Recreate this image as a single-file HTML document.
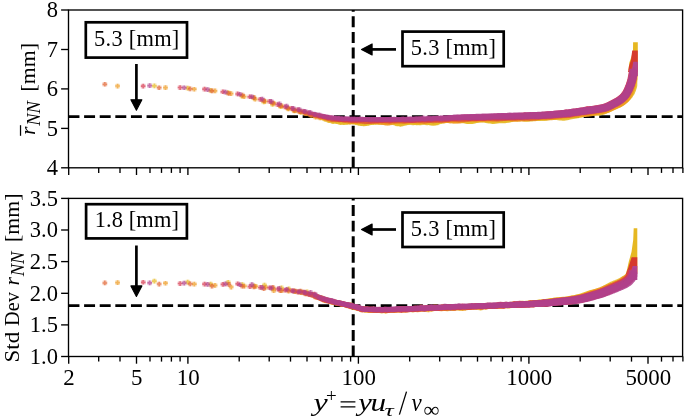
<!DOCTYPE html>
<html><head><meta charset="utf-8"><title>chart</title><style>html,body{margin:0;padding:0;background:#fff;overflow:hidden}svg{display:block;will-change:transform}svg text{font-family:"Liberation Serif",serif}</style></head><body>
<svg width="685" height="419" viewBox="0 0 685 419" font-family="Liberation Serif, serif" fill="#000">
<rect width="685" height="419" fill="#fff"/>
<defs><linearGradient id="g0" gradientUnits="userSpaceOnUse" x1="288" y1="0" x2="338" y2="0"><stop offset="0" stop-color="#e6b822" stop-opacity="0"/><stop offset="1" stop-color="#e6b822" stop-opacity="0.88"/></linearGradient><linearGradient id="g1" gradientUnits="userSpaceOnUse" x1="288" y1="0" x2="338" y2="0"><stop offset="0" stop-color="#ee9a20" stop-opacity="0"/><stop offset="1" stop-color="#ee9a20" stop-opacity="0.88"/></linearGradient><linearGradient id="g2" gradientUnits="userSpaceOnUse" x1="288" y1="0" x2="338" y2="0"><stop offset="0" stop-color="#e06230" stop-opacity="0"/><stop offset="1" stop-color="#e06230" stop-opacity="0.88"/></linearGradient><linearGradient id="g3" gradientUnits="userSpaceOnUse" x1="288" y1="0" x2="338" y2="0"><stop offset="0" stop-color="#d63a50" stop-opacity="0"/><stop offset="1" stop-color="#d63a50" stop-opacity="0.88"/></linearGradient><linearGradient id="g4" gradientUnits="userSpaceOnUse" x1="288" y1="0" x2="338" y2="0"><stop offset="0" stop-color="#b0408c" stop-opacity="0"/><stop offset="1" stop-color="#b0408c" stop-opacity="0.88"/></linearGradient></defs>
<line x1="68.5" y1="116.6" x2="682.6" y2="116.6" stroke="#000" stroke-width="2.9" stroke-dasharray="10.95 4.66"/>
<line x1="353.2" y1="167.8" x2="353.2" y2="10.0" stroke="#000" stroke-width="3.0" stroke-dasharray="10.95 4.66"/>
<path d="M633.1 42.2L637.8 42.2L637.8 70L628.5 70L629.3 62.7L631.7 56L633.0 50.3Z" fill="#e6b822"/>
<path d="M286.0 106.1L287.5 106.7L289.0 107.2L290.5 107.6L292.0 108.0L293.5 108.4L295.0 108.7L296.5 109.0L298.0 109.4L299.5 109.8L301.0 110.2L302.5 110.7L304.0 111.1L305.5 111.5L307.0 111.9L308.5 112.1L310.1 112.4L311.6 112.5L313.2 112.7L314.7 112.9L316.2 113.2L317.7 113.6L319.2 114.1L320.6 114.7L322.1 115.4L323.5 116.1L324.9 116.8L326.3 117.4L327.8 118.0L329.3 118.4L330.8 118.7L332.3 119.0L333.9 119.2L335.4 119.4L336.9 119.6L338.4 119.9L339.9 120.1L341.4 120.3L342.9 120.4L344.4 120.3L345.9 120.2L347.5 120.1L349.0 119.9L350.5 119.7L352.0 119.6L353.5 119.7L355.0 120.0L356.5 120.3L358.0 120.7L359.5 121.1L361.0 121.4L362.5 121.6L364.0 121.6L365.5 121.5L367.0 121.3L368.5 120.9L370.0 120.6L371.5 120.4L373.0 120.2L374.5 120.1L376.0 120.1L377.5 120.0L379.0 120.0L380.5 119.8L382.0 119.7L383.5 119.5L385.0 119.3L386.5 119.2L388.0 119.2L389.5 119.4L391.0 119.7L392.5 120.1L394.0 120.6L395.5 121.0L397.0 121.4L398.5 121.6L400.0 121.6L401.5 121.5L403.0 121.3L404.5 121.0L406.0 120.7L407.5 120.4L409.0 120.3L410.5 120.2L412.0 120.3L413.5 120.3L415.0 120.4L416.5 120.4L418.0 120.4L419.5 120.3L421.0 120.2L422.5 120.1L424.0 120.0L425.5 120.1L427.1 120.2L428.6 120.4L430.1 120.6L431.6 120.8L433.1 120.9L434.6 120.9L436.1 120.6L437.6 120.2L439.1 119.7L440.5 119.2L442.0 118.6L443.5 118.1L445.0 117.7L446.5 117.5L448.0 117.4L449.5 117.4L451.0 117.5L452.5 117.5L454.0 117.5L455.5 117.5L457.0 117.4L458.5 117.3L460.0 117.3L461.5 117.3L463.0 117.4L464.5 117.6L466.0 117.8L467.5 118.0L469.0 118.2L470.5 118.2L472.0 118.1L473.5 117.8L475.0 117.4L476.5 117.1L478.0 116.7L479.5 116.4L481.0 116.3L482.5 116.3L484.0 116.4L485.5 116.7L487.0 116.9L488.5 117.2L490.0 117.3L491.5 117.4L493.0 117.3L494.5 117.2L496.0 117.1L497.5 117.0L499.0 116.9L500.5 116.8L502.0 116.8L503.5 116.7L505.0 116.6L506.5 116.4L508.0 116.2L509.5 115.8L511.0 115.4L512.5 114.9L514.0 114.6L515.5 114.3L517.0 114.1L518.5 114.0L520.0 114.1L521.5 114.3L523.0 114.5L524.5 114.6L526.0 114.7L527.5 114.7L529.0 114.7L530.5 114.5L532.0 114.4L533.5 114.2L535.0 114.1L536.4 113.9L537.9 113.9L539.4 113.8L540.9 113.8L542.4 113.7L543.9 113.6L545.4 113.5L546.9 113.3L548.4 113.0L549.9 112.8L551.4 112.7L552.8 112.6L554.4 112.6L555.9 112.7L557.4 112.9L558.9 113.1L560.4 113.2L562.0 113.3L563.5 113.3L565.0 113.1L566.5 112.9L567.9 112.6L569.4 112.2L570.9 111.8L572.4 111.5L573.8 111.2L575.3 111.0L576.8 110.7L578.3 110.5L579.8 110.2L581.3 109.9L582.8 109.5L584.2 109.1L585.7 108.8L587.2 108.5L588.7 108.2L590.2 108.1L591.8 108.1L593.3 108.1L594.8 108.1L596.3 108.1L597.8 108.0L599.3 107.8L600.8 107.5L601.3 107.3L601.8 107.2L602.2 107.0L602.7 106.8L603.2 106.6L603.7 106.4L604.1 106.2L604.5 106.0L605.0 105.8L605.4 105.6L605.9 105.3L606.3 105.1L606.7 104.9L607.2 104.6L607.6 104.4L608.1 104.1L608.6 103.9L609.1 103.7L609.5 103.4L610.0 103.2L610.5 103.0L611.0 102.7L611.5 102.5L612.0 102.3L612.6 102.1L613.1 101.8L613.6 101.6L614.1 101.4L614.6 101.2L615.1 101.0L615.6 100.7L616.1 100.5L616.6 100.2L617.1 100.0L617.6 99.7L618.1 99.4L618.5 99.1L619.0 98.8L619.5 98.5L620.0 98.1L620.5 97.7L621.0 97.4L621.4 97.0L621.9 96.6L622.4 96.1L622.9 95.7L623.4 95.2L623.9 94.7L624.4 94.1L624.9 93.5L625.4 92.9L625.9 92.1L626.5 91.2L627.0 90.3L627.5 89.2L627.9 88.0L628.3 86.8L628.7 85.6L629.0 84.3L629.4 82.9L629.7 81.3L630.1 79.6L630.4 77.6L630.7 74.9L631.0 72.0L631.3 69.0L637.3 70.5L637.3 73.5L637.3 76.4L637.3 79.4L637.3 81.8L637.3 83.8L637.3 85.6L637.0 87.3L636.5 88.7L636.1 90.1L635.6 91.4L635.1 92.6L634.6 93.9L633.9 95.0L633.2 96.1L632.5 97.2L631.7 98.2L630.9 99.1L630.2 99.9L629.5 100.6L628.8 101.3L628.1 102.0L627.5 102.6L626.8 103.1L626.2 103.6L625.5 104.1L624.9 104.6L624.3 105.0L623.7 105.4L623.1 105.8L622.5 106.2L621.9 106.6L621.3 106.9L620.7 107.2L620.1 107.5L619.5 107.8L618.9 108.1L618.4 108.3L617.8 108.5L617.2 108.8L616.7 109.0L616.2 109.2L615.7 109.4L615.2 109.6L614.6 109.9L614.1 110.1L613.5 110.3L613.0 110.6L612.5 110.8L611.9 111.1L611.4 111.4L610.8 111.7L610.2 111.9L609.7 112.2L609.1 112.5L608.5 112.8L607.9 113.1L607.3 113.3L606.7 113.6L606.1 113.9L605.5 114.1L604.9 114.3L604.4 114.5L603.9 114.7L603.3 114.8L602.8 115.0L602.3 115.1L600.7 115.5L599.1 115.7L597.5 115.8L595.9 115.8L594.3 115.8L592.8 115.7L591.2 115.7L589.7 115.9L588.3 116.1L586.8 116.3L585.3 116.7L583.9 117.1L582.4 117.4L580.9 117.7L579.4 118.0L577.9 118.2L576.3 118.4L574.8 118.7L573.3 119.0L571.8 119.3L570.3 119.6L568.8 120.0L567.3 120.3L565.7 120.6L564.2 120.7L562.6 120.7L561.1 120.6L559.6 120.5L558.0 120.3L556.5 120.1L555.0 119.9L553.4 119.9L551.9 120.0L550.4 120.1L548.9 120.3L547.4 120.5L545.8 120.7L544.3 120.9L542.8 120.9L541.2 121.0L539.7 121.0L538.2 121.0L536.7 121.1L535.2 121.2L533.7 121.3L532.2 121.4L530.7 121.6L529.2 121.7L527.7 121.7L526.1 121.7L524.6 121.5L523.1 121.3L521.6 121.1L520.1 120.9L518.6 120.8L517.1 120.9L515.6 121.0L514.1 121.3L512.6 121.7L511.1 122.1L509.6 122.4L508.1 122.8L506.6 123.0L505.2 123.2L503.7 123.3L502.2 123.3L500.7 123.3L499.2 123.3L497.7 123.4L496.2 123.5L494.7 123.6L493.2 123.7L491.7 123.7L490.2 123.6L488.7 123.4L487.2 123.2L485.6 122.9L484.1 122.6L482.6 122.5L481.1 122.4L479.6 122.5L478.1 122.8L476.7 123.1L475.2 123.5L473.7 123.8L472.2 124.0L470.7 124.1L469.2 124.1L467.7 123.9L466.2 123.7L464.7 123.4L463.2 123.2L461.7 123.1L460.2 123.0L458.7 122.9L457.2 122.9L455.7 122.9L454.2 122.9L452.7 122.8L451.2 122.7L449.7 122.5L448.2 122.4L446.7 122.4L445.2 122.6L443.7 122.9L442.2 123.3L440.7 123.8L439.3 124.3L437.8 124.8L436.3 125.2L434.8 125.4L433.3 125.5L431.7 125.4L430.2 125.2L428.7 125.0L427.2 124.8L425.7 124.6L424.2 124.6L422.7 124.6L421.2 124.8L419.7 124.9L418.2 125.0L416.7 125.0L415.2 125.0L413.7 124.9L412.1 124.8L410.6 124.8L409.1 124.8L407.6 125.0L406.1 125.2L404.6 125.5L403.1 125.8L401.6 126.1L400.1 126.2L398.6 126.1L397.1 125.9L395.6 125.5L394.1 125.1L392.5 124.6L391.0 124.2L389.5 123.9L388.0 123.7L386.5 123.7L385.0 123.8L383.5 124.0L382.0 124.2L380.5 124.3L379.0 124.5L377.5 124.5L376.0 124.5L374.5 124.6L372.9 124.7L371.4 124.9L369.9 125.1L368.4 125.4L366.9 125.7L365.4 126.0L363.9 126.1L362.4 126.1L360.9 125.9L359.4 125.6L357.9 125.2L356.4 124.8L354.9 124.4L353.4 124.2L351.9 124.1L350.3 124.2L348.8 124.3L347.3 124.5L345.7 124.7L344.2 124.8L342.7 124.8L341.1 124.7L339.6 124.5L338.1 124.3L336.6 124.0L335.1 123.8L333.4 123.6L331.8 123.4L330.1 123.1L328.5 122.7L326.9 122.3L325.4 121.8L323.9 121.1L322.4 120.4L321.0 119.7L319.6 119.0L318.2 118.4L316.7 117.9L315.2 117.5L313.7 117.1L312.1 116.9L310.5 116.7L309.0 116.4L307.4 116.2L305.9 115.9L304.3 115.5L302.9 115.1L301.4 114.6L299.9 114.1L298.5 113.7L297.0 113.3L295.5 112.9L294.0 112.5L292.5 112.2L291.0 111.8L289.5 111.4L288.0 110.9L286.5 110.4L285.0 109.8Z" fill="url(#g0)"/>
<defs><path id="mt0" d="M152.0 85.9h4.7M154.4 83.6v4.7M185.4 88.1h4.7M187.7 85.8v4.7M208.2 90.4h4.7M210.6 88.1v4.7M225.7 92.6h4.7M228.0 90.2v4.7M239.6 96.2h4.7M241.9 93.9v4.7M251.5 97.9h4.7M253.9 95.6v4.7M261.4 101.8h4.7M263.8 99.5v4.7M270.2 104.4h4.7M272.6 102.1v4.7M278.4 106.8h4.7M280.7 104.4v4.7M285.8 108.3h4.7M288.2 106.0v4.7M292.2 110.9h4.7M294.5 108.6v4.7M298.3 112.0h4.7M300.7 109.7v4.7M303.8 113.8h4.7M306.2 111.4v4.7M309.3 114.5h4.7M311.6 112.1v4.7M314.2 115.7h4.7M316.5 113.4v4.7M318.7 117.0h4.7M321.0 114.6v4.7M322.7 119.2h4.7M325.0 116.9v4.7M326.8 120.7h4.7M329.1 118.3v4.7M330.8 121.8h4.7M333.1 119.4v4.7M334.6 121.3h4.7M337.0 119.0v4.7M338.1 122.7h4.7M340.4 120.4v4.7M341.5 122.8h4.7M343.8 120.4v4.7M344.7 122.2h4.7M347.1 119.9v4.7M347.8 122.0h4.7M350.2 119.7v4.7M350.8 121.8h4.7M353.1 119.5v4.7M353.6 122.7h4.7M355.9 120.4v4.7M356.3 123.2h4.7M358.6 120.8v4.7M358.9 123.7h4.7M361.3 121.3v4.7M361.4 123.8h4.7M363.8 121.5v4.7M363.9 123.6h4.7M366.3 121.2v4.7M366.3 123.1h4.7M368.6 120.8v4.7M368.6 122.6h4.7M371.0 120.2v4.7M370.8 122.8h4.7M373.2 120.4v4.7M373.0 122.0h4.7M375.4 119.7v4.7M375.1 121.7h4.7M377.5 119.4v4.7M377.2 122.2h4.7M379.5 119.8v4.7M379.2 122.0h4.7M381.5 119.6v4.7M381.1 121.8h4.7M383.5 119.5v4.7M383.0 121.5h4.7M385.3 119.2v4.7M384.8 121.4h4.7M387.2 119.1v4.7M386.6 121.6h4.7M389.0 119.3v4.7M388.4 122.1h4.7M390.7 119.7v4.7M390.1 122.2h4.7M392.5 119.9v4.7M391.8 122.8h4.7M394.1 120.4v4.7M393.4 123.7h4.7M395.8 121.4v4.7M395.0 123.8h4.7M397.4 121.5v4.7M396.6 123.7h4.7M399.0 121.3v4.7M398.2 124.4h4.7M400.5 122.0v4.7M399.7 123.9h4.7M402.0 121.5v4.7M401.1 123.3h4.7M403.5 121.0v4.7M402.6 122.9h4.7M404.9 120.6v4.7M404.0 123.0h4.7M406.3 120.6v4.7M405.4 122.5h4.7M407.7 120.2v4.7M406.8 122.3h4.7M409.1 120.0v4.7M408.1 122.2h4.7M410.4 119.9v4.7M409.4 122.4h4.7M411.8 120.1v4.7M410.7 122.9h4.7M413.1 120.5v4.7M412.0 122.5h4.7M414.4 120.2v4.7M413.3 122.3h4.7M415.6 120.0v4.7M414.5 122.9h4.7M416.9 120.5v4.7M415.7 122.7h4.7M418.1 120.3v4.7M416.9 122.8h4.7M419.3 120.5v4.7M418.1 122.9h4.7M420.4 120.5v4.7M419.2 122.4h4.7M421.6 120.0v4.7M420.4 122.3h4.7M422.7 120.0v4.7M421.5 122.3h4.7M423.8 120.0v4.7M422.6 122.0h4.7M424.9 119.6v4.7M423.7 122.6h4.7M426.0 120.2v4.7M424.8 122.9h4.7M427.1 120.5v4.7M425.8 122.7h4.7M428.2 120.3v4.7M426.8 122.7h4.7M429.2 120.3v4.7M427.9 122.8h4.7M430.2 120.5v4.7M428.9 122.8h4.7M431.2 120.5v4.7M429.9 122.9h4.7M432.3 120.6v4.7M430.9 123.1h4.7M433.2 120.7v4.7M431.9 122.9h4.7M434.2 120.6v4.7M432.8 122.9h4.7M435.2 120.6v4.7M433.8 122.4h4.7M436.1 120.1v4.7M434.7 122.8h4.7M437.1 120.5v4.7M435.6 122.5h4.7M438.0 120.1v4.7M436.5 121.7h4.7M438.9 119.4v4.7M437.4 121.0h4.7M439.7 118.7v4.7M438.3 121.5h4.7M440.7 119.1v4.7M439.2 121.5h4.7M441.5 119.2v4.7M440.0 120.6h4.7M442.4 118.2v4.7M440.9 120.4h4.7M443.2 118.1v4.7M441.7 120.2h4.7M444.1 117.8v4.7M442.6 120.4h4.7M444.9 118.1v4.7M443.4 119.7h4.7M445.7 117.4v4.7M444.2 120.3h4.7M446.6 118.0v4.7M445.0 119.8h4.7M447.4 117.5v4.7M445.8 120.3h4.7M448.2 117.9v4.7M446.6 120.0h4.7M449.0 117.6v4.7M447.4 119.9h4.7M449.7 117.5v4.7M448.2 119.5h4.7M450.5 117.1v4.7M448.9 119.8h4.7M451.3 117.5v4.7M449.7 120.0h4.7M452.1 117.7v4.7M450.5 120.4h4.7M452.8 118.1v4.7M451.2 120.3h4.7M453.6 117.9v4.7M451.9 119.9h4.7M454.3 117.6v4.7M452.7 120.4h4.7M455.0 118.0v4.7M453.4 120.6h4.7M455.8 118.2v4.7M454.1 120.1h4.7M456.5 117.8v4.7M454.8 120.0h4.7M457.2 117.6v4.7M455.5 120.0h4.7M457.9 117.6v4.7M456.9 120.4h4.7M459.3 118.1v4.7M458.3 120.3h4.7M460.6 118.0v4.7M459.6 119.8h4.7M461.9 117.5v4.7M460.9 120.5h4.7M463.3 118.1v4.7M462.2 120.3h4.7M464.6 118.0v4.7M463.5 120.4h4.7M465.8 118.0v4.7M464.8 121.4h4.7M467.1 119.0v4.7M466.0 121.4h4.7M468.3 119.0v4.7M467.2 120.8h4.7M469.5 118.5v4.7M468.4 121.2h4.7M470.7 118.8v4.7M469.5 121.3h4.7M471.9 118.9v4.7M470.7 120.6h4.7M473.0 118.3v4.7M471.8 120.6h4.7M474.1 118.3v4.7M472.9 120.7h4.7M475.3 118.4v4.7M474.0 119.4h4.7M476.3 117.0v4.7M475.1 120.0h4.7M477.4 117.7v4.7M476.1 120.0h4.7M478.5 117.6v4.7M477.2 119.7h4.7M479.5 117.4v4.7M478.2 118.8h4.7M480.6 116.5v4.7M479.2 119.5h4.7M481.6 117.1v4.7M480.2 119.0h4.7M482.6 116.7v4.7M481.3 119.7h4.7M483.6 117.4v4.7M482.2 119.9h4.7M484.6 117.5v4.7M483.2 119.9h4.7M485.6 117.5v4.7M484.2 119.6h4.7M486.5 117.3v4.7M485.1 119.9h4.7M487.5 117.5v4.7M486.1 120.6h4.7M488.4 118.3v4.7M487.0 120.0h4.7M489.3 117.7v4.7M487.9 120.7h4.7M490.3 118.3v4.7M488.8 120.8h4.7M491.2 118.4v4.7M489.7 120.4h4.7M492.0 118.1v4.7M490.6 121.6h4.7M492.9 119.2v4.7M491.4 120.5h4.7M493.8 118.2v4.7M492.3 121.4h4.7M494.7 119.0v4.7M493.1 119.5h4.7M495.5 117.1v4.7M493.9 119.3h4.7M496.3 116.9v4.7M494.8 120.7h4.7M497.2 118.3v4.7M495.6 120.5h4.7M498.0 118.1v4.7M496.4 120.0h4.7M498.8 117.6v4.7M497.2 120.1h4.7M499.6 117.7v4.7M498.0 119.2h4.7M500.4 116.9v4.7M498.8 119.8h4.7M501.2 117.4v4.7M499.6 119.6h4.7M501.9 117.2v4.7M500.3 119.9h4.7M502.7 117.6v4.7M501.1 120.4h4.7M503.5 118.0v4.7M501.9 120.0h4.7M504.2 117.6v4.7M502.6 120.1h4.7M505.0 117.7v4.7M503.3 119.5h4.7M505.7 117.2v4.7M504.1 119.6h4.7M506.4 117.2v4.7M504.8 119.7h4.7M507.1 117.3v4.7M505.5 119.4h4.7M507.8 117.0v4.7M506.2 119.9h4.7M508.6 117.6v4.7M506.9 118.8h4.7M509.2 116.4v4.7M508.0 119.8h4.7M510.3 117.5v4.7M509.0 118.2h4.7M511.3 115.8v4.7M510.0 118.9h4.7M512.3 116.5v4.7M511.0 117.7h4.7M513.3 115.4v4.7M512.0 118.6h4.7M514.3 116.3v4.7M512.9 117.7h4.7M515.3 115.4v4.7M513.9 117.7h4.7M516.2 115.4v4.7M514.8 117.8h4.7M517.2 115.5v4.7M515.8 117.1h4.7M518.1 114.8v4.7M516.7 117.0h4.7M519.0 114.6v4.7M517.6 116.6h4.7M519.9 114.2v4.7M518.5 118.2h4.7M520.9 115.8v4.7M519.4 117.4h4.7M521.7 115.0v4.7M520.3 117.6h4.7M522.6 115.2v4.7M521.2 117.9h4.7M523.5 115.6v4.7M522.0 119.0h4.7M524.4 116.7v4.7M522.9 117.3h4.7M525.2 115.0v4.7M523.7 118.3h4.7M526.1 116.0v4.7M524.5 118.0h4.7M526.9 115.7v4.7M525.4 118.5h4.7M527.7 116.1v4.7M526.2 117.3h4.7M528.5 115.0v4.7M527.0 118.0h4.7M529.3 115.6v4.7M527.8 118.5h4.7M530.2 116.2v4.7M528.6 118.8h4.7M531.0 116.4v4.7M529.4 118.7h4.7M531.7 116.4v4.7M530.1 117.4h4.7M532.5 115.1v4.7M530.9 117.8h4.7M533.2 115.5v4.7M531.6 117.6h4.7M534.0 115.3v4.7M532.4 117.0h4.7M534.7 114.6v4.7M533.1 116.9h4.7M535.5 114.5v4.7M533.9 117.9h4.7M536.2 115.6v4.7M534.6 117.6h4.7M537.0 115.3v4.7M535.3 117.4h4.7M537.7 115.0v4.7M536.1 118.0h4.7M538.4 115.7v4.7M536.7 116.9h4.7M539.1 114.6v4.7M537.7 117.7h4.7M540.0 115.3v4.7M538.6 117.4h4.7M540.9 115.0v4.7M539.5 117.3h4.7M541.9 115.0v4.7M540.4 117.6h4.7M542.8 115.2v4.7M541.3 117.4h4.7M543.7 115.0v4.7M542.2 117.3h4.7M544.5 115.0v4.7M543.1 117.2h4.7M545.4 114.9v4.7M544.0 118.0h4.7M546.3 115.6v4.7M544.7 116.7h4.7M547.1 114.4v4.7M545.6 117.3h4.7M548.0 114.9v4.7M546.4 116.9h4.7M548.8 114.6v4.7M547.2 116.3h4.7M549.6 114.0v4.7M548.1 116.8h4.7M550.4 114.5v4.7M548.8 115.9h4.7M551.2 113.6v4.7M549.7 116.9h4.7M552.0 114.5v4.7M550.4 115.8h4.7M552.7 113.5v4.7M551.2 116.0h4.7M553.5 113.7v4.7M552.0 116.4h4.7M554.3 114.1v4.7M552.8 116.7h4.7M555.1 114.4v4.7M553.5 116.8h4.7M555.9 114.5v4.7M554.3 116.9h4.7M556.7 114.6v4.7M555.0 116.4h4.7M557.4 114.1v4.7M555.7 116.1h4.7M558.1 113.8v4.7M556.5 117.0h4.7M558.9 114.7v4.7M557.2 117.0h4.7M559.6 114.6v4.7M557.9 116.4h4.7M560.3 114.0v4.7M558.7 117.5h4.7M561.1 115.1v4.7M559.6 117.1h4.7M561.9 114.8v4.7M560.4 116.5h4.7M562.7 114.2v4.7M561.3 117.2h4.7M563.6 114.9v4.7M562.1 116.3h4.7M564.4 113.9v4.7M562.9 116.4h4.7M565.3 114.0v4.7M563.8 116.9h4.7M566.2 114.6v4.7M564.5 115.8h4.7M566.9 113.4v4.7M565.4 116.4h4.7M567.8 114.1v4.7M566.1 115.5h4.7M568.5 113.2v4.7M567.0 116.4h4.7M569.4 114.1v4.7M567.7 115.5h4.7M570.1 113.1v4.7M568.5 115.8h4.7M570.9 113.4v4.7M569.2 114.7h4.7M571.5 112.4v4.7M570.0 115.2h4.7M572.3 112.8v4.7M570.8 115.7h4.7M573.2 113.3v4.7M571.5 115.3h4.7M573.9 112.9v4.7M572.1 113.9h4.7M574.4 111.6v4.7M573.0 115.3h4.7M575.4 112.9v4.7M573.7 115.1h4.7M576.1 112.8v4.7M574.4 114.4h4.7M576.7 112.0v4.7M575.2 115.2h4.7M577.5 112.9v4.7M575.7 113.8h4.7M578.0 111.4v4.7M576.6 114.2h4.7M578.9 111.8v4.7M577.5 114.7h4.7M579.9 112.3v4.7M578.3 114.6h4.7M580.7 112.3v4.7M579.1 114.4h4.7M581.5 112.1v4.7M579.7 113.0h4.7M582.1 110.6v4.7M580.4 112.4h4.7M582.8 110.1v4.7M581.4 113.4h4.7M583.7 111.0v4.7M582.0 112.2h4.7M584.3 109.9v4.7M582.8 112.7h4.7M585.2 110.4v4.7M583.5 111.9h4.7M585.8 109.6v4.7M584.4 113.0h4.7M586.7 110.7v4.7M585.1 112.8h4.7M587.5 110.4v4.7M585.8 112.5h4.7M588.1 110.1v4.7M586.5 112.1h4.7M588.8 109.7v4.7M587.2 112.0h4.7M589.5 109.7v4.7M587.9 111.8h4.7M590.2 109.4v4.7M588.6 112.1h4.7M591.0 109.8v4.7M589.3 112.0h4.7M591.7 109.7v4.7M590.2 112.2h4.7M592.5 109.8v4.7M590.9 111.7h4.7M593.3 109.3v4.7M591.9 113.0h4.7M594.2 110.6v4.7M592.6 112.1h4.7M594.9 109.8v4.7M593.5 112.8h4.7M595.8 110.4v4.7M594.2 112.7h4.7M596.6 110.4v4.7M594.8 111.5h4.7M597.2 109.1v4.7M595.5 111.0h4.7M597.9 108.6v4.7M596.6 112.5h4.7M598.9 110.2v4.7M597.2 111.5h4.7M599.5 109.2v4.7M598.0 111.7h4.7M600.3 109.3v4.7M598.7 111.3h4.7M601.0 108.9v4.7M599.4 111.3h4.7M601.8 109.0v4.7M600.0 110.4h4.7M602.3 108.0v4.7M600.8 110.7h4.7M603.2 108.4v4.7M601.5 110.3h4.7M603.8 107.9v4.7M602.2 110.3h4.7M604.5 107.9v4.7M602.7 108.6h4.7M605.0 106.3v4.7M604.0 110.0h4.7M606.3 107.7v4.7M604.7 109.4h4.7M607.0 107.0v4.7M605.0 107.9h4.7M607.4 105.5v4.7M606.0 108.0h4.7M608.3 105.7v4.7M606.9 108.0h4.7M609.2 105.7v4.7M607.8 108.0h4.7M610.1 105.6v4.7M608.4 107.3h4.7M610.7 104.9v4.7M609.4 107.6h4.7M611.8 105.3v4.7M609.8 106.6h4.7M612.2 104.2v4.7M610.3 105.7h4.7M612.6 103.4v4.7M611.1 105.6h4.7M613.4 103.2v4.7M612.2 106.0h4.7M614.5 103.7v4.7M612.5 105.0h4.7M614.9 102.7v4.7M613.6 105.5h4.7M616.0 103.1v4.7M614.4 105.3h4.7M616.7 102.9v4.7M615.0 104.7h4.7M617.3 102.4v4.7M615.8 104.6h4.7M618.2 102.3v4.7M616.2 103.7h4.7M618.5 101.3v4.7M616.9 103.4h4.7M619.3 101.0v4.7M617.5 102.7h4.7M619.8 100.3v4.7M618.1 102.3h4.7M620.5 99.9v4.7M618.5 101.4h4.7M620.9 99.0v4.7M619.5 101.4h4.7M621.9 99.0v4.7M620.0 100.6h4.7M622.3 98.3v4.7M620.5 100.0h4.7M622.9 97.6v4.7M621.8 100.1h4.7M624.1 97.8v4.7M622.5 99.8h4.7M624.9 97.4v4.7M622.8 98.9h4.7M625.1 96.5v4.7M624.1 99.0h4.7M626.5 96.7v4.7M624.6 98.2h4.7M626.9 95.9v4.7M625.3 97.6h4.7M627.6 95.3v4.7M625.0 96.4h4.7M627.4 94.1v4.7M625.1 95.4h4.7M627.5 93.1v4.7M626.7 95.4h4.7M629.1 93.0v4.7M627.1 94.5h4.7M629.5 92.2v4.7M627.8 94.0h4.7M630.1 91.6v4.7M628.1 93.2h4.7M630.4 90.8v4.7M629.0 92.7h4.7M631.3 90.3v4.7M628.5 91.5h4.7M630.9 89.1v4.7M629.4 90.9h4.7M631.7 88.6v4.7M628.8 89.7h4.7M631.2 87.3v4.7M628.3 88.7h4.7M630.7 86.3v4.7M629.6 88.4h4.7M631.9 86.1v4.7M630.9 88.1h4.7M633.2 85.8v4.7M629.3 86.7h4.7M631.7 84.4v4.7M631.1 86.6h4.7M633.4 84.2v4.7M630.4 85.4h4.7M632.7 83.1v4.7M630.7 84.7h4.7M633.1 82.3v4.7M631.2 83.9h4.7M633.6 81.6v4.7M631.5 83.0h4.7M633.9 80.7v4.7M631.0 81.9h4.7M633.4 79.5v4.7M631.8 81.3h4.7M634.2 79.0v4.7M632.2 80.6h4.7M634.5 78.2v4.7M632.5 79.8h4.7M634.9 77.4v4.7M631.8 78.7h4.7M634.1 76.3v4.7M632.6 77.9h4.7M635.0 75.6v4.7M632.6 77.2h4.7M635.0 74.9v4.7M632.6 76.5h4.7M635.0 74.2v4.7M631.8 75.3h4.7M634.2 73.0v4.7M632.6 74.7h4.7M635.0 72.3v4.7M631.7 73.7h4.7M634.0 71.4v4.7M632.6 73.2h4.7M635.0 70.8v4.7M632.6 72.4h4.7M635.0 70.1v4.7M632.3 71.5h4.7M634.7 69.1v4.7M632.2 70.7h4.7M634.5 68.3v4.7M632.6 70.1h4.7M635.0 67.7v4.7"/></defs>
<use href="#mt0" stroke="#e6b822" stroke-width="4.2" fill="none" opacity="0.3"/>
<use href="#mt0" stroke="#e6b822" stroke-width="1.7" fill="none" opacity="0.62"/>
<path d="M286.0 106.1L287.5 106.5L289.0 107.0L290.5 107.5L292.0 107.9L293.5 108.3L295.0 108.7L296.5 109.0L298.0 109.3L299.6 109.5L301.1 109.8L302.6 110.1L304.2 110.4L305.7 110.8L307.1 111.4L308.6 111.9L310.0 112.5L311.5 113.1L313.0 113.7L314.4 114.1L315.9 114.5L317.4 114.8L319.0 115.1L320.5 115.4L322.0 115.7L323.5 115.9L325.0 116.3L326.5 116.6L328.0 116.9L329.5 117.1L331.0 117.3L332.5 117.5L334.1 117.5L335.6 117.5L337.1 117.4L338.6 117.4L340.1 117.4L341.6 117.6L343.0 117.8L344.5 118.2L346.0 118.5L347.5 118.9L349.0 119.2L350.5 119.4L352.0 119.6L353.5 119.6L355.0 119.5L356.5 119.4L358.0 119.2L359.5 119.2L361.0 119.1L362.5 119.2L364.0 119.2L365.5 119.3L367.0 119.4L368.5 119.5L370.0 119.5L371.5 119.4L373.0 119.4L374.5 119.4L376.0 119.4L377.5 119.5L379.0 119.7L380.5 120.0L382.0 120.2L383.5 120.5L385.0 120.7L386.5 120.7L388.0 120.7L389.5 120.5L391.0 120.2L392.5 119.9L394.0 119.6L395.5 119.3L397.0 119.1L398.5 119.0L400.0 118.9L401.5 118.9L403.0 118.9L404.5 118.9L406.0 118.9L407.5 118.8L409.0 118.7L410.5 118.6L412.0 118.6L413.5 118.6L415.0 118.7L416.5 118.8L418.0 119.0L419.5 119.1L421.0 119.2L422.5 119.2L424.0 119.1L425.5 118.9L427.0 118.7L428.5 118.4L430.0 118.1L431.5 117.9L433.0 117.7L434.5 117.7L436.0 117.8L437.5 117.9L439.0 118.0L440.5 118.2L442.0 118.2L443.5 118.3L445.0 118.2L446.5 118.2L448.0 118.1L449.5 118.0L451.0 118.0L452.5 118.0L454.0 118.1L455.5 118.1L457.0 118.0L458.5 117.9L460.0 117.7L461.5 117.4L463.0 117.1L464.5 116.7L466.0 116.3L467.5 116.0L469.0 115.8L470.5 115.7L472.0 115.8L473.5 115.9L475.0 116.0L476.5 116.1L478.0 116.2L479.5 116.2L481.0 116.2L482.5 116.0L484.0 115.9L485.5 115.7L487.0 115.6L488.5 115.5L490.0 115.5L491.5 115.5L493.0 115.4L494.5 115.3L496.0 115.2L497.5 115.0L499.0 114.8L500.5 114.5L502.0 114.3L503.5 114.2L505.0 114.1L506.5 114.2L508.0 114.3L509.5 114.5L511.0 114.7L512.5 114.9L514.0 115.0L515.5 115.1L517.0 115.1L518.5 115.0L520.0 114.8L521.5 114.7L523.0 114.5L524.5 114.4L526.0 114.3L527.5 114.2L529.0 114.1L530.5 114.0L532.0 113.9L533.4 113.7L534.9 113.5L536.4 113.3L537.9 113.1L539.4 113.0L540.9 112.9L542.4 112.8L543.9 112.9L545.4 112.9L546.9 113.0L548.4 113.0L549.9 113.0L551.4 112.9L552.9 112.7L554.3 112.5L555.8 112.2L557.3 111.9L558.8 111.7L560.3 111.4L561.8 111.2L563.3 111.0L564.7 110.9L566.2 110.8L567.7 110.6L569.2 110.4L570.7 110.2L572.2 110.0L573.7 109.8L575.2 109.6L576.7 109.5L578.2 109.4L579.7 109.3L581.2 109.3L582.7 109.3L584.3 109.3L585.8 109.2L587.3 109.1L588.8 108.9L590.3 108.6L591.8 108.2L593.3 107.9L594.7 107.5L596.2 107.2L597.7 106.9L599.1 106.6L600.6 106.4L601.1 106.3L601.6 106.3L602.1 106.2L602.6 106.1L603.0 106.0L603.5 105.9L604.0 105.8L604.5 105.7L604.9 105.6L605.4 105.5L605.9 105.3L606.3 105.1L606.8 105.0L607.3 104.8L607.7 104.6L608.2 104.3L608.7 104.1L609.2 103.9L609.6 103.6L610.1 103.4L610.6 103.1L611.1 102.9L611.6 102.6L612.1 102.4L612.6 102.1L613.1 101.9L613.6 101.6L614.1 101.4L614.6 101.2L615.1 100.9L615.6 100.7L616.1 100.5L616.6 100.2L617.1 100.0L617.6 99.7L618.1 99.4L618.6 99.1L619.1 98.8L619.5 98.5L620.0 98.2L620.5 97.8L621.0 97.4L621.5 97.0L621.9 96.6L622.3 96.1L622.8 95.6L623.2 95.1L623.6 94.5L624.0 93.9L624.4 93.2L624.8 92.5L625.1 91.6L625.5 90.7L625.9 89.7L626.2 88.6L626.5 87.4L626.8 86.2L627.1 85.0L627.5 83.7L627.8 82.3L628.2 80.9L628.5 79.2L628.9 77.3L629.3 74.7L629.7 71.8L630.1 68.8L637.3 70.3L637.3 73.2L637.3 76.2L637.3 79.1L636.8 81.4L636.4 83.3L635.9 85.1L635.4 86.7L635.0 88.1L634.6 89.5L634.2 90.8L633.8 92.1L633.4 93.3L632.9 94.5L632.4 95.7L631.8 96.8L631.2 97.8L630.6 98.8L630.0 99.7L629.3 100.5L628.7 101.2L628.1 101.9L627.5 102.6L626.8 103.1L626.2 103.7L625.6 104.2L625.0 104.6L624.4 105.0L623.8 105.4L623.1 105.8L622.5 106.2L621.9 106.6L621.3 106.9L620.7 107.2L620.1 107.5L619.5 107.8L618.9 108.0L618.3 108.3L617.8 108.5L617.3 108.8L616.7 109.0L616.2 109.3L615.7 109.5L615.2 109.8L614.7 110.0L614.2 110.3L613.6 110.5L613.1 110.8L612.6 111.1L612.0 111.3L611.4 111.6L610.9 111.8L610.3 112.1L609.7 112.3L609.1 112.5L608.5 112.8L607.9 113.0L607.2 113.1L606.6 113.3L606.0 113.5L605.4 113.6L604.8 113.7L604.3 113.8L603.7 113.9L603.2 113.9L602.6 114.0L602.1 114.1L600.5 114.3L598.9 114.6L597.3 114.9L595.8 115.2L594.3 115.5L592.8 115.9L591.3 116.2L589.8 116.5L588.4 116.7L586.9 116.8L585.4 116.9L583.8 116.9L582.3 116.9L580.8 116.9L579.2 116.9L577.7 117.0L576.2 117.1L574.6 117.3L573.1 117.5L571.6 117.7L570.1 117.9L568.6 118.0L567.0 118.2L565.5 118.3L564.0 118.4L562.4 118.6L560.9 118.8L559.4 119.0L557.9 119.3L556.4 119.6L554.9 119.8L553.4 120.1L551.9 120.2L550.4 120.3L548.9 120.3L547.3 120.2L545.8 120.2L544.3 120.1L542.7 120.1L541.2 120.1L539.7 120.2L538.2 120.3L536.7 120.5L535.2 120.7L533.7 120.8L532.2 121.0L530.7 121.1L529.1 121.1L527.6 121.2L526.1 121.3L524.6 121.3L523.1 121.4L521.6 121.5L520.1 121.7L518.6 121.8L517.1 121.8L515.6 121.8L514.1 121.7L512.6 121.6L511.1 121.4L509.6 121.1L508.1 120.9L506.6 120.7L505.1 120.7L503.6 120.7L502.1 120.8L500.6 121.0L499.1 121.2L497.6 121.4L496.1 121.6L494.6 121.7L493.1 121.8L491.6 121.8L490.1 121.8L488.6 121.8L487.1 121.9L485.6 122.0L484.1 122.1L482.6 122.2L481.1 122.3L479.6 122.3L478.1 122.3L476.6 122.2L475.1 122.0L473.6 121.9L472.1 121.7L470.6 121.7L469.1 121.8L467.6 121.9L466.1 122.2L464.7 122.5L463.2 122.9L461.7 123.2L460.2 123.4L458.7 123.5L457.2 123.6L455.7 123.5L454.2 123.4L452.7 123.3L451.2 123.2L449.7 123.2L448.2 123.1L446.7 123.1L445.2 123.1L443.7 123.0L442.2 122.9L440.7 122.8L439.2 122.6L437.7 122.5L436.2 122.3L434.7 122.3L433.1 122.3L431.6 122.4L430.1 122.7L428.6 122.9L427.2 123.2L425.7 123.5L424.2 123.7L422.7 123.8L421.2 123.8L419.7 123.7L418.1 123.5L416.6 123.4L415.1 123.2L413.6 123.2L412.1 123.2L410.6 123.2L409.1 123.3L407.6 123.4L406.1 123.4L404.6 123.5L403.1 123.5L401.6 123.4L400.0 123.4L398.5 123.5L397.0 123.6L395.5 123.8L394.0 124.1L392.5 124.4L391.0 124.7L389.5 125.0L388.0 125.2L386.5 125.2L385.0 125.2L383.5 125.0L382.0 124.7L380.5 124.5L379.0 124.2L377.5 124.0L376.0 123.9L374.5 123.9L373.0 123.9L371.4 123.9L369.9 124.0L368.4 124.0L366.9 123.9L365.4 123.8L363.9 123.7L362.4 123.6L360.9 123.6L359.4 123.6L357.9 123.7L356.4 123.8L354.9 123.9L353.4 124.0L351.9 124.0L350.4 123.9L348.8 123.7L347.3 123.4L345.8 123.0L344.3 122.6L342.8 122.3L341.3 122.0L339.8 121.9L338.3 121.8L336.7 121.8L335.2 121.9L333.6 121.9L332.0 121.9L330.3 121.7L328.7 121.5L327.1 121.2L325.6 120.9L324.0 120.6L322.5 120.2L321.0 119.9L319.4 119.7L317.9 119.4L316.5 119.1L314.9 118.8L313.4 118.3L311.9 117.8L310.4 117.2L308.9 116.6L307.5 116.0L306.0 115.4L304.5 114.9L303.0 114.4L301.6 114.0L300.0 113.7L298.5 113.4L297.0 113.2L295.5 112.9L294.0 112.6L292.5 112.2L291.0 111.7L289.5 111.2L288.0 110.7L286.5 110.2L285.0 109.7Z" fill="url(#g1)"/>
<defs><path id="mt1" d="M115.2 86.0h4.7M117.6 83.7v4.7M163.1 87.6h4.7M165.5 85.3v4.7M191.9 89.2h4.7M194.3 86.9v4.7M212.6 90.9h4.7M215.0 88.5v4.7M228.7 93.7h4.7M231.0 91.3v4.7M241.8 96.7h4.7M244.1 94.3v4.7M252.9 99.3h4.7M255.2 96.9v4.7M262.7 101.5h4.7M265.1 99.1v4.7M271.5 103.2h4.7M273.8 100.9v4.7M279.1 106.0h4.7M281.5 103.6v4.7M285.9 108.9h4.7M288.3 106.6v4.7M292.4 110.5h4.7M294.7 108.2v4.7M298.3 111.8h4.7M300.6 109.5v4.7M303.7 113.4h4.7M306.0 111.0v4.7M308.6 115.4h4.7M311.0 113.0v4.7M313.3 117.1h4.7M315.7 114.7v4.7M317.8 117.9h4.7M320.2 115.6v4.7M322.3 118.0h4.7M324.6 115.6v4.7M326.2 119.2h4.7M328.6 116.9v4.7M330.1 120.1h4.7M332.5 117.8v4.7M333.9 119.5h4.7M336.2 117.2v4.7M337.3 119.9h4.7M339.7 117.5v4.7M340.6 120.0h4.7M343.0 117.7v4.7M343.8 120.7h4.7M346.1 118.4v4.7M346.8 121.8h4.7M349.1 119.5v4.7M349.7 122.0h4.7M352.0 119.6v4.7M352.5 121.7h4.7M354.8 119.3v4.7M355.2 121.7h4.7M357.5 119.3v4.7M357.8 121.1h4.7M360.1 118.8v4.7M360.3 121.3h4.7M362.6 118.9v4.7M362.7 121.7h4.7M365.0 119.4v4.7M365.0 121.7h4.7M367.4 119.3v4.7M367.3 121.5h4.7M369.7 119.2v4.7M369.5 121.8h4.7M371.9 119.4v4.7M371.7 121.7h4.7M374.0 119.3v4.7M373.8 121.9h4.7M376.1 119.5v4.7M375.8 122.0h4.7M378.1 119.7v4.7M377.8 122.1h4.7M380.1 119.8v4.7M379.7 122.4h4.7M382.0 120.1v4.7M381.6 122.8h4.7M383.9 120.4v4.7M383.4 122.9h4.7M385.7 120.6v4.7M385.2 123.2h4.7M387.5 120.9v4.7M386.9 123.1h4.7M389.3 120.7v4.7M388.6 122.7h4.7M391.0 120.4v4.7M390.3 122.2h4.7M392.6 119.9v4.7M391.9 121.8h4.7M394.2 119.4v4.7M393.5 121.7h4.7M395.8 119.3v4.7M395.0 121.2h4.7M397.4 118.9v4.7M396.6 121.3h4.7M398.9 118.9v4.7M398.1 120.8h4.7M400.4 118.5v4.7M399.5 121.1h4.7M401.9 118.7v4.7M401.0 121.5h4.7M403.3 119.2v4.7M402.4 120.9h4.7M404.7 118.6v4.7M403.7 120.8h4.7M406.1 118.5v4.7M405.1 121.1h4.7M407.5 118.7v4.7M406.5 121.4h4.7M408.8 119.1v4.7M407.8 121.3h4.7M410.1 118.9v4.7M409.0 120.8h4.7M411.4 118.5v4.7M410.3 120.8h4.7M412.7 118.4v4.7M411.6 120.9h4.7M413.9 118.5v4.7M412.8 120.7h4.7M415.1 118.4v4.7M414.0 121.1h4.7M416.3 118.7v4.7M415.2 121.1h4.7M417.5 118.8v4.7M416.3 120.9h4.7M418.7 118.6v4.7M417.5 121.3h4.7M419.9 118.9v4.7M418.6 121.4h4.7M421.0 119.1v4.7M419.7 121.3h4.7M422.1 118.9v4.7M420.8 121.2h4.7M423.2 118.8v4.7M421.9 121.7h4.7M424.3 119.3v4.7M423.0 121.8h4.7M425.4 119.5v4.7M424.0 121.0h4.7M426.4 118.7v4.7M425.1 120.8h4.7M427.4 118.4v4.7M426.1 120.8h4.7M428.4 118.5v4.7M427.1 120.4h4.7M429.4 118.1v4.7M428.1 120.1h4.7M430.4 117.7v4.7M429.1 120.6h4.7M431.4 118.2v4.7M430.0 119.7h4.7M432.3 117.4v4.7M431.0 119.8h4.7M433.3 117.4v4.7M431.9 119.8h4.7M434.3 117.4v4.7M432.8 119.7h4.7M435.2 117.4v4.7M433.8 120.0h4.7M436.1 117.6v4.7M434.7 120.3h4.7M437.0 118.0v4.7M435.6 120.7h4.7M438.0 118.3v4.7M436.5 120.5h4.7M438.8 118.2v4.7M437.4 120.4h4.7M439.7 118.1v4.7M438.2 120.1h4.7M440.6 117.7v4.7M439.1 120.5h4.7M441.4 118.2v4.7M439.9 120.3h4.7M442.3 117.9v4.7M440.8 120.6h4.7M443.1 118.3v4.7M441.6 121.0h4.7M444.0 118.7v4.7M442.4 120.7h4.7M444.8 118.4v4.7M443.2 120.6h4.7M445.6 118.2v4.7M444.0 120.4h4.7M446.4 118.0v4.7M444.8 120.6h4.7M447.2 118.3v4.7M445.6 120.6h4.7M448.0 118.3v4.7M446.4 120.3h4.7M448.7 117.9v4.7M447.1 120.4h4.7M449.5 118.1v4.7M447.9 120.9h4.7M450.3 118.6v4.7M448.6 120.0h4.7M451.0 117.6v4.7M449.4 120.5h4.7M451.8 118.1v4.7M450.1 120.2h4.7M452.5 117.9v4.7M450.9 121.3h4.7M453.2 118.9v4.7M451.6 121.0h4.7M454.0 118.6v4.7M452.3 121.0h4.7M454.7 118.6v4.7M453.0 120.9h4.7M455.4 118.6v4.7M453.7 120.9h4.7M456.1 118.6v4.7M455.1 120.9h4.7M457.5 118.6v4.7M456.4 120.1h4.7M458.8 117.7v4.7M457.8 120.7h4.7M460.1 118.3v4.7M459.1 120.6h4.7M461.4 118.2v4.7M460.3 119.5h4.7M462.7 117.1v4.7M461.6 120.1h4.7M464.0 117.7v4.7M462.8 119.7h4.7M465.2 117.4v4.7M464.0 118.6h4.7M466.4 116.2v4.7M465.2 118.8h4.7M467.6 116.4v4.7M466.4 118.7h4.7M468.8 116.3v4.7M467.6 118.5h4.7M469.9 116.2v4.7M468.7 118.9h4.7M471.1 116.5v4.7M469.9 118.2h4.7M472.2 115.9v4.7M471.0 118.8h4.7M473.3 116.4v4.7M472.1 119.0h4.7M474.4 116.7v4.7M473.2 119.4h4.7M475.5 117.0v4.7M474.2 119.2h4.7M476.6 116.8v4.7M475.3 119.1h4.7M477.6 116.8v4.7M476.3 119.6h4.7M478.7 117.2v4.7M477.3 118.4h4.7M479.7 116.1v4.7M478.4 119.7h4.7M480.7 117.3v4.7M479.3 119.1h4.7M481.7 116.7v4.7M480.3 118.6h4.7M482.7 116.2v4.7M481.3 118.8h4.7M483.6 116.5v4.7M482.2 118.1h4.7M484.6 115.8v4.7M483.2 118.0h4.7M485.5 115.6v4.7M484.1 118.6h4.7M486.5 116.3v4.7M485.0 118.4h4.7M487.4 116.0v4.7M485.9 119.0h4.7M488.3 116.7v4.7M486.8 118.3h4.7M489.2 115.9v4.7M487.7 118.1h4.7M490.1 115.7v4.7M488.6 118.2h4.7M490.9 115.9v4.7M489.5 119.4h4.7M491.8 117.0v4.7M490.3 118.6h4.7M492.7 116.3v4.7M491.2 118.3h4.7M493.5 116.0v4.7M492.0 118.1h4.7M494.3 115.8v4.7M492.8 118.0h4.7M495.2 115.6v4.7M493.6 118.3h4.7M496.0 116.0v4.7M494.5 118.5h4.7M496.8 116.2v4.7M495.3 118.7h4.7M497.6 116.4v4.7M496.0 118.6h4.7M498.4 116.3v4.7M496.8 118.1h4.7M499.2 115.7v4.7M497.6 117.6h4.7M499.9 115.2v4.7M498.3 117.3h4.7M500.7 115.0v4.7M499.1 116.6h4.7M501.4 114.2v4.7M499.8 117.1h4.7M502.2 114.7v4.7M500.6 117.7h4.7M503.0 115.3v4.7M501.3 117.3h4.7M503.7 114.9v4.7M502.1 117.6h4.7M504.4 115.2v4.7M502.8 116.8h4.7M505.1 114.4v4.7M503.5 117.8h4.7M505.9 115.5v4.7M504.2 117.6h4.7M506.6 115.2v4.7M504.9 117.5h4.7M507.3 115.2v4.7M506.0 117.8h4.7M508.3 115.5v4.7M507.0 116.7h4.7M509.3 114.4v4.7M508.0 117.7h4.7M510.3 115.3v4.7M509.0 117.7h4.7M511.3 115.3v4.7M510.0 119.1h4.7M512.4 116.7v4.7M511.0 118.2h4.7M513.3 115.9v4.7M511.9 118.2h4.7M514.3 115.8v4.7M512.9 118.8h4.7M515.2 116.5v4.7M513.8 118.0h4.7M516.1 115.6v4.7M514.7 119.1h4.7M517.1 116.8v4.7M515.6 118.1h4.7M518.0 115.7v4.7M516.5 118.3h4.7M518.9 116.0v4.7M517.4 117.8h4.7M519.8 115.5v4.7M518.3 118.6h4.7M520.7 116.2v4.7M519.2 117.1h4.7M521.5 114.7v4.7M520.0 118.4h4.7M522.4 116.0v4.7M520.9 117.6h4.7M523.2 115.2v4.7M521.7 117.9h4.7M524.1 115.6v4.7M522.5 117.3h4.7M524.9 114.9v4.7M523.4 117.9h4.7M525.7 115.6v4.7M524.2 117.9h4.7M526.5 115.5v4.7M525.0 118.0h4.7M527.4 115.7v4.7M525.8 117.8h4.7M528.1 115.5v4.7M526.6 118.0h4.7M528.9 115.6v4.7M527.4 118.1h4.7M529.7 115.7v4.7M528.1 117.4h4.7M530.5 115.0v4.7M528.9 116.9h4.7M531.2 114.6v4.7M529.6 116.8h4.7M532.0 114.5v4.7M530.4 117.7h4.7M532.8 115.4v4.7M531.1 117.1h4.7M533.5 114.8v4.7M531.9 117.7h4.7M534.2 115.4v4.7M532.6 117.1h4.7M534.9 114.8v4.7M533.3 116.5h4.7M535.6 114.2v4.7M534.0 117.4h4.7M536.4 115.0v4.7M534.7 117.8h4.7M537.1 115.4v4.7M535.6 116.6h4.7M538.0 114.3v4.7M536.5 116.2h4.7M538.9 113.8v4.7M537.4 116.1h4.7M539.8 113.8v4.7M538.4 116.9h4.7M540.7 114.6v4.7M539.2 116.2h4.7M541.6 113.8v4.7M540.1 116.2h4.7M542.5 113.9v4.7M541.0 116.8h4.7M543.4 114.5v4.7M541.9 116.5h4.7M544.2 114.1v4.7M542.7 116.6h4.7M545.1 114.2v4.7M543.5 116.3h4.7M545.9 113.9v4.7M544.4 116.3h4.7M546.7 113.9v4.7M545.2 116.7h4.7M547.6 114.4v4.7M546.0 116.7h4.7M548.4 114.4v4.7M546.9 117.0h4.7M549.2 114.6v4.7M547.6 116.4h4.7M550.0 114.0v4.7M548.4 116.8h4.7M550.8 114.4v4.7M549.2 116.8h4.7M551.6 114.5v4.7M550.0 116.5h4.7M552.3 114.2v4.7M550.7 116.7h4.7M553.1 114.4v4.7M551.5 116.8h4.7M553.9 114.5v4.7M552.2 116.3h4.7M554.6 113.9v4.7M552.9 116.1h4.7M555.3 113.8v4.7M553.6 115.4h4.7M556.0 113.1v4.7M554.4 116.0h4.7M556.7 113.6v4.7M555.1 115.6h4.7M557.4 113.3v4.7M555.8 115.4h4.7M558.1 113.0v4.7M556.5 115.0h4.7M558.8 112.6v4.7M557.4 115.5h4.7M559.7 113.2v4.7M558.3 116.4h4.7M560.7 114.1v4.7M559.1 115.2h4.7M561.4 112.9v4.7M559.9 114.9h4.7M562.2 112.6v4.7M560.7 115.0h4.7M563.1 112.7v4.7M561.5 114.4h4.7M563.8 112.1v4.7M562.3 114.7h4.7M564.7 112.3v4.7M563.1 114.2h4.7M565.5 111.9v4.7M563.9 114.2h4.7M566.3 111.8v4.7M564.7 114.6h4.7M567.1 112.2v4.7M565.5 114.5h4.7M567.9 112.1v4.7M566.3 114.2h4.7M568.6 111.9v4.7M567.0 113.8h4.7M569.3 111.4v4.7M567.8 114.2h4.7M570.2 111.9v4.7M568.5 113.4h4.7M570.8 111.1v4.7M569.3 114.3h4.7M571.7 111.9v4.7M570.0 113.6h4.7M572.3 111.3v4.7M570.7 113.7h4.7M573.1 111.3v4.7M571.5 114.0h4.7M573.9 111.6v4.7M572.2 113.8h4.7M574.6 111.4v4.7M572.8 112.7h4.7M575.1 110.4v4.7M573.5 113.2h4.7M575.9 110.8v4.7M574.4 113.4h4.7M576.8 111.1v4.7M575.1 112.6h4.7M577.5 110.2v4.7M575.9 111.8h4.7M578.2 109.5v4.7M576.8 113.1h4.7M579.2 110.7v4.7M577.7 113.1h4.7M580.0 110.7v4.7M578.5 113.3h4.7M580.8 111.0v4.7M579.3 113.1h4.7M581.6 110.8v4.7M580.0 113.2h4.7M582.4 110.8v4.7M580.8 113.2h4.7M583.2 110.9v4.7M581.7 113.9h4.7M584.0 111.5v4.7M582.4 113.4h4.7M584.7 111.0v4.7M583.1 113.4h4.7M585.5 111.0v4.7M583.8 112.8h4.7M586.1 110.5v4.7M584.6 113.6h4.7M587.0 111.3v4.7M585.2 112.8h4.7M587.6 110.5v4.7M586.0 113.2h4.7M588.4 110.9v4.7M586.5 111.6h4.7M588.8 109.2v4.7M587.4 112.8h4.7M589.7 110.4v4.7M588.1 112.4h4.7M590.5 110.1v4.7M588.9 112.1h4.7M591.2 109.7v4.7M589.8 112.8h4.7M592.1 110.5v4.7M590.5 112.2h4.7M592.8 109.8v4.7M591.2 111.7h4.7M593.6 109.3v4.7M591.9 111.3h4.7M594.3 108.9v4.7M592.9 112.4h4.7M595.2 110.1v4.7M593.5 111.6h4.7M595.9 109.3v4.7M594.3 111.4h4.7M596.6 109.1v4.7M594.9 110.5h4.7M597.2 108.1v4.7M595.8 111.5h4.7M598.1 109.2v4.7M596.4 111.0h4.7M598.8 108.6v4.7M597.1 110.4h4.7M599.4 108.0v4.7M597.8 110.4h4.7M600.2 108.0v4.7M598.4 109.4h4.7M600.7 107.1v4.7M599.3 110.6h4.7M601.7 108.2v4.7M599.9 109.5h4.7M602.3 107.1v4.7M601.0 110.4h4.7M603.3 108.1v4.7M601.6 109.6h4.7M604.0 107.2v4.7M602.4 109.3h4.7M604.7 107.0v4.7M603.3 109.7h4.7M605.7 107.3v4.7M604.1 109.4h4.7M606.5 107.0v4.7M604.7 108.4h4.7M607.0 106.1v4.7M605.7 108.7h4.7M608.0 106.3v4.7M606.6 108.7h4.7M608.9 106.4v4.7M607.1 108.0h4.7M609.5 105.6v4.7M607.6 107.1h4.7M609.9 104.7v4.7M608.6 107.3h4.7M610.9 104.9v4.7M609.1 106.6h4.7M611.4 104.2v4.7M609.9 106.4h4.7M612.2 104.1v4.7M610.7 106.4h4.7M613.1 104.0v4.7M611.4 106.0h4.7M613.7 103.6v4.7M612.0 105.6h4.7M614.4 103.2v4.7M612.3 104.5h4.7M614.7 102.2v4.7M613.5 105.2h4.7M615.9 102.9v4.7M614.1 104.6h4.7M616.4 102.3v4.7M614.7 104.2h4.7M617.0 101.9v4.7M615.5 104.2h4.7M617.9 101.8v4.7M616.7 104.7h4.7M619.1 102.4v4.7M616.5 102.8h4.7M618.8 100.4v4.7M617.1 102.2h4.7M619.4 99.9v4.7M618.5 103.0h4.7M620.8 100.7v4.7M618.7 101.8h4.7M621.0 99.5v4.7M620.1 102.4h4.7M622.4 100.0v4.7M619.9 100.9h4.7M622.3 98.5v4.7M620.7 100.6h4.7M623.1 98.2v4.7M621.9 100.6h4.7M624.2 98.3v4.7M622.6 100.1h4.7M624.9 97.7v4.7M622.9 99.3h4.7M625.3 97.0v4.7M623.5 98.7h4.7M625.8 96.4v4.7M623.8 97.9h4.7M626.1 95.5v4.7M624.1 97.1h4.7M626.5 94.7v4.7M624.7 96.4h4.7M627.1 94.1v4.7M625.9 96.3h4.7M628.2 93.9v4.7M626.1 95.3h4.7M628.4 93.0v4.7M626.1 94.3h4.7M628.5 92.0v4.7M626.7 93.6h4.7M629.0 91.2v4.7M627.2 93.0h4.7M629.6 90.7v4.7M627.7 92.4h4.7M630.1 90.0v4.7M627.3 91.2h4.7M629.7 88.9v4.7M627.6 90.4h4.7M629.9 88.1v4.7M628.0 89.7h4.7M630.4 87.4v4.7M629.5 89.4h4.7M631.9 87.1v4.7M628.5 88.0h4.7M630.8 85.6v4.7M629.2 87.5h4.7M631.6 85.2v4.7M627.9 86.2h4.7M630.2 83.9v4.7M629.4 86.0h4.7M631.7 83.7v4.7M628.4 84.8h4.7M630.7 82.5v4.7M628.7 84.1h4.7M631.1 81.8v4.7M629.2 83.4h4.7M631.5 81.1v4.7M629.7 82.7h4.7M632.0 80.3v4.7M630.1 81.9h4.7M632.4 79.5v4.7M630.3 81.2h4.7M632.7 78.8v4.7M630.4 80.4h4.7M632.8 78.1v4.7M630.2 79.6h4.7M632.5 77.2v4.7M632.1 79.2h4.7M634.5 76.8v4.7M631.0 78.0h4.7M633.4 75.7v4.7M631.3 77.0h4.7M633.7 74.7v4.7M632.2 76.4h4.7M634.6 74.1v4.7M631.7 75.6h4.7M634.1 73.2v4.7M631.6 74.8h4.7M634.0 72.4v4.7M631.6 74.0h4.7M633.9 71.6v4.7M632.6 73.4h4.7M634.9 71.1v4.7M631.0 72.4h4.7M633.3 70.0v4.7M631.1 71.7h4.7M633.5 69.3v4.7M631.9 71.0h4.7M634.3 68.7v4.7M630.7 70.1h4.7M633.1 67.7v4.7"/></defs>
<use href="#mt1" stroke="#ee9a20" stroke-width="4.2" fill="none" opacity="0.3"/>
<use href="#mt1" stroke="#ee9a20" stroke-width="1.7" fill="none" opacity="0.62"/>
<path d="M632.2 50.4L637.8 50.4L637.8 72L628 72L629 66L631 60Z" fill="#d63a2c"/>
<path d="M286.2 105.4L287.7 105.9L289.2 106.4L290.6 106.9L292.1 107.5L293.6 108.0L295.0 108.5L296.5 109.0L298.0 109.3L299.5 109.7L301.1 110.0L302.6 110.2L304.1 110.5L305.7 110.9L307.2 111.2L308.7 111.6L310.2 111.9L311.7 112.3L313.2 112.7L314.7 113.0L316.2 113.3L317.7 113.6L319.3 113.9L320.8 114.2L322.3 114.5L323.8 114.9L325.2 115.4L326.7 115.9L328.1 116.4L329.6 116.8L331.1 117.2L332.6 117.5L334.0 117.6L335.5 117.7L337.0 117.6L338.6 117.6L340.1 117.5L341.6 117.5L343.1 117.5L344.6 117.6L346.0 117.7L347.5 117.9L349.0 118.0L350.5 118.2L352.0 118.3L353.5 118.3L355.0 118.4L356.5 118.4L358.0 118.5L359.5 118.6L361.0 118.8L362.5 119.0L364.0 119.2L365.5 119.3L367.0 119.4L368.5 119.5L370.0 119.4L371.5 119.3L373.0 119.1L374.5 118.9L376.0 118.7L377.5 118.6L379.0 118.5L380.5 118.4L382.0 118.5L383.5 118.5L385.0 118.6L386.5 118.7L388.0 118.7L389.5 118.7L391.0 118.7L392.5 118.6L394.0 118.6L395.5 118.5L397.0 118.5L398.5 118.6L400.0 118.6L401.5 118.7L403.0 118.7L404.5 118.6L406.0 118.5L407.5 118.4L409.0 118.2L410.5 118.0L412.0 117.8L413.5 117.6L415.0 117.6L416.5 117.6L418.0 117.7L419.5 117.8L421.0 118.0L422.5 118.1L424.0 118.2L425.5 118.2L427.0 118.2L428.5 118.2L430.0 118.2L431.5 118.1L433.0 118.1L434.5 118.0L436.0 118.0L437.5 118.0L439.0 118.0L440.5 117.9L442.0 117.7L443.5 117.5L445.0 117.2L446.5 116.9L448.0 116.7L449.4 116.5L450.9 116.3L452.4 116.3L454.0 116.3L455.5 116.3L457.0 116.4L458.5 116.4L460.0 116.4L461.5 116.4L463.0 116.3L464.5 116.1L466.0 115.9L467.5 115.8L469.0 115.6L470.5 115.5L472.0 115.4L473.5 115.3L475.0 115.2L476.5 115.1L478.0 115.0L479.5 114.9L481.0 114.8L482.5 114.6L483.9 114.5L485.4 114.4L486.9 114.4L488.5 114.4L490.0 114.6L491.5 114.7L493.0 114.8L494.5 115.0L496.0 115.0L497.5 115.0L499.0 115.0L500.5 114.8L502.0 114.7L503.5 114.5L505.0 114.4L506.5 114.3L508.0 114.2L509.5 114.1L511.0 114.1L512.5 114.0L514.0 114.0L515.5 113.9L517.0 113.8L518.5 113.7L520.0 113.6L521.4 113.6L522.9 113.5L524.4 113.5L525.9 113.5L527.4 113.5L528.9 113.6L530.4 113.6L531.9 113.5L533.4 113.4L534.9 113.3L536.4 113.1L537.9 112.9L539.4 112.6L540.9 112.4L542.4 112.3L543.8 112.1L545.3 112.0L546.8 111.9L548.3 111.8L549.8 111.7L551.3 111.6L552.8 111.5L554.3 111.4L555.7 111.2L557.2 111.1L558.7 111.0L560.2 110.9L561.7 110.8L563.2 110.7L564.7 110.6L566.2 110.5L567.7 110.3L569.2 110.1L570.6 109.9L572.1 109.6L573.6 109.3L575.1 109.0L576.6 108.8L578.0 108.5L579.5 108.3L581.0 108.1L582.5 107.9L584.0 107.7L585.5 107.5L587.1 107.3L588.6 107.1L590.1 106.8L591.6 106.6L593.1 106.4L594.5 106.2L596.0 105.9L597.5 105.7L598.9 105.4L600.3 105.1L600.8 105.0L601.3 104.9L601.8 104.8L602.2 104.7L602.7 104.6L603.2 104.5L603.6 104.3L604.0 104.2L604.5 104.1L604.9 103.9L605.3 103.8L605.7 103.6L606.2 103.4L606.6 103.2L607.0 103.0L607.5 102.7L607.9 102.5L608.4 102.3L608.9 102.0L609.3 101.8L609.8 101.5L610.3 101.3L610.8 101.0L611.2 100.7L611.7 100.5L612.2 100.2L612.7 99.9L613.2 99.7L613.7 99.4L614.1 99.2L614.6 98.9L615.1 98.7L615.5 98.4L616.0 98.1L616.4 97.8L616.8 97.6L617.3 97.3L617.7 97.0L618.2 96.6L618.6 96.3L619.0 95.9L619.5 95.6L619.9 95.2L620.3 94.8L620.7 94.4L621.1 94.0L621.5 93.6L621.9 93.1L622.3 92.6L622.7 92.0L623.0 91.4L623.5 90.7L623.9 89.9L624.3 88.9L624.8 87.9L625.2 86.9L625.7 85.7L626.1 84.6L626.6 83.4L627.0 82.1L627.4 80.6L627.9 79.0L628.3 77.2L628.8 74.6L629.3 71.7L629.7 68.8L637.3 70.2L637.3 73.2L637.3 76.1L636.7 79.0L636.2 81.2L635.6 83.1L635.1 84.8L634.5 86.3L634.0 87.7L633.5 89.0L632.9 90.2L632.4 91.4L631.8 92.6L631.3 93.7L630.7 94.7L630.1 95.7L629.5 96.7L628.9 97.5L628.2 98.3L627.7 99.0L627.1 99.7L626.5 100.3L625.9 100.8L625.3 101.4L624.7 101.9L624.1 102.3L623.5 102.7L623.0 103.2L622.4 103.6L621.9 104.0L621.3 104.3L620.7 104.7L620.2 105.0L619.6 105.4L619.0 105.7L618.5 106.0L618.0 106.3L617.4 106.5L616.9 106.8L616.4 107.1L615.9 107.3L615.4 107.6L614.9 107.9L614.4 108.1L613.9 108.4L613.4 108.7L612.9 108.9L612.3 109.2L611.8 109.5L611.3 109.7L610.7 110.0L610.2 110.3L609.6 110.5L609.1 110.7L608.5 111.0L607.9 111.2L607.4 111.4L606.8 111.6L606.2 111.8L605.6 112.0L605.0 112.1L604.5 112.2L603.9 112.4L603.4 112.5L602.9 112.6L602.4 112.7L601.8 112.8L600.3 113.1L598.7 113.4L597.1 113.6L595.6 113.8L594.1 114.1L592.6 114.3L591.1 114.5L589.6 114.7L588.1 114.9L586.6 115.1L585.1 115.2L583.6 115.4L582.1 115.6L580.6 115.8L579.1 116.0L577.6 116.3L576.1 116.5L574.6 116.8L573.1 117.1L571.6 117.3L570.0 117.5L568.5 117.7L567.0 117.9L565.5 118.0L563.9 118.1L562.4 118.1L560.9 118.2L559.4 118.3L557.9 118.4L556.4 118.6L554.9 118.7L553.3 118.8L551.8 118.9L550.3 119.0L548.8 119.1L547.3 119.2L545.7 119.2L544.2 119.3L542.7 119.5L541.2 119.6L539.7 119.8L538.2 120.0L536.7 120.2L535.2 120.4L533.7 120.5L532.1 120.6L530.6 120.6L529.1 120.6L527.6 120.5L526.1 120.5L524.6 120.4L523.1 120.4L521.6 120.4L520.1 120.5L518.6 120.5L517.1 120.6L515.6 120.7L514.1 120.7L512.6 120.8L511.1 120.8L509.6 120.8L508.1 120.8L506.6 120.9L505.1 120.9L503.6 121.1L502.1 121.2L500.6 121.3L499.1 121.4L497.6 121.5L496.1 121.4L494.6 121.3L493.1 121.2L491.6 121.0L490.1 120.9L488.6 120.7L487.1 120.6L485.6 120.6L484.1 120.7L482.6 120.8L481.1 120.9L479.6 121.0L478.1 121.1L476.6 121.2L475.1 121.3L473.6 121.3L472.1 121.3L470.6 121.4L469.1 121.5L467.6 121.6L466.1 121.8L464.6 121.9L463.1 122.1L461.6 122.1L460.1 122.1L458.7 122.0L457.2 121.9L455.7 121.8L454.2 121.6L452.7 121.5L451.2 121.5L449.7 121.6L448.2 121.7L446.7 121.9L445.2 122.1L443.7 122.2L442.2 122.4L440.7 122.5L439.2 122.6L437.7 122.6L436.2 122.6L434.7 122.6L433.2 122.6L431.6 122.7L430.1 122.7L428.6 122.8L427.1 122.8L425.6 122.8L424.1 122.8L422.6 122.7L421.1 122.5L419.6 122.4L418.1 122.2L416.6 122.2L415.1 122.1L413.6 122.2L412.1 122.3L410.6 122.5L409.1 122.7L407.6 122.9L406.1 123.1L404.5 123.2L403.0 123.2L401.5 123.2L400.0 123.2L398.5 123.1L397.0 123.1L395.5 123.1L394.0 123.1L392.5 123.1L391.0 123.2L389.5 123.2L388.0 123.2L386.5 123.2L385.0 123.1L383.5 123.0L382.0 123.0L380.5 122.9L379.0 123.0L377.5 123.1L376.0 123.2L374.5 123.4L373.0 123.6L371.4 123.8L369.9 123.9L368.4 123.9L366.9 123.9L365.4 123.8L363.9 123.6L362.4 123.4L360.9 123.3L359.4 123.1L357.9 123.0L356.4 122.9L354.9 122.8L353.4 122.8L351.9 122.7L350.4 122.6L348.9 122.5L347.4 122.3L345.9 122.2L344.3 122.1L342.8 122.0L341.3 121.9L339.8 122.0L338.3 122.0L336.7 122.1L335.2 122.1L333.6 122.0L332.0 121.8L330.4 121.5L328.8 121.1L327.3 120.7L325.7 120.2L324.2 119.7L322.7 119.2L321.2 118.8L319.7 118.5L318.2 118.1L316.7 117.9L315.2 117.6L313.6 117.2L312.1 116.9L310.6 116.5L309.1 116.0L307.6 115.6L306.0 115.2L304.5 114.9L303.0 114.5L301.5 114.2L300.0 113.9L298.5 113.6L297.0 113.2L295.5 112.8L294.0 112.4L292.6 111.8L291.1 111.3L289.7 110.7L288.2 110.1L286.7 109.6L285.2 109.0Z" fill="url(#g2)"/>
<defs><path id="mt2" d="M102.5 84.3h4.7M104.8 81.9v4.7M156.8 87.7h4.7M159.1 85.4v4.7M187.8 88.9h4.7M190.1 86.5v4.7M209.5 90.9h4.7M211.9 88.6v4.7M226.2 93.5h4.7M228.6 91.1v4.7M240.0 95.2h4.7M242.4 92.8v4.7M251.5 97.7h4.7M253.9 95.3v4.7M261.4 100.6h4.7M263.8 98.2v4.7M270.2 102.8h4.7M272.6 100.5v4.7M278.0 105.6h4.7M280.4 103.3v4.7M285.2 107.8h4.7M287.5 105.4v4.7M291.5 110.1h4.7M293.9 107.7v4.7M297.5 111.6h4.7M299.8 109.2v4.7M302.9 113.2h4.7M305.3 110.8v4.7M308.1 114.5h4.7M310.5 112.2v4.7M313.0 115.5h4.7M315.4 113.2v4.7M317.6 116.2h4.7M320.0 113.9v4.7M321.9 117.1h4.7M324.3 114.8v4.7M325.9 118.5h4.7M328.2 116.1v4.7M329.7 119.4h4.7M332.1 117.0v4.7M333.5 119.9h4.7M335.8 117.6v4.7M336.9 120.0h4.7M339.3 117.6v4.7M340.3 119.9h4.7M342.6 117.6v4.7M343.5 119.9h4.7M345.8 117.6v4.7M346.5 120.2h4.7M348.8 117.8v4.7M349.4 120.5h4.7M351.8 118.2v4.7M352.2 120.6h4.7M354.6 118.3v4.7M354.9 120.8h4.7M357.3 118.5v4.7M357.5 121.2h4.7M359.9 118.8v4.7M360.0 121.1h4.7M362.4 118.7v4.7M362.5 121.9h4.7M364.8 119.5v4.7M364.8 121.3h4.7M367.2 119.0v4.7M367.1 121.4h4.7M369.5 119.0v4.7M369.3 121.3h4.7M371.7 118.9v4.7M371.5 121.1h4.7M373.9 118.7v4.7M373.6 120.9h4.7M376.0 118.6v4.7M375.6 121.1h4.7M378.0 118.7v4.7M377.6 120.6h4.7M380.0 118.2v4.7M379.6 120.9h4.7M381.9 118.5v4.7M381.4 120.7h4.7M383.8 118.4v4.7M383.3 120.9h4.7M385.6 118.6v4.7M385.1 120.8h4.7M387.4 118.4v4.7M386.8 121.4h4.7M389.2 119.0v4.7M388.5 120.9h4.7M390.9 118.6v4.7M390.2 120.8h4.7M392.5 118.4v4.7M391.8 121.3h4.7M394.2 118.9v4.7M393.4 120.8h4.7M395.8 118.5v4.7M395.0 120.9h4.7M397.3 118.5v4.7M396.5 120.8h4.7M398.8 118.5v4.7M398.0 120.7h4.7M400.3 118.4v4.7M399.5 120.6h4.7M401.8 118.3v4.7M400.9 120.9h4.7M403.3 118.5v4.7M402.3 121.3h4.7M404.7 118.9v4.7M403.7 120.9h4.7M406.1 118.5v4.7M405.1 120.6h4.7M407.4 118.3v4.7M406.4 120.7h4.7M408.8 118.4v4.7M407.7 120.1h4.7M410.1 117.7v4.7M409.0 120.5h4.7M411.4 118.1v4.7M410.3 120.0h4.7M412.6 117.6v4.7M411.5 119.7h4.7M413.9 117.3v4.7M412.8 120.0h4.7M415.1 117.7v4.7M414.0 120.0h4.7M416.3 117.6v4.7M415.1 119.8h4.7M417.5 117.5v4.7M416.3 120.1h4.7M418.7 117.7v4.7M417.5 120.4h4.7M419.8 118.0v4.7M418.6 120.6h4.7M421.0 118.3v4.7M419.7 120.1h4.7M422.1 117.8v4.7M420.8 119.7h4.7M423.2 117.3v4.7M421.9 121.1h4.7M424.3 118.7v4.7M423.0 120.4h4.7M425.3 118.1v4.7M424.0 120.4h4.7M426.4 118.1v4.7M425.1 120.7h4.7M427.4 118.3v4.7M426.1 120.4h4.7M428.4 118.0v4.7M427.1 120.8h4.7M429.5 118.4v4.7M428.1 120.1h4.7M430.4 117.7v4.7M429.1 120.3h4.7M431.4 118.0v4.7M430.0 120.0h4.7M432.4 117.6v4.7M431.0 120.8h4.7M433.4 118.5v4.7M432.0 120.3h4.7M434.3 117.9v4.7M432.9 120.7h4.7M435.3 118.3v4.7M433.8 120.8h4.7M436.2 118.4v4.7M434.7 119.9h4.7M437.1 117.6v4.7M435.6 120.2h4.7M438.0 117.9v4.7M436.5 120.5h4.7M438.9 118.2v4.7M437.4 120.2h4.7M439.8 117.9v4.7M438.3 120.1h4.7M440.6 117.8v4.7M439.1 120.4h4.7M441.5 118.0v4.7M440.0 120.3h4.7M442.3 118.0v4.7M440.8 119.7h4.7M443.2 117.3v4.7M441.6 119.7h4.7M444.0 117.4v4.7M442.5 119.9h4.7M444.8 117.5v4.7M443.3 119.6h4.7M445.6 117.3v4.7M444.1 119.5h4.7M446.4 117.1v4.7M444.8 118.9h4.7M447.2 116.5v4.7M445.7 119.8h4.7M448.0 117.5v4.7M446.4 119.0h4.7M448.7 116.7v4.7M447.2 119.1h4.7M449.5 116.8v4.7M447.9 118.9h4.7M450.3 116.6v4.7M448.7 118.9h4.7M451.0 116.6v4.7M449.4 119.0h4.7M451.8 116.6v4.7M450.1 118.6h4.7M452.5 116.2v4.7M450.9 119.1h4.7M453.2 116.7v4.7M451.6 119.4h4.7M454.0 117.0v4.7M452.3 119.1h4.7M454.7 116.8v4.7M453.0 119.3h4.7M455.4 116.9v4.7M453.7 119.3h4.7M456.1 116.9v4.7M455.1 119.2h4.7M457.5 116.8v4.7M456.5 119.9h4.7M458.9 117.6v4.7M457.8 119.0h4.7M460.2 116.6v4.7M459.1 119.4h4.7M461.5 117.0v4.7M460.4 119.6h4.7M462.8 117.2v4.7M461.7 119.2h4.7M464.0 116.8v4.7M462.9 118.5h4.7M465.3 116.2v4.7M464.1 118.4h4.7M466.5 116.0v4.7M465.4 119.3h4.7M467.7 117.0v4.7M466.5 118.2h4.7M468.9 115.8v4.7M467.7 118.5h4.7M470.0 116.1v4.7M468.8 118.6h4.7M471.2 116.3v4.7M470.0 118.4h4.7M472.3 116.0v4.7M471.1 117.6h4.7M473.4 115.2v4.7M472.2 117.5h4.7M474.5 115.1v4.7M473.3 118.2h4.7M475.6 115.8v4.7M474.3 117.8h4.7M476.7 115.5v4.7M475.4 118.0h4.7M477.7 115.7v4.7M476.4 118.1h4.7M478.8 115.7v4.7M477.4 118.0h4.7M479.8 115.7v4.7M478.4 117.3h4.7M480.8 114.9v4.7M479.4 117.1h4.7M481.8 114.7v4.7M480.4 118.1h4.7M482.8 115.7v4.7M481.4 117.3h4.7M483.7 115.0v4.7M482.3 117.0h4.7M484.7 114.7v4.7M483.3 116.7h4.7M485.6 114.3v4.7M484.2 117.7h4.7M486.6 115.4v4.7M485.1 117.0h4.7M487.5 114.6v4.7M486.0 117.1h4.7M488.4 114.8v4.7M486.9 117.9h4.7M489.3 115.6v4.7M487.8 117.9h4.7M490.2 115.5v4.7M488.7 118.1h4.7M491.1 115.7v4.7M489.6 117.4h4.7M491.9 115.0v4.7M490.4 116.7h4.7M492.8 114.4v4.7M491.3 117.6h4.7M493.6 115.3v4.7M492.1 118.0h4.7M494.5 115.7v4.7M492.9 117.9h4.7M495.3 115.6v4.7M493.8 118.6h4.7M496.1 116.3v4.7M494.6 118.4h4.7M496.9 116.1v4.7M495.4 117.8h4.7M497.7 115.4v4.7M496.2 118.5h4.7M498.5 116.1v4.7M497.0 118.1h4.7M499.3 115.8v4.7M497.7 117.9h4.7M500.1 115.6v4.7M498.5 118.6h4.7M500.9 116.2v4.7M499.2 117.2h4.7M501.6 114.9v4.7M500.0 118.4h4.7M502.4 116.0v4.7M500.8 118.3h4.7M503.1 116.0v4.7M501.5 116.8h4.7M503.8 114.5v4.7M502.2 117.6h4.7M504.6 115.3v4.7M502.9 117.6h4.7M505.3 115.2v4.7M503.6 117.1h4.7M506.0 114.7v4.7M504.4 117.3h4.7M506.7 114.9v4.7M505.1 117.1h4.7M507.4 114.8v4.7M506.1 117.5h4.7M508.5 115.2v4.7M507.1 117.2h4.7M509.5 114.8v4.7M508.1 116.4h4.7M510.5 114.1v4.7M509.2 118.0h4.7M511.5 115.6v4.7M510.1 117.8h4.7M512.5 115.5v4.7M511.1 117.0h4.7M513.4 114.6v4.7M512.1 117.8h4.7M514.4 115.4v4.7M513.0 118.3h4.7M515.4 115.9v4.7M513.9 116.5h4.7M516.3 114.2v4.7M514.9 117.0h4.7M517.2 114.7v4.7M515.8 116.9h4.7M518.1 114.6v4.7M516.7 117.4h4.7M519.0 115.0v4.7M517.6 116.9h4.7M519.9 114.6v4.7M518.4 116.4h4.7M520.8 114.0v4.7M519.3 117.6h4.7M521.7 115.2v4.7M520.2 116.8h4.7M522.5 114.5v4.7M521.0 117.3h4.7M523.4 114.9v4.7M521.9 118.0h4.7M524.2 115.7v4.7M522.7 116.6h4.7M525.0 114.3v4.7M523.5 116.8h4.7M525.9 114.4v4.7M524.3 117.4h4.7M526.7 115.1v4.7M525.1 117.0h4.7M527.5 114.6v4.7M525.9 117.3h4.7M528.3 115.0v4.7M526.7 117.1h4.7M529.1 114.7v4.7M527.5 118.4h4.7M529.9 116.1v4.7M528.3 117.4h4.7M530.6 115.0v4.7M529.0 117.2h4.7M531.4 114.9v4.7M529.8 117.1h4.7M532.2 114.8v4.7M530.6 117.2h4.7M532.9 114.8v4.7M531.3 116.2h4.7M533.6 113.8v4.7M532.0 116.8h4.7M534.4 114.4v4.7M532.8 117.2h4.7M535.1 114.8v4.7M533.4 116.1h4.7M535.8 113.8v4.7M534.2 116.7h4.7M536.5 114.3v4.7M534.9 116.5h4.7M537.2 114.1v4.7M535.8 116.2h4.7M538.1 113.8v4.7M536.8 117.5h4.7M539.1 115.2v4.7M537.6 116.5h4.7M540.0 114.2v4.7M538.5 116.2h4.7M540.9 113.9v4.7M539.4 115.6h4.7M541.7 113.2v4.7M540.3 115.9h4.7M542.6 113.6v4.7M541.1 115.6h4.7M543.5 113.3v4.7M542.0 115.7h4.7M544.3 113.3v4.7M542.8 115.8h4.7M545.2 113.4v4.7M543.7 116.9h4.7M546.1 114.5v4.7M544.5 116.2h4.7M546.9 113.9v4.7M545.4 116.4h4.7M547.7 114.0v4.7M546.2 116.2h4.7M548.5 113.8v4.7M547.0 116.9h4.7M549.4 114.5v4.7M547.7 115.0h4.7M550.0 112.7v4.7M548.5 114.7h4.7M550.8 112.3v4.7M549.3 115.4h4.7M551.6 113.0v4.7M550.1 115.3h4.7M552.4 113.0v4.7M550.8 115.2h4.7M553.2 112.8v4.7M551.5 114.8h4.7M553.9 112.4v4.7M552.3 115.4h4.7M554.7 113.0v4.7M553.1 115.8h4.7M555.5 113.5v4.7M553.8 115.0h4.7M556.1 112.7v4.7M554.5 114.7h4.7M556.8 112.4v4.7M555.2 115.4h4.7M557.6 113.0v4.7M555.9 114.5h4.7M558.2 112.2v4.7M556.6 114.5h4.7M558.9 112.1v4.7M557.5 114.8h4.7M559.8 112.4v4.7M558.2 113.3h4.7M560.6 111.0v4.7M559.3 115.5h4.7M561.6 113.1v4.7M560.0 114.4h4.7M562.4 112.0v4.7M560.9 114.7h4.7M563.2 112.3v4.7M561.7 114.5h4.7M564.0 112.2v4.7M562.5 114.5h4.7M564.9 112.2v4.7M563.2 113.5h4.7M565.6 111.2v4.7M564.2 115.1h4.7M566.5 112.8v4.7M564.9 114.4h4.7M567.3 112.1v4.7M565.7 114.2h4.7M568.0 111.8v4.7M566.6 115.6h4.7M569.0 113.2v4.7M567.1 113.2h4.7M569.5 110.8v4.7M568.0 114.1h4.7M570.3 111.8v4.7M568.7 113.6h4.7M571.0 111.2v4.7M569.3 112.7h4.7M571.7 110.3v4.7M570.3 114.4h4.7M572.6 112.0v4.7M570.8 112.4h4.7M573.1 110.1v4.7M571.6 113.2h4.7M573.9 110.8v4.7M572.3 112.9h4.7M574.6 110.6v4.7M573.0 112.9h4.7M575.3 110.6v4.7M573.6 112.2h4.7M576.0 109.9v4.7M574.6 113.3h4.7M576.9 110.9v4.7M575.3 112.6h4.7M577.7 110.2v4.7M576.0 111.6h4.7M578.4 109.3v4.7M576.8 111.5h4.7M579.2 109.2v4.7M577.7 112.2h4.7M580.1 109.8v4.7M578.4 111.3h4.7M580.7 109.0v4.7M579.3 112.1h4.7M581.6 109.7v4.7M580.1 111.9h4.7M582.4 109.6v4.7M580.7 111.3h4.7M583.1 109.0v4.7M581.4 110.5h4.7M583.7 108.1v4.7M582.2 110.7h4.7M584.5 108.4v4.7M583.1 111.6h4.7M585.4 109.2v4.7M583.7 111.0h4.7M586.1 108.6v4.7M584.6 112.2h4.7M587.0 109.8v4.7M585.2 110.8h4.7M587.5 108.5v4.7M585.9 111.2h4.7M588.3 108.8v4.7M586.6 111.3h4.7M589.0 108.9v4.7M587.3 110.9h4.7M589.6 108.5v4.7M588.1 110.9h4.7M590.5 108.5v4.7M589.0 111.1h4.7M591.3 108.8v4.7M589.7 110.4h4.7M592.0 108.0v4.7M590.5 110.5h4.7M592.8 108.2v4.7M591.2 110.0h4.7M593.5 107.7v4.7M592.1 111.2h4.7M594.5 108.9v4.7M592.7 110.1h4.7M595.1 107.8v4.7M593.5 110.4h4.7M595.9 108.0v4.7M594.0 108.1h4.7M596.3 105.8v4.7M594.9 109.4h4.7M597.2 107.0v4.7M595.6 108.9h4.7M597.9 106.6v4.7M596.4 109.4h4.7M598.7 107.1v4.7M597.1 109.0h4.7M599.4 106.7v4.7M597.7 108.6h4.7M600.0 106.2v4.7M598.5 108.9h4.7M600.8 106.5v4.7M599.3 109.3h4.7M601.6 107.0v4.7M600.1 109.3h4.7M602.5 107.0v4.7M600.7 108.2h4.7M603.0 105.9v4.7M601.7 108.9h4.7M604.0 106.6v4.7M602.2 107.8h4.7M604.5 105.5v4.7M603.1 108.3h4.7M605.5 105.9v4.7M603.6 107.2h4.7M606.0 104.8v4.7M604.7 107.9h4.7M607.1 105.6v4.7M605.7 108.3h4.7M608.1 106.0v4.7M605.9 106.6h4.7M608.3 104.2v4.7M607.0 107.1h4.7M609.3 104.7v4.7M607.0 105.3h4.7M609.4 103.0v4.7M607.9 105.4h4.7M610.3 103.0v4.7M609.4 106.7h4.7M611.8 104.4v4.7M609.4 105.0h4.7M611.8 102.6v4.7M610.2 104.9h4.7M612.6 102.5v4.7M610.3 103.4h4.7M612.7 101.1v4.7M611.4 103.9h4.7M613.8 101.6v4.7M611.9 103.2h4.7M614.2 100.8v4.7M613.1 103.9h4.7M615.4 101.5v4.7M613.2 102.6h4.7M615.6 100.3v4.7M614.7 103.8h4.7M617.1 101.5v4.7M614.4 101.6h4.7M616.7 99.3v4.7M615.4 102.0h4.7M617.8 99.6v4.7M615.3 100.4h4.7M617.7 98.1v4.7M616.4 100.8h4.7M618.8 98.5v4.7M617.6 101.2h4.7M619.9 98.9v4.7M617.8 100.1h4.7M620.1 97.8v4.7M618.0 99.1h4.7M620.3 96.8v4.7M619.2 99.5h4.7M621.5 97.2v4.7M620.0 99.2h4.7M622.3 96.9v4.7M620.4 98.5h4.7M622.7 96.1v4.7M621.2 98.2h4.7M623.6 95.8v4.7M620.7 96.7h4.7M623.1 94.3v4.7M622.6 97.5h4.7M625.0 95.1v4.7M622.6 96.5h4.7M625.0 94.1v4.7M621.9 94.8h4.7M624.2 92.4v4.7M624.2 95.6h4.7M626.6 93.2v4.7M623.5 94.2h4.7M625.9 91.8v4.7M624.4 93.8h4.7M626.8 91.5v4.7M623.6 92.4h4.7M625.9 90.0v4.7M624.6 92.2h4.7M627.0 89.8v4.7M624.3 91.2h4.7M626.7 88.8v4.7M626.1 91.2h4.7M628.4 88.8v4.7M625.8 90.2h4.7M628.2 87.8v4.7M625.8 89.3h4.7M628.2 86.9v4.7M626.4 88.7h4.7M628.8 86.3v4.7M627.6 88.2h4.7M629.9 85.9v4.7M626.9 87.0h4.7M629.2 84.6v4.7M627.9 86.6h4.7M630.2 84.3v4.7M627.2 85.6h4.7M629.5 83.2v4.7M627.2 84.8h4.7M629.5 82.4v4.7M628.1 84.3h4.7M630.4 82.0v4.7M628.5 83.6h4.7M630.8 81.3v4.7M629.0 82.9h4.7M631.3 80.6v4.7M629.7 82.2h4.7M632.0 79.9v4.7M629.2 81.1h4.7M631.5 78.8v4.7M629.4 80.4h4.7M631.7 78.1v4.7M630.2 79.8h4.7M632.6 77.5v4.7M630.2 79.0h4.7M632.6 76.7v4.7M630.1 78.1h4.7M632.5 75.8v4.7M630.5 77.2h4.7M632.9 74.9v4.7M629.2 76.2h4.7M631.6 73.9v4.7M630.3 75.7h4.7M632.6 73.3v4.7M629.8 74.8h4.7M632.2 72.5v4.7M630.7 74.2h4.7M633.0 71.8v4.7M631.5 73.6h4.7M633.9 71.2v4.7M630.1 72.6h4.7M632.5 70.2v4.7M631.8 72.1h4.7M634.1 69.8v4.7M631.0 71.2h4.7M633.4 68.9v4.7M631.4 70.5h4.7M633.7 68.2v4.7M631.4 69.7h4.7M633.7 67.4v4.7"/></defs>
<use href="#mt2" stroke="#e06230" stroke-width="4.2" fill="none" opacity="0.3"/>
<use href="#mt2" stroke="#e06230" stroke-width="1.7" fill="none" opacity="0.62"/>
<path d="M286.3 105.2L287.8 105.5L289.3 105.9L290.8 106.2L292.4 106.5L293.9 106.8L295.4 107.1L296.9 107.5L298.4 107.9L299.9 108.3L301.4 108.8L302.9 109.2L304.4 109.6L305.9 110.0L307.4 110.5L308.9 110.9L310.4 111.3L311.9 111.7L313.4 112.1L314.9 112.5L316.3 112.8L317.8 113.2L319.3 113.6L320.8 113.9L322.3 114.2L323.9 114.5L325.4 114.8L326.9 115.1L328.3 115.4L329.8 115.6L331.3 115.9L332.7 116.2L334.2 116.5L335.6 116.7L337.1 116.9L338.6 117.1L340.1 117.3L341.6 117.4L343.1 117.5L344.6 117.5L346.1 117.6L347.5 117.6L349.0 117.7L350.5 117.7L352.0 117.8L353.5 117.8L355.0 117.8L356.5 117.8L358.0 117.8L359.5 117.8L361.0 117.7L362.5 117.7L364.0 117.6L365.5 117.6L367.0 117.6L368.5 117.7L370.0 117.8L371.5 117.9L373.0 118.0L374.5 118.0L376.0 118.1L377.5 118.1L379.0 118.1L380.5 118.0L382.0 117.9L383.5 117.9L385.0 117.8L386.5 117.8L388.0 117.7L389.5 117.7L391.0 117.7L392.5 117.7L394.0 117.7L395.5 117.6L397.0 117.6L398.5 117.6L400.0 117.5L401.5 117.5L403.0 117.6L404.5 117.6L406.0 117.7L407.5 117.8L409.0 117.9L410.5 117.9L412.0 117.9L413.5 117.9L415.0 117.8L416.5 117.7L418.0 117.6L419.5 117.5L421.0 117.4L422.5 117.3L424.0 117.2L425.5 117.2L427.0 117.1L428.5 117.1L430.0 117.1L431.4 117.0L432.9 116.9L434.4 116.8L435.9 116.7L437.4 116.7L438.9 116.6L440.4 116.6L441.9 116.5L443.4 116.5L444.9 116.4L446.4 116.4L447.9 116.2L449.4 116.1L450.9 115.9L452.4 115.7L453.9 115.5L455.4 115.3L456.9 115.1L458.4 115.0L459.9 114.9L461.4 114.8L462.9 114.8L464.4 114.8L465.9 114.8L467.4 114.8L468.9 114.7L470.4 114.7L471.9 114.7L473.4 114.6L474.9 114.6L476.4 114.6L477.9 114.6L479.5 114.7L481.0 114.7L482.5 114.7L484.0 114.6L485.5 114.5L486.9 114.4L488.4 114.3L489.9 114.1L491.4 114.0L492.9 113.9L494.4 113.8L495.9 113.7L497.4 113.7L498.9 113.7L500.4 113.7L501.9 113.7L503.4 113.6L504.9 113.6L506.4 113.5L507.9 113.4L509.4 113.4L510.9 113.3L512.4 113.2L513.9 113.2L515.4 113.1L516.9 113.0L518.4 113.0L519.9 112.9L521.4 112.8L522.9 112.7L524.4 112.6L525.9 112.5L527.4 112.4L528.9 112.3L530.4 112.2L531.9 112.2L533.4 112.1L534.9 112.1L536.4 112.1L537.9 112.0L539.4 111.9L540.9 111.9L542.3 111.8L543.8 111.7L545.3 111.6L546.8 111.5L548.3 111.3L549.7 111.2L551.2 111.1L552.7 111.0L554.2 110.8L555.7 110.7L557.2 110.5L558.7 110.4L560.2 110.2L561.7 110.1L563.2 109.9L564.6 109.8L566.1 109.6L567.6 109.4L569.1 109.2L570.5 109.0L572.0 108.8L573.5 108.6L575.0 108.4L576.5 108.1L578.0 107.9L579.4 107.7L580.9 107.4L582.4 107.2L583.9 107.0L585.4 106.8L587.0 106.5L588.5 106.3L590.0 106.1L591.5 105.9L593.0 105.7L594.4 105.5L595.9 105.3L597.4 105.0L598.8 104.8L600.2 104.5L600.7 104.4L601.2 104.3L601.6 104.2L602.1 104.1L602.6 104.0L603.0 103.9L603.5 103.8L603.9 103.6L604.3 103.5L604.7 103.3L605.1 103.2L605.5 103.0L605.9 102.8L606.4 102.6L606.8 102.4L607.2 102.2L607.7 102.0L608.2 101.8L608.6 101.5L609.1 101.3L609.6 101.0L610.0 100.8L610.5 100.5L611.0 100.3L611.5 100.0L612.0 99.7L612.5 99.5L613.0 99.2L613.4 99.0L613.9 98.7L614.4 98.5L614.8 98.2L615.3 98.0L615.7 97.7L616.2 97.4L616.6 97.2L617.0 96.9L617.5 96.6L617.9 96.3L618.3 95.9L618.8 95.6L619.2 95.3L619.6 94.9L620.0 94.5L620.4 94.1L620.8 93.7L621.2 93.3L621.6 92.8L621.9 92.3L622.3 91.8L622.7 91.2L623.0 90.5L623.5 89.6L623.9 88.7L624.3 87.7L624.8 86.7L625.2 85.6L625.7 84.4L626.1 83.2L626.5 81.9L627.0 80.5L627.4 78.9L627.8 77.1L628.3 74.5L628.8 71.6L629.2 68.7L637.3 70.1L637.3 73.1L636.8 76.0L636.3 78.9L635.7 81.1L635.2 83.0L634.6 84.6L634.1 86.2L633.5 87.5L633.0 88.8L632.5 90.0L632.0 91.2L631.4 92.4L630.9 93.5L630.3 94.5L629.7 95.5L629.1 96.4L628.5 97.3L627.9 98.0L627.3 98.7L626.7 99.4L626.2 100.0L625.6 100.5L625.0 101.0L624.4 101.5L623.8 102.0L623.3 102.4L622.7 102.8L622.2 103.2L621.6 103.6L621.0 103.9L620.5 104.3L619.9 104.6L619.4 104.9L618.8 105.2L618.3 105.5L617.7 105.8L617.2 106.1L616.7 106.4L616.1 106.6L615.6 106.9L615.1 107.1L614.6 107.4L614.1 107.6L613.6 107.9L613.1 108.2L612.6 108.4L612.1 108.7L611.6 109.0L611.0 109.2L610.5 109.5L610.0 109.7L609.4 110.0L608.9 110.2L608.3 110.4L607.7 110.6L607.2 110.8L606.6 111.0L606.0 111.2L605.4 111.4L604.9 111.5L604.3 111.6L603.8 111.8L603.3 111.9L602.8 112.0L602.2 112.1L601.7 112.2L600.1 112.5L598.6 112.7L597.0 113.0L595.5 113.2L594.0 113.4L592.5 113.6L591.0 113.8L589.5 113.9L588.0 114.1L586.5 114.4L585.0 114.6L583.5 114.8L582.0 115.0L580.5 115.2L579.0 115.4L577.5 115.6L576.0 115.8L574.5 116.1L573.0 116.3L571.5 116.5L569.9 116.7L568.4 116.8L566.9 117.0L565.4 117.2L563.8 117.3L562.3 117.5L560.8 117.6L559.3 117.7L557.8 117.9L556.3 118.0L554.8 118.1L553.3 118.3L551.8 118.4L550.3 118.5L548.8 118.6L547.2 118.7L545.7 118.8L544.2 118.9L542.7 119.0L541.2 119.1L539.6 119.1L538.1 119.2L536.6 119.2L535.1 119.2L533.6 119.2L532.1 119.2L530.6 119.3L529.1 119.3L527.6 119.4L526.1 119.4L524.6 119.5L523.1 119.6L521.6 119.7L520.1 119.7L518.6 119.8L517.1 119.8L515.6 119.9L514.1 119.9L512.6 119.9L511.1 120.0L509.6 120.0L508.1 120.1L506.6 120.1L505.1 120.2L503.6 120.2L502.1 120.2L500.6 120.2L499.1 120.2L497.6 120.2L496.1 120.2L494.6 120.2L493.1 120.2L491.6 120.3L490.1 120.4L488.6 120.5L487.1 120.6L485.6 120.7L484.1 120.8L482.6 120.8L481.1 120.8L479.6 120.8L478.1 120.7L476.6 120.7L475.1 120.7L473.6 120.6L472.1 120.7L470.6 120.7L469.1 120.7L467.6 120.7L466.1 120.7L464.6 120.6L463.1 120.6L461.6 120.6L460.1 120.6L458.6 120.6L457.1 120.7L455.6 120.8L454.1 120.9L452.6 121.0L451.1 121.1L449.7 121.2L448.2 121.3L446.7 121.3L445.2 121.3L443.6 121.3L442.1 121.2L440.6 121.2L439.1 121.2L437.6 121.3L436.1 121.3L434.6 121.4L433.1 121.5L431.6 121.6L430.1 121.6L428.6 121.7L427.1 121.7L425.6 121.8L424.1 121.8L422.6 121.9L421.1 122.0L419.6 122.1L418.1 122.2L416.6 122.3L415.1 122.4L413.6 122.5L412.1 122.5L410.6 122.5L409.1 122.4L407.6 122.3L406.0 122.2L404.5 122.2L403.0 122.1L401.5 122.1L400.0 122.1L398.5 122.1L397.0 122.1L395.5 122.2L394.0 122.2L392.5 122.2L391.0 122.2L389.5 122.3L388.0 122.3L386.5 122.3L385.0 122.3L383.5 122.4L382.0 122.4L380.5 122.5L379.0 122.6L377.5 122.6L376.0 122.6L374.5 122.5L373.0 122.5L371.5 122.4L370.0 122.3L368.5 122.2L367.0 122.1L365.5 122.1L363.9 122.1L362.4 122.1L360.9 122.2L359.4 122.2L357.9 122.3L356.4 122.3L354.9 122.3L353.4 122.3L351.9 122.2L350.4 122.2L348.9 122.1L347.4 122.1L345.9 122.0L344.3 122.0L342.8 121.9L341.3 121.8L339.8 121.7L338.3 121.5L336.8 121.3L335.3 121.1L333.7 120.9L332.1 120.6L330.6 120.3L329.0 120.0L327.5 119.7L325.9 119.4L324.4 119.1L322.8 118.8L321.3 118.5L319.8 118.2L318.3 117.8L316.8 117.5L315.3 117.1L313.8 116.7L312.3 116.2L310.8 115.8L309.3 115.3L307.8 114.9L306.3 114.5L304.8 114.1L303.3 113.6L301.8 113.2L300.3 112.7L298.8 112.3L297.4 111.8L295.9 111.4L294.4 111.0L292.9 110.6L291.4 110.3L289.9 109.9L288.3 109.6L286.8 109.2L285.2 108.9Z" fill="url(#g3)"/>
<defs><path id="mt3" d="M140.8 86.2h4.7M143.2 83.8v4.7M177.7 87.5h4.7M180.1 85.2v4.7M202.2 89.2h4.7M204.6 86.8v4.7M220.5 91.8h4.7M222.9 89.4v4.7M235.3 94.0h4.7M237.6 91.6v4.7M247.4 96.8h4.7M249.8 94.4v4.7M257.9 99.3h4.7M260.3 97.0v4.7M267.2 101.4h4.7M269.6 99.0v4.7M275.2 104.5h4.7M277.6 102.2v4.7M282.6 106.9h4.7M285.0 104.5v4.7M289.5 108.3h4.7M291.8 106.0v4.7M295.6 109.9h4.7M298.0 107.6v4.7M301.2 111.6h4.7M303.6 109.3v4.7M306.6 112.9h4.7M308.9 110.5v4.7M311.4 114.4h4.7M313.8 112.0v4.7M316.0 115.9h4.7M318.3 113.5v4.7M320.5 116.3h4.7M322.8 114.0v4.7M324.6 117.3h4.7M326.9 115.0v4.7M328.5 117.8h4.7M330.9 115.5v4.7M332.2 118.5h4.7M334.6 116.2v4.7M335.7 119.2h4.7M338.1 116.8v4.7M339.1 119.6h4.7M341.4 117.3v4.7M342.3 120.1h4.7M344.6 117.7v4.7M345.4 119.8h4.7M347.7 117.5v4.7M348.3 120.1h4.7M350.7 117.8v4.7M351.2 120.1h4.7M353.5 117.8v4.7M353.9 120.1h4.7M356.3 117.7v4.7M356.6 119.4h4.7M358.9 117.1v4.7M359.1 119.9h4.7M361.5 117.6v4.7M361.6 119.9h4.7M364.0 117.5v4.7M364.0 119.7h4.7M366.3 117.3v4.7M366.3 120.0h4.7M368.6 117.6v4.7M368.5 120.3h4.7M370.9 118.0v4.7M370.7 120.0h4.7M373.1 117.7v4.7M372.8 120.2h4.7M375.2 117.9v4.7M374.9 120.5h4.7M377.2 118.1v4.7M376.9 120.0h4.7M379.2 117.7v4.7M378.8 120.1h4.7M381.2 117.7v4.7M380.7 120.2h4.7M383.1 117.8v4.7M382.6 120.2h4.7M384.9 117.9v4.7M384.4 120.2h4.7M386.7 117.9v4.7M386.2 120.1h4.7M388.5 117.8v4.7M387.9 120.4h4.7M390.2 118.1v4.7M389.6 120.1h4.7M391.9 117.7v4.7M391.2 119.7h4.7M393.5 117.4v4.7M392.8 119.9h4.7M395.2 117.5v4.7M394.4 120.0h4.7M396.7 117.6v4.7M395.9 119.9h4.7M398.3 117.6v4.7M397.4 119.4h4.7M399.8 117.0v4.7M398.9 119.9h4.7M401.3 117.5v4.7M400.4 119.6h4.7M402.7 117.3v4.7M401.8 119.8h4.7M404.1 117.5v4.7M403.2 120.3h4.7M405.5 117.9v4.7M404.6 120.0h4.7M406.9 117.6v4.7M405.9 119.9h4.7M408.3 117.6v4.7M407.2 120.1h4.7M409.6 117.8v4.7M408.5 120.0h4.7M410.9 117.7v4.7M409.8 120.7h4.7M412.2 118.4v4.7M411.1 120.4h4.7M413.4 118.0v4.7M412.3 120.4h4.7M414.7 118.0v4.7M413.5 119.9h4.7M415.9 117.5v4.7M414.7 119.8h4.7M417.1 117.4v4.7M415.9 119.9h4.7M418.2 117.6v4.7M417.0 119.2h4.7M419.4 116.8v4.7M418.2 120.0h4.7M420.5 117.6v4.7M419.3 119.3h4.7M421.6 116.9v4.7M420.4 119.6h4.7M422.7 117.3v4.7M421.5 119.6h4.7M423.8 117.3v4.7M422.6 119.3h4.7M424.9 116.9v4.7M423.6 119.6h4.7M426.0 117.2v4.7M424.7 119.6h4.7M427.0 117.3v4.7M425.7 120.0h4.7M428.1 117.6v4.7M426.7 119.5h4.7M429.1 117.1v4.7M427.7 119.9h4.7M430.1 117.6v4.7M428.7 119.5h4.7M431.0 117.1v4.7M429.7 119.2h4.7M432.0 116.9v4.7M430.6 119.5h4.7M433.0 117.1v4.7M431.6 119.0h4.7M433.9 116.6v4.7M432.5 119.2h4.7M434.9 116.8v4.7M433.4 119.3h4.7M435.8 116.9v4.7M434.4 119.4h4.7M436.7 117.0v4.7M435.3 119.1h4.7M437.6 116.7v4.7M436.1 118.5h4.7M438.5 116.1v4.7M437.0 119.4h4.7M439.4 117.0v4.7M437.9 119.0h4.7M440.3 116.6v4.7M438.8 118.8h4.7M441.1 116.4v4.7M439.6 118.6h4.7M441.9 116.3v4.7M440.5 119.1h4.7M442.8 116.7v4.7M441.3 119.0h4.7M443.6 116.6v4.7M442.1 119.1h4.7M444.5 116.8v4.7M442.9 118.8h4.7M445.3 116.5v4.7M443.8 119.4h4.7M446.1 117.0v4.7M444.5 118.7h4.7M446.9 116.4v4.7M445.3 118.9h4.7M447.7 116.6v4.7M446.1 118.8h4.7M448.4 116.5v4.7M446.9 119.1h4.7M449.2 116.7v4.7M447.6 118.4h4.7M450.0 116.0v4.7M448.4 118.4h4.7M450.7 116.1v4.7M449.1 118.4h4.7M451.5 116.0v4.7M449.8 118.2h4.7M452.2 115.8v4.7M450.6 118.1h4.7M452.9 115.7v4.7M451.3 117.8h4.7M453.6 115.4v4.7M452.0 118.4h4.7M454.4 116.1v4.7M452.8 118.7h4.7M455.1 116.3v4.7M453.4 117.6h4.7M455.8 115.3v4.7M454.8 118.2h4.7M457.2 115.8v4.7M456.2 117.4h4.7M458.5 115.0v4.7M457.5 117.4h4.7M459.9 115.1v4.7M458.8 117.6h4.7M461.2 115.3v4.7M460.1 117.8h4.7M462.5 115.4v4.7M461.4 117.9h4.7M463.8 115.6v4.7M462.6 116.9h4.7M465.0 114.6v4.7M463.9 117.2h4.7M466.2 114.8v4.7M465.1 117.8h4.7M467.4 115.4v4.7M466.3 117.6h4.7M468.6 115.3v4.7M467.5 118.6h4.7M469.8 116.2v4.7M468.6 117.6h4.7M471.0 115.2v4.7M469.7 117.4h4.7M472.1 115.0v4.7M470.9 118.1h4.7M473.2 115.8v4.7M471.9 116.5h4.7M474.3 114.2v4.7M473.0 116.9h4.7M475.4 114.5v4.7M474.1 118.8h4.7M476.5 116.4v4.7M475.2 117.4h4.7M477.5 115.1v4.7M476.2 117.7h4.7M478.6 115.4v4.7M477.2 117.6h4.7M479.6 115.3v4.7M478.2 117.4h4.7M480.6 115.0v4.7M479.2 117.7h4.7M481.6 115.3v4.7M480.2 117.2h4.7M482.6 114.8v4.7M481.2 118.1h4.7M483.6 115.8v4.7M482.2 118.0h4.7M484.5 115.7v4.7M483.1 117.9h4.7M485.5 115.6v4.7M484.0 117.2h4.7M486.4 114.8v4.7M484.9 116.7h4.7M487.3 114.3v4.7M485.9 117.2h4.7M488.2 114.9v4.7M486.8 116.9h4.7M489.1 114.5v4.7M487.7 117.4h4.7M490.0 115.1v4.7M488.5 116.5h4.7M490.9 114.1v4.7M489.4 116.7h4.7M491.7 114.4v4.7M490.3 117.1h4.7M492.6 114.8v4.7M491.1 117.2h4.7M493.5 114.9v4.7M491.9 117.0h4.7M494.3 114.7v4.7M492.8 116.4h4.7M495.1 114.1v4.7M493.6 116.6h4.7M495.9 114.3v4.7M494.4 117.8h4.7M496.8 115.5v4.7M495.2 117.4h4.7M497.6 115.0v4.7M496.0 116.6h4.7M498.3 114.2v4.7M496.8 117.8h4.7M499.2 115.4v4.7M497.6 116.9h4.7M499.9 114.5v4.7M498.3 116.9h4.7M500.7 114.6v4.7M499.1 116.6h4.7M501.4 114.2v4.7M499.9 117.6h4.7M502.2 115.3v4.7M500.6 117.0h4.7M502.9 114.6v4.7M501.3 116.9h4.7M503.7 114.5v4.7M502.1 116.5h4.7M504.4 114.1v4.7M502.8 116.3h4.7M505.1 113.9v4.7M503.5 116.9h4.7M505.9 114.6v4.7M504.2 116.8h4.7M506.6 114.5v4.7M504.9 117.5h4.7M507.3 115.1v4.7M505.9 116.3h4.7M508.3 114.0v4.7M507.0 116.5h4.7M509.3 114.2v4.7M508.0 117.1h4.7M510.4 114.8v4.7M509.0 117.0h4.7M511.4 114.6v4.7M510.0 116.3h4.7M512.3 113.9v4.7M511.0 117.2h4.7M513.3 114.9v4.7M511.9 116.7h4.7M514.3 114.4v4.7M512.9 116.9h4.7M515.2 114.6v4.7M513.8 116.6h4.7M516.2 114.3v4.7M514.7 116.9h4.7M517.1 114.5v4.7M515.6 116.2h4.7M518.0 113.9v4.7M516.5 116.3h4.7M518.9 113.9v4.7M517.5 116.8h4.7M519.8 114.5v4.7M518.3 116.5h4.7M520.7 114.1v4.7M519.2 116.4h4.7M521.5 114.1v4.7M520.1 116.7h4.7M522.4 114.4v4.7M520.9 116.2h4.7M523.3 113.9v4.7M521.7 116.3h4.7M524.1 113.9v4.7M522.5 115.0h4.7M524.9 112.6v4.7M523.4 115.7h4.7M525.7 113.4v4.7M524.2 116.3h4.7M526.6 114.0v4.7M525.0 115.5h4.7M527.4 113.1v4.7M525.8 115.7h4.7M528.2 113.4v4.7M526.6 115.9h4.7M529.0 113.6v4.7M527.4 115.7h4.7M529.7 113.4v4.7M528.2 116.2h4.7M530.5 113.8v4.7M528.9 116.0h4.7M531.3 113.6v4.7M529.7 115.6h4.7M532.0 113.3v4.7M530.4 116.2h4.7M532.8 113.9v4.7M531.1 115.5h4.7M533.5 113.2v4.7M531.9 115.3h4.7M534.2 113.0v4.7M532.6 115.8h4.7M535.0 113.5v4.7M533.3 115.9h4.7M535.7 113.6v4.7M534.0 115.5h4.7M536.4 113.2v4.7M534.7 115.1h4.7M537.1 112.7v4.7M535.7 115.3h4.7M538.0 113.0v4.7M536.6 115.7h4.7M539.0 113.3v4.7M537.5 115.8h4.7M539.9 113.5v4.7M538.4 116.4h4.7M540.8 114.0v4.7M539.3 115.4h4.7M541.6 113.0v4.7M540.2 115.3h4.7M542.5 112.9v4.7M541.0 114.3h4.7M543.3 111.9v4.7M541.9 115.9h4.7M544.3 113.6v4.7M542.8 115.7h4.7M545.1 113.3v4.7M543.6 115.2h4.7M545.9 112.8v4.7M544.4 114.7h4.7M546.7 112.4v4.7M545.1 113.7h4.7M547.5 111.4v4.7M546.0 115.4h4.7M548.4 113.0v4.7M546.8 114.5h4.7M549.1 112.2v4.7M547.7 115.6h4.7M550.0 113.3v4.7M548.4 115.2h4.7M550.8 112.8v4.7M549.2 115.4h4.7M551.6 113.0v4.7M549.9 114.6h4.7M552.3 112.3v4.7M550.7 115.2h4.7M553.1 112.9v4.7M551.4 113.8h4.7M553.7 111.5v4.7M552.2 115.2h4.7M554.6 112.9v4.7M552.9 114.4h4.7M555.3 112.1v4.7M553.6 113.7h4.7M555.9 111.4v4.7M554.3 114.1h4.7M556.7 111.7v4.7M555.0 113.7h4.7M557.4 111.4v4.7M555.8 114.3h4.7M558.1 111.9v4.7M556.5 113.7h4.7M558.8 111.4v4.7M557.3 113.3h4.7M559.6 111.0v4.7M558.2 113.7h4.7M560.5 111.4v4.7M559.0 113.7h4.7M561.4 111.4v4.7M559.9 113.8h4.7M562.3 111.5v4.7M560.8 114.0h4.7M563.1 111.7v4.7M561.6 114.2h4.7M564.0 111.9v4.7M562.4 113.7h4.7M564.7 111.4v4.7M563.2 114.3h4.7M565.6 111.9v4.7M563.8 112.0h4.7M566.2 109.7v4.7M564.7 113.2h4.7M567.1 110.8v4.7M565.6 113.6h4.7M567.9 111.3v4.7M566.2 112.4h4.7M568.5 110.0v4.7M567.0 112.8h4.7M569.4 110.5v4.7M567.8 113.0h4.7M570.1 110.6v4.7M568.4 111.9h4.7M570.8 109.6v4.7M569.2 112.4h4.7M571.6 110.0v4.7M570.0 112.9h4.7M572.4 110.5v4.7M570.7 112.3h4.7M573.0 109.9v4.7M571.5 113.2h4.7M573.9 110.8v4.7M572.3 113.5h4.7M574.7 111.1v4.7M572.8 112.1h4.7M575.2 109.8v4.7M573.4 111.4h4.7M575.8 109.1v4.7M574.4 111.9h4.7M576.7 109.5v4.7M575.1 111.5h4.7M577.5 109.1v4.7M575.9 110.9h4.7M578.2 108.6v4.7M576.7 111.3h4.7M579.1 109.0v4.7M577.5 111.2h4.7M579.9 108.8v4.7M578.3 111.1h4.7M580.7 108.8v4.7M579.2 111.7h4.7M581.5 109.4v4.7M580.0 111.7h4.7M582.3 109.3v4.7M580.7 111.2h4.7M583.0 108.9v4.7M581.4 110.7h4.7M583.7 108.3v4.7M582.2 111.0h4.7M584.5 108.7v4.7M582.9 110.7h4.7M585.2 108.3v4.7M583.6 110.7h4.7M586.0 108.3v4.7M584.3 109.9h4.7M586.6 107.6v4.7M584.8 108.7h4.7M587.2 106.3v4.7M585.8 110.7h4.7M588.2 108.4v4.7M586.4 109.8h4.7M588.8 107.5v4.7M587.1 109.8h4.7M589.5 107.4v4.7M587.9 109.9h4.7M590.3 107.6v4.7M588.7 109.8h4.7M591.1 107.5v4.7M589.5 109.6h4.7M591.9 107.2v4.7M590.4 110.5h4.7M592.8 108.1v4.7M591.1 109.6h4.7M593.4 107.3v4.7M591.9 109.6h4.7M594.2 107.2v4.7M592.5 108.8h4.7M594.9 106.5v4.7M593.3 109.2h4.7M595.7 106.8v4.7M594.1 109.4h4.7M596.5 107.0v4.7M594.8 109.0h4.7M597.1 106.6v4.7M595.6 109.1h4.7M597.9 106.7v4.7M596.2 108.3h4.7M598.5 105.9v4.7M597.0 108.9h4.7M599.3 106.5v4.7M597.5 108.0h4.7M599.9 105.6v4.7M598.3 108.2h4.7M600.7 105.8v4.7M599.0 107.9h4.7M601.3 105.5v4.7M599.8 108.2h4.7M602.2 105.9v4.7M600.7 108.5h4.7M603.1 106.2v4.7M601.4 107.9h4.7M603.7 105.6v4.7M602.0 107.1h4.7M604.3 104.7v4.7M602.9 107.4h4.7M605.2 105.1v4.7M603.7 107.7h4.7M606.1 105.3v4.7M604.4 107.2h4.7M606.8 104.9v4.7M605.1 106.8h4.7M607.5 104.4v4.7M605.5 105.6h4.7M607.8 103.3v4.7M606.3 105.6h4.7M608.6 103.3v4.7M606.9 105.2h4.7M609.3 102.9v4.7M607.7 105.0h4.7M610.0 102.6v4.7M608.5 105.0h4.7M610.9 102.6v4.7M609.2 104.5h4.7M611.5 102.2v4.7M609.7 104.0h4.7M612.1 101.6v4.7M610.6 104.1h4.7M613.0 101.7v4.7M611.0 103.1h4.7M613.3 100.7v4.7M611.7 103.0h4.7M614.1 100.6v4.7M612.5 102.8h4.7M614.9 100.5v4.7M612.8 101.8h4.7M615.1 99.4v4.7M613.5 101.7h4.7M615.9 99.3v4.7M614.0 101.1h4.7M616.4 98.7v4.7M614.7 100.9h4.7M617.1 98.5v4.7M615.6 101.0h4.7M618.0 98.6v4.7M616.2 100.6h4.7M618.6 98.3v4.7M617.0 100.4h4.7M619.4 98.1v4.7M617.6 100.0h4.7M620.0 97.7v4.7M617.7 98.9h4.7M620.1 96.5v4.7M619.4 99.8h4.7M621.7 97.5v4.7M619.8 99.1h4.7M622.2 96.8v4.7M619.4 97.5h4.7M621.8 95.1v4.7M620.2 97.2h4.7M622.6 94.8v4.7M620.8 96.8h4.7M623.1 94.4v4.7M621.6 96.5h4.7M623.9 94.2v4.7M622.2 96.2h4.7M624.6 93.8v4.7M622.5 95.3h4.7M624.8 93.0v4.7M621.7 93.8h4.7M624.1 91.5v4.7M624.7 95.1h4.7M627.1 92.7v4.7M624.2 93.7h4.7M626.5 91.4v4.7M624.6 93.0h4.7M626.9 90.7v4.7M624.1 91.9h4.7M626.5 89.6v4.7M624.9 91.5h4.7M627.2 89.2v4.7M625.7 91.1h4.7M628.0 88.7v4.7M625.3 90.0h4.7M627.6 87.6v4.7M626.4 89.6h4.7M628.8 87.3v4.7M626.2 88.6h4.7M628.6 86.3v4.7M627.4 88.2h4.7M629.7 85.8v4.7M626.8 87.0h4.7M629.2 84.7v4.7M627.9 86.7h4.7M630.2 84.3v4.7M626.5 85.3h4.7M628.8 83.0v4.7M628.4 85.3h4.7M630.8 83.0v4.7M628.1 84.4h4.7M630.5 82.1v4.7M627.9 83.5h4.7M630.3 81.2v4.7M629.0 83.0h4.7M631.3 80.7v4.7M628.5 81.9h4.7M630.8 79.6v4.7M629.4 81.2h4.7M631.7 78.9v4.7M629.6 80.6h4.7M632.0 78.2v4.7M629.9 79.9h4.7M632.2 77.5v4.7M630.7 79.2h4.7M633.1 76.9v4.7M630.4 78.3h4.7M632.8 76.0v4.7M631.3 77.5h4.7M633.6 75.1v4.7M630.4 76.6h4.7M632.7 74.2v4.7M630.2 75.8h4.7M632.5 73.5v4.7M630.4 75.1h4.7M632.8 72.7v4.7M630.3 74.3h4.7M632.7 71.9v4.7M629.7 73.4h4.7M632.1 71.0v4.7M630.7 72.8h4.7M633.0 70.5v4.7M630.0 71.9h4.7M632.4 69.6v4.7M630.7 71.3h4.7M633.0 68.9v4.7M630.8 70.6h4.7M633.1 68.2v4.7M630.8 69.8h4.7M633.1 67.4v4.7"/></defs>
<use href="#mt3" stroke="#d63a50" stroke-width="4.2" fill="none" opacity="0.3"/>
<use href="#mt3" stroke="#d63a50" stroke-width="1.7" fill="none" opacity="0.62"/>
<path d="M633.2 61.7L637.8 61.7L637.8 76L631 76Z" fill="#b3448f"/>
<path d="M286.5 104.4L288.0 104.8L289.5 105.2L291.0 105.6L292.5 105.9L294.0 106.3L295.5 106.7L297.0 107.1L298.5 107.4L300.0 107.8L301.5 108.2L303.0 108.6L304.6 109.0L306.1 109.4L307.6 109.8L309.1 110.2L310.6 110.6L312.1 111.0L313.5 111.4L315.0 111.8L316.5 112.1L318.0 112.5L319.5 112.8L321.0 113.2L322.5 113.5L324.0 113.9L325.5 114.2L327.0 114.6L328.4 114.9L329.9 115.2L331.4 115.4L332.8 115.6L334.2 115.8L335.7 115.9L337.2 116.0L338.6 116.1L340.1 116.2L341.6 116.3L343.1 116.4L344.6 116.5L346.1 116.5L347.6 116.6L349.1 116.7L350.6 116.7L352.1 116.7L353.6 116.8L355.1 116.8L356.6 116.9L358.0 116.9L359.5 116.9L361.0 116.9L362.5 117.0L364.0 117.0L365.5 117.0L367.0 117.0L368.5 117.1L370.0 117.1L371.5 117.1L373.0 117.1L374.5 117.1L376.0 117.1L377.5 117.1L379.0 117.1L380.5 117.1L382.0 117.1L383.5 117.1L385.0 117.1L386.5 117.1L388.0 117.1L389.5 117.1L391.0 117.1L392.5 117.1L394.0 117.1L395.5 117.0L397.0 117.0L398.5 117.0L400.0 117.0L401.5 117.0L403.0 117.0L404.5 116.9L406.0 116.9L407.5 116.9L409.0 116.9L410.4 116.8L411.9 116.8L413.4 116.8L414.9 116.7L416.4 116.7L417.9 116.6L419.4 116.6L420.9 116.5L422.4 116.5L423.9 116.4L425.4 116.4L426.9 116.3L428.4 116.3L429.9 116.2L431.4 116.2L432.9 116.1L434.4 116.0L435.9 116.0L437.4 115.9L438.9 115.9L440.4 115.8L441.9 115.7L443.4 115.6L444.9 115.5L446.4 115.4L447.9 115.2L449.4 115.1L450.9 115.0L452.4 114.9L453.9 114.8L455.4 114.7L456.9 114.6L458.4 114.5L459.9 114.5L461.4 114.4L462.9 114.3L464.4 114.2L465.9 114.2L467.4 114.1L468.9 114.1L470.4 114.0L471.9 114.0L473.4 113.9L474.9 113.9L476.4 113.8L477.9 113.8L479.4 113.7L480.9 113.7L482.4 113.6L483.9 113.6L485.4 113.5L486.9 113.5L488.4 113.4L489.9 113.4L491.4 113.3L492.9 113.3L494.4 113.2L495.9 113.2L497.4 113.1L498.9 113.1L500.4 113.0L501.9 113.0L503.4 112.9L504.9 112.9L506.4 112.9L507.9 112.8L509.4 112.8L510.9 112.7L512.4 112.7L513.9 112.6L515.4 112.6L516.9 112.5L518.4 112.5L519.9 112.4L521.4 112.4L522.9 112.4L524.4 112.3L525.9 112.3L527.4 112.2L528.9 112.2L530.4 112.1L531.9 112.0L533.4 112.0L534.9 111.9L536.4 111.9L537.9 111.8L539.4 111.7L540.8 111.7L542.3 111.6L543.8 111.5L545.3 111.4L546.8 111.3L548.3 111.2L549.7 111.1L551.2 111.0L552.7 110.9L554.2 110.7L555.7 110.6L557.2 110.5L558.7 110.3L560.2 110.2L561.7 110.0L563.2 109.9L564.6 109.7L566.1 109.6L567.6 109.4L569.1 109.2L570.5 109.0L572.0 108.8L573.5 108.6L575.0 108.4L576.5 108.2L578.0 108.0L579.5 107.8L581.0 107.6L582.5 107.4L584.0 107.1L585.5 106.9L587.0 106.7L588.5 106.5L590.0 106.3L591.5 106.1L593.0 105.9L594.5 105.7L595.9 105.4L597.4 105.2L598.8 105.0L600.3 104.7L600.7 104.6L601.2 104.5L601.7 104.4L602.2 104.3L602.6 104.2L603.1 104.0L603.5 103.9L603.9 103.8L604.3 103.7L604.8 103.6L605.2 103.4L605.6 103.3L606.0 103.1L606.5 102.9L606.9 102.7L607.4 102.5L607.8 102.3L608.3 102.1L608.8 101.8L609.2 101.6L609.7 101.4L610.2 101.1L610.7 100.9L611.2 100.6L611.7 100.3L612.2 100.1L612.7 99.8L613.2 99.6L613.6 99.3L614.1 99.1L614.6 98.8L615.0 98.6L615.5 98.3L615.9 98.0L616.3 97.7L616.8 97.5L617.2 97.2L617.6 96.9L618.1 96.5L618.5 96.2L619.0 95.8L619.4 95.5L619.8 95.1L620.2 94.8L620.6 94.4L621.0 93.9L621.4 93.5L621.8 93.0L622.2 92.5L622.6 92.0L623.0 91.4L623.4 90.6L623.8 89.8L624.2 88.9L624.7 87.9L625.1 86.8L625.6 85.7L626.1 84.5L626.5 83.3L627.0 82.1L627.4 80.6L627.9 79.0L628.3 77.2L628.7 74.6L629.2 71.7L629.7 68.8L637.3 70.2L637.3 73.2L637.3 76.1L636.7 78.9L636.1 81.2L635.6 83.1L635.0 84.8L634.5 86.3L633.9 87.7L633.4 89.0L632.9 90.2L632.3 91.4L631.8 92.5L631.2 93.6L630.6 94.7L630.0 95.7L629.4 96.6L628.8 97.5L628.2 98.2L627.6 98.9L627.0 99.6L626.4 100.2L625.8 100.7L625.2 101.3L624.6 101.8L624.0 102.2L623.5 102.7L622.9 103.1L622.4 103.5L621.8 103.9L621.2 104.2L620.7 104.6L620.1 104.9L619.5 105.3L619.0 105.6L618.4 105.9L617.9 106.2L617.4 106.4L616.8 106.7L616.3 107.0L615.8 107.2L615.3 107.5L614.8 107.7L614.3 108.0L613.8 108.2L613.3 108.5L612.8 108.8L612.2 109.0L611.7 109.3L611.2 109.5L610.6 109.7L610.1 110.0L609.5 110.2L609.0 110.4L608.4 110.7L607.8 110.9L607.2 111.1L606.7 111.2L606.1 111.4L605.5 111.6L604.9 111.7L604.4 111.8L603.8 111.9L603.3 112.0L602.8 112.1L602.3 112.3L601.7 112.4L600.2 112.6L598.6 112.9L597.1 113.1L595.5 113.3L594.0 113.5L592.5 113.7L591.0 113.9L589.5 114.1L588.0 114.3L586.5 114.5L585.0 114.7L583.5 114.9L582.0 115.1L580.5 115.3L579.0 115.5L577.5 115.7L576.0 115.9L574.5 116.1L573.0 116.3L571.5 116.5L569.9 116.7L568.4 116.8L566.9 117.0L565.4 117.2L563.8 117.3L562.3 117.4L560.8 117.6L559.3 117.7L557.8 117.8L556.3 117.9L554.8 118.0L553.3 118.2L551.8 118.3L550.3 118.4L548.7 118.5L547.2 118.6L545.7 118.7L544.2 118.7L542.7 118.8L541.2 118.9L539.6 118.9L538.1 119.0L536.6 119.0L535.1 119.0L533.6 119.1L532.1 119.1L530.6 119.1L529.1 119.2L527.6 119.2L526.1 119.2L524.6 119.2L523.1 119.2L521.6 119.3L520.1 119.3L518.6 119.3L517.1 119.3L515.6 119.3L514.1 119.4L512.6 119.4L511.1 119.4L509.6 119.4L508.1 119.4L506.6 119.4L505.1 119.5L503.6 119.5L502.1 119.5L500.6 119.5L499.1 119.6L497.6 119.6L496.1 119.6L494.6 119.6L493.1 119.6L491.6 119.7L490.1 119.7L488.6 119.7L487.1 119.7L485.6 119.8L484.1 119.8L482.6 119.8L481.1 119.8L479.6 119.8L478.1 119.9L476.6 119.9L475.1 119.9L473.6 119.9L472.1 120.0L470.6 120.0L469.1 120.0L467.6 120.0L466.1 120.1L464.6 120.1L463.1 120.1L461.6 120.1L460.1 120.1L458.6 120.2L457.1 120.2L455.6 120.2L454.1 120.2L452.6 120.2L451.1 120.2L449.6 120.3L448.1 120.3L446.6 120.3L445.1 120.3L443.6 120.4L442.1 120.4L440.6 120.4L439.1 120.5L437.6 120.5L436.1 120.6L434.6 120.6L433.1 120.7L431.6 120.7L430.1 120.8L428.6 120.8L427.1 120.9L425.6 120.9L424.1 121.0L422.6 121.0L421.1 121.1L419.6 121.1L418.1 121.2L416.6 121.2L415.1 121.3L413.6 121.3L412.1 121.3L410.6 121.4L409.0 121.4L407.5 121.4L406.0 121.5L404.5 121.5L403.0 121.5L401.5 121.5L400.0 121.5L398.5 121.5L397.0 121.6L395.5 121.6L394.0 121.6L392.5 121.6L391.0 121.6L389.5 121.6L388.0 121.6L386.5 121.6L385.0 121.6L383.5 121.6L382.0 121.7L380.5 121.7L379.0 121.6L377.5 121.6L376.0 121.6L374.5 121.6L373.0 121.6L371.5 121.6L370.0 121.6L368.5 121.6L367.0 121.5L365.5 121.5L364.0 121.5L362.5 121.4L361.0 121.4L359.5 121.4L358.0 121.3L356.4 121.3L354.9 121.3L353.4 121.2L351.9 121.2L350.4 121.2L348.9 121.1L347.4 121.1L345.9 121.0L344.4 120.9L342.9 120.8L341.4 120.8L339.9 120.7L338.4 120.6L336.8 120.5L335.3 120.3L333.8 120.2L332.2 120.0L330.6 119.8L329.1 119.5L327.6 119.2L326.0 118.9L324.5 118.5L323.0 118.2L321.5 117.8L320.0 117.5L318.5 117.1L317.0 116.7L315.5 116.4L314.0 116.0L312.5 115.6L310.9 115.2L309.4 114.7L307.9 114.3L306.4 113.9L304.9 113.4L303.4 113.0L302.0 112.6L300.5 112.1L299.0 111.7L297.5 111.3L296.0 110.9L294.5 110.5L293.0 110.1L291.5 109.7L290.0 109.3L288.5 108.9L287.0 108.5L285.5 108.0Z" fill="url(#g4)"/>
<defs><path id="mt4" d="M147.3 85.6h4.7M149.7 83.3v4.7M181.9 87.7h4.7M184.2 85.4v4.7M205.4 89.7h4.7M207.7 87.3v4.7M223.1 92.0h4.7M225.4 89.7v4.7M237.4 94.3h4.7M239.8 91.9v4.7M249.4 96.7h4.7M251.8 94.4v4.7M259.8 99.0h4.7M262.2 96.7v4.7M268.9 101.5h4.7M271.2 99.1v4.7M277.1 103.8h4.7M279.4 101.5v4.7M284.3 106.1h4.7M286.6 103.8v4.7M290.8 108.4h4.7M293.1 106.0v4.7M296.9 109.7h4.7M299.3 107.3v4.7M302.6 111.2h4.7M304.9 108.9v4.7M307.8 112.6h4.7M310.2 110.2v4.7M312.6 114.4h4.7M314.9 112.1v4.7M317.2 115.1h4.7M319.6 112.7v4.7M321.5 116.4h4.7M323.8 114.1v4.7M325.6 117.0h4.7M328.0 114.7v4.7M329.4 118.0h4.7M331.8 115.6v4.7M333.2 117.9h4.7M335.5 115.6v4.7M336.7 118.1h4.7M339.0 115.7v4.7M340.0 118.8h4.7M342.3 116.5v4.7M343.2 118.7h4.7M345.5 116.3v4.7M346.2 118.9h4.7M348.6 116.6v4.7M349.2 119.1h4.7M351.5 116.8v4.7M352.0 119.2h4.7M354.4 116.8v4.7M354.7 119.1h4.7M357.1 116.8v4.7M357.4 118.9h4.7M359.7 116.6v4.7M359.9 119.1h4.7M362.3 116.7v4.7M362.4 119.3h4.7M364.7 116.9v4.7M364.7 119.4h4.7M367.1 117.0v4.7M367.0 119.4h4.7M369.4 117.1v4.7M369.3 119.4h4.7M371.6 117.1v4.7M371.4 119.2h4.7M373.8 116.9v4.7M373.5 119.4h4.7M375.9 117.0v4.7M375.6 119.5h4.7M377.9 117.2v4.7M377.6 119.3h4.7M379.9 116.9v4.7M379.5 119.3h4.7M381.9 117.0v4.7M381.4 119.5h4.7M383.7 117.2v4.7M383.2 119.7h4.7M385.6 117.3v4.7M385.0 119.4h4.7M387.4 117.1v4.7M386.8 119.4h4.7M389.1 117.0v4.7M388.5 119.2h4.7M390.9 116.8v4.7M390.2 119.3h4.7M392.5 117.0v4.7M391.8 119.2h4.7M394.2 116.8v4.7M393.4 119.3h4.7M395.8 117.0v4.7M395.0 119.4h4.7M397.3 117.1v4.7M396.5 119.4h4.7M398.9 117.0v4.7M398.0 119.5h4.7M400.4 117.2v4.7M399.5 119.0h4.7M401.9 116.7v4.7M401.0 118.9h4.7M403.3 116.6v4.7M402.4 119.5h4.7M404.7 117.2v4.7M403.8 119.4h4.7M406.1 117.1v4.7M405.1 118.9h4.7M407.5 116.6v4.7M406.5 119.2h4.7M408.8 116.8v4.7M407.8 118.9h4.7M410.1 116.5v4.7M409.1 119.1h4.7M411.4 116.7v4.7M410.4 119.1h4.7M412.7 116.8v4.7M411.6 119.3h4.7M414.0 116.9v4.7M412.8 118.7h4.7M415.2 116.4v4.7M414.1 118.6h4.7M416.4 116.3v4.7M415.3 119.1h4.7M417.6 116.7v4.7M416.4 118.8h4.7M418.8 116.4v4.7M417.6 119.2h4.7M419.9 116.9v4.7M418.7 118.5h4.7M421.1 116.1v4.7M419.8 118.6h4.7M422.2 116.2v4.7M420.9 118.0h4.7M423.3 115.6v4.7M422.0 119.0h4.7M424.4 116.7v4.7M423.1 119.0h4.7M425.5 116.7v4.7M424.1 118.7h4.7M426.5 116.4v4.7M425.2 118.5h4.7M427.5 116.1v4.7M426.2 117.9h4.7M428.5 115.6v4.7M427.2 118.1h4.7M429.6 115.8v4.7M428.2 118.3h4.7M430.6 116.0v4.7M429.2 119.0h4.7M431.6 116.7v4.7M430.2 118.7h4.7M432.5 116.3v4.7M431.1 118.2h4.7M433.5 115.8v4.7M432.1 118.5h4.7M434.4 116.1v4.7M433.0 118.5h4.7M435.4 116.1v4.7M434.0 118.4h4.7M436.3 116.1v4.7M434.8 117.9h4.7M437.2 115.6v4.7M435.8 118.0h4.7M438.1 115.7v4.7M436.7 118.5h4.7M439.0 116.1v4.7M437.5 118.3h4.7M439.9 116.0v4.7M438.4 118.0h4.7M440.7 115.6v4.7M439.3 118.9h4.7M441.6 116.5v4.7M440.1 118.1h4.7M442.5 115.8v4.7M440.9 117.8h4.7M443.3 115.5v4.7M441.8 118.2h4.7M444.1 115.9v4.7M442.6 118.2h4.7M445.0 115.8v4.7M443.4 117.8h4.7M445.8 115.5v4.7M444.2 118.5h4.7M446.6 116.1v4.7M445.0 118.2h4.7M447.4 115.8v4.7M445.8 117.8h4.7M448.1 115.4v4.7M446.6 118.0h4.7M448.9 115.6v4.7M447.3 117.9h4.7M449.7 115.6v4.7M448.1 117.6h4.7M450.4 115.2v4.7M448.9 117.9h4.7M451.2 115.5v4.7M449.6 117.4h4.7M451.9 115.0v4.7M450.3 117.5h4.7M452.7 115.1v4.7M451.1 117.8h4.7M453.4 115.4v4.7M451.8 117.0h4.7M454.1 114.7v4.7M452.5 117.4h4.7M454.9 115.0v4.7M453.2 117.1h4.7M455.6 114.7v4.7M453.9 117.7h4.7M456.3 115.4v4.7M455.3 117.2h4.7M457.7 114.8v4.7M456.7 118.1h4.7M459.1 115.7v4.7M458.0 117.9h4.7M460.4 115.6v4.7M459.3 117.0h4.7M461.7 114.6v4.7M460.6 117.3h4.7M463.0 114.9v4.7M461.9 117.0h4.7M464.2 114.7v4.7M463.1 117.1h4.7M465.5 114.8v4.7M464.4 117.4h4.7M466.7 115.0v4.7M465.6 117.7h4.7M467.9 115.3v4.7M466.8 117.9h4.7M469.1 115.6v4.7M468.0 117.8h4.7M470.3 115.4v4.7M469.1 116.5h4.7M471.4 114.1v4.7M470.2 116.8h4.7M472.6 114.4v4.7M471.3 116.8h4.7M473.7 114.5v4.7M472.4 116.8h4.7M474.8 114.4v4.7M473.5 116.9h4.7M475.9 114.6v4.7M474.6 117.1h4.7M476.9 114.8v4.7M475.6 116.6h4.7M478.0 114.3v4.7M476.7 116.5h4.7M479.0 114.2v4.7M477.7 117.8h4.7M480.1 115.4v4.7M478.7 117.0h4.7M481.1 114.7v4.7M479.7 117.6h4.7M482.1 115.3v4.7M480.7 116.5h4.7M483.0 114.1v4.7M481.7 117.3h4.7M484.0 114.9v4.7M482.6 117.4h4.7M485.0 115.0v4.7M483.6 117.2h4.7M485.9 114.9v4.7M484.5 116.3h4.7M486.8 113.9v4.7M485.4 116.8h4.7M487.8 114.5v4.7M486.3 116.2h4.7M488.7 113.9v4.7M487.2 116.1h4.7M489.6 113.7v4.7M488.1 116.5h4.7M490.5 114.2v4.7M489.0 116.7h4.7M491.3 114.4v4.7M489.9 116.4h4.7M492.2 114.0v4.7M490.7 116.4h4.7M493.1 114.1v4.7M491.6 116.7h4.7M493.9 114.4v4.7M492.4 116.1h4.7M494.7 113.8v4.7M493.2 116.6h4.7M495.6 114.2v4.7M494.1 116.7h4.7M496.4 114.4v4.7M494.9 116.7h4.7M497.2 114.3v4.7M495.7 116.6h4.7M498.0 114.3v4.7M496.4 115.9h4.7M498.8 113.5v4.7M497.2 116.2h4.7M499.6 113.8v4.7M498.0 116.1h4.7M500.4 113.8v4.7M498.8 116.6h4.7M501.1 114.2v4.7M499.5 115.5h4.7M501.9 113.1v4.7M500.3 116.3h4.7M502.7 114.0v4.7M501.0 115.5h4.7M503.4 113.2v4.7M501.8 116.5h4.7M504.1 114.1v4.7M502.5 116.0h4.7M504.9 113.6v4.7M503.2 116.2h4.7M505.6 113.8v4.7M504.0 116.6h4.7M506.3 114.2v4.7M504.7 116.9h4.7M507.0 114.6v4.7M505.4 115.7h4.7M507.7 113.3v4.7M506.4 116.2h4.7M508.8 113.8v4.7M507.4 115.2h4.7M509.8 112.8v4.7M508.4 116.0h4.7M510.8 113.6v4.7M509.4 115.7h4.7M511.8 113.4v4.7M510.4 116.3h4.7M512.8 114.0v4.7M511.4 116.0h4.7M513.8 113.6v4.7M512.4 116.0h4.7M514.7 113.7v4.7M513.3 115.4h4.7M515.7 113.1v4.7M514.3 115.8h4.7M516.6 113.4v4.7M515.2 115.4h4.7M517.5 113.1v4.7M516.1 115.9h4.7M518.4 113.6v4.7M517.0 115.1h4.7M519.3 112.8v4.7M517.9 116.0h4.7M520.2 113.6v4.7M518.8 116.4h4.7M521.1 114.0v4.7M519.7 117.1h4.7M522.0 114.7v4.7M520.5 116.5h4.7M522.9 114.2v4.7M521.4 116.4h4.7M523.7 114.1v4.7M522.2 116.2h4.7M524.6 113.8v4.7M523.0 116.5h4.7M525.4 114.2v4.7M523.8 115.7h4.7M526.2 113.4v4.7M524.7 115.9h4.7M527.0 113.6v4.7M525.4 114.8h4.7M527.8 112.4v4.7M526.3 115.4h4.7M528.6 113.1v4.7M527.1 116.2h4.7M529.4 113.9v4.7M527.8 114.8h4.7M530.2 112.4v4.7M528.6 115.8h4.7M531.0 113.4v4.7M529.4 115.6h4.7M531.7 113.2v4.7M530.1 115.4h4.7M532.5 113.0v4.7M530.9 115.7h4.7M533.2 113.3v4.7M531.6 115.5h4.7M534.0 113.2v4.7M532.3 114.9h4.7M534.7 112.6v4.7M533.1 115.4h4.7M535.4 113.1v4.7M533.7 114.6h4.7M536.1 112.2v4.7M534.5 116.2h4.7M536.9 113.8v4.7M535.2 115.4h4.7M537.5 113.0v4.7M536.1 115.8h4.7M538.5 113.5v4.7M537.0 114.9h4.7M539.4 112.5v4.7M538.0 116.2h4.7M540.3 113.9v4.7M538.9 115.8h4.7M541.2 113.4v4.7M539.7 115.4h4.7M542.1 113.0v4.7M540.6 115.3h4.7M543.0 112.9v4.7M541.5 115.3h4.7M543.8 113.0v4.7M542.3 114.7h4.7M544.7 112.4v4.7M543.2 115.0h4.7M545.5 112.6v4.7M544.0 114.9h4.7M546.3 112.5v4.7M544.8 115.1h4.7M547.2 112.8v4.7M545.7 115.7h4.7M548.0 113.3v4.7M546.5 115.4h4.7M548.8 113.1v4.7M547.3 114.9h4.7M549.6 112.6v4.7M548.1 115.0h4.7M550.4 112.7v4.7M548.8 114.5h4.7M551.2 112.2v4.7M549.6 114.4h4.7M551.9 112.0v4.7M550.3 113.7h4.7M552.7 111.4v4.7M551.1 113.8h4.7M553.4 111.5v4.7M551.8 113.8h4.7M554.2 111.5v4.7M552.6 114.3h4.7M555.0 112.0v4.7M553.3 114.2h4.7M555.7 111.9v4.7M554.1 114.5h4.7M556.4 112.1v4.7M554.9 114.8h4.7M557.2 112.4v4.7M555.5 114.5h4.7M557.9 112.1v4.7M556.2 114.0h4.7M558.6 111.6v4.7M556.9 113.7h4.7M559.3 111.4v4.7M557.8 113.8h4.7M560.1 111.4v4.7M558.7 114.1h4.7M561.0 111.8v4.7M559.5 113.3h4.7M561.8 110.9v4.7M560.3 112.9h4.7M562.6 110.5v4.7M561.1 113.5h4.7M563.5 111.1v4.7M562.0 114.1h4.7M564.4 111.7v4.7M562.9 114.1h4.7M565.2 111.7v4.7M563.6 113.7h4.7M566.0 111.3v4.7M564.3 112.3h4.7M566.6 109.9v4.7M565.2 113.1h4.7M567.5 110.8v4.7M566.0 113.5h4.7M568.3 111.1v4.7M566.8 113.6h4.7M569.1 111.2v4.7M567.6 113.9h4.7M569.9 111.5v4.7M568.2 112.3h4.7M570.5 110.0v4.7M569.0 112.9h4.7M571.3 110.6v4.7M569.6 111.8h4.7M571.9 109.5v4.7M570.4 112.4h4.7M572.8 110.1v4.7M571.1 112.3h4.7M573.5 109.9v4.7M571.9 112.8h4.7M574.3 110.4v4.7M572.6 112.4h4.7M574.9 110.0v4.7M573.2 111.3h4.7M575.5 108.9v4.7M574.0 112.0h4.7M576.3 109.7v4.7M574.8 112.2h4.7M577.2 109.8v4.7M575.7 112.6h4.7M578.1 110.3v4.7M576.4 111.4h4.7M578.7 109.0v4.7M577.2 111.2h4.7M579.5 108.8v4.7M578.0 111.2h4.7M580.3 108.9v4.7M578.9 111.9h4.7M581.2 109.6v4.7M579.6 111.1h4.7M581.9 108.8v4.7M580.4 111.2h4.7M582.7 108.9v4.7M581.1 111.3h4.7M583.5 109.0v4.7M581.8 110.5h4.7M584.1 108.2v4.7M582.7 111.4h4.7M585.0 109.1v4.7M583.2 109.9h4.7M585.6 107.5v4.7M584.2 111.6h4.7M586.6 109.3v4.7M584.7 110.2h4.7M587.1 107.8v4.7M585.4 110.0h4.7M587.8 107.6v4.7M586.2 109.9h4.7M588.5 107.6v4.7M586.8 109.6h4.7M589.2 107.3v4.7M587.5 109.7h4.7M589.9 107.3v4.7M588.3 109.6h4.7M590.7 107.3v4.7M589.1 109.3h4.7M591.5 107.0v4.7M590.0 109.8h4.7M592.3 107.4v4.7M590.8 109.9h4.7M593.1 107.6v4.7M591.5 109.3h4.7M593.8 107.0v4.7M592.3 109.6h4.7M594.7 107.3v4.7M593.0 109.0h4.7M595.3 106.6v4.7M593.8 109.5h4.7M596.2 107.1v4.7M594.5 109.0h4.7M596.8 106.7v4.7M595.2 108.5h4.7M597.5 106.2v4.7M596.0 109.0h4.7M598.3 106.7v4.7M596.7 108.8h4.7M599.0 106.4v4.7M597.3 108.4h4.7M599.7 106.0v4.7M598.1 108.6h4.7M600.5 106.2v4.7M598.9 108.8h4.7M601.2 106.4v4.7M599.4 107.7h4.7M601.7 105.3v4.7M600.2 107.9h4.7M602.6 105.6v4.7M601.1 108.4h4.7M603.5 106.0v4.7M601.8 107.8h4.7M604.2 105.5v4.7M602.7 108.1h4.7M605.0 105.7v4.7M603.7 108.7h4.7M606.1 106.4v4.7M603.8 106.5h4.7M606.2 104.2v4.7M604.9 107.1h4.7M607.2 104.7v4.7M605.4 106.4h4.7M607.8 104.1v4.7M606.6 107.0h4.7M608.9 104.7v4.7M607.1 106.3h4.7M609.4 103.9v4.7M607.3 104.9h4.7M609.7 102.6v4.7M608.6 105.9h4.7M611.0 103.5v4.7M609.1 105.0h4.7M611.4 102.6v4.7M609.7 104.5h4.7M612.0 102.1v4.7M610.4 104.3h4.7M612.8 101.9v4.7M611.2 104.0h4.7M613.5 101.7v4.7M611.5 103.2h4.7M613.9 100.8v4.7M612.3 103.1h4.7M614.7 100.7v4.7M613.4 103.6h4.7M615.8 101.3v4.7M613.5 102.1h4.7M615.8 99.7v4.7M614.2 101.9h4.7M616.6 99.6v4.7M615.2 102.2h4.7M617.6 99.9v4.7M615.4 101.0h4.7M617.7 98.7v4.7M616.2 101.0h4.7M618.6 98.6v4.7M617.0 100.8h4.7M619.4 98.5v4.7M617.2 99.8h4.7M619.6 97.5v4.7M618.0 99.7h4.7M620.4 97.3v4.7M618.4 98.9h4.7M620.8 96.6v4.7M619.3 98.8h4.7M621.6 96.4v4.7M620.0 98.5h4.7M622.4 96.2v4.7M620.5 97.9h4.7M622.9 95.5v4.7M621.2 97.5h4.7M623.5 95.1v4.7M621.7 97.0h4.7M624.1 94.7v4.7M622.4 96.6h4.7M624.8 94.3v4.7M622.1 95.3h4.7M624.4 93.0v4.7M623.1 95.1h4.7M625.5 92.8v4.7M624.3 95.0h4.7M626.6 92.7v4.7M623.8 93.8h4.7M626.2 91.5v4.7M624.2 93.1h4.7M626.6 90.8v4.7M624.7 92.6h4.7M627.1 90.2v4.7M624.7 91.7h4.7M627.0 89.4v4.7M625.7 91.4h4.7M628.0 89.0v4.7M625.7 90.5h4.7M628.1 88.2v4.7M626.0 89.8h4.7M628.3 87.4v4.7M626.8 89.2h4.7M629.2 86.9v4.7M627.4 88.5h4.7M629.8 86.2v4.7M626.3 87.1h4.7M628.7 84.8v4.7M627.1 86.7h4.7M629.5 84.3v4.7M627.5 86.1h4.7M629.8 83.7v4.7M627.1 85.1h4.7M629.5 82.8v4.7M628.6 84.9h4.7M630.9 82.5v4.7M629.6 84.4h4.7M632.0 82.1v4.7M629.2 83.4h4.7M631.5 81.0v4.7M629.7 82.7h4.7M632.0 80.3v4.7M628.1 81.2h4.7M630.5 78.9v4.7M629.2 80.8h4.7M631.5 78.5v4.7M628.9 80.0h4.7M631.2 77.6v4.7M630.3 79.5h4.7M632.6 77.2v4.7M629.9 78.6h4.7M632.3 76.3v4.7M630.1 77.7h4.7M632.5 75.4v4.7M630.7 76.8h4.7M633.0 74.4v4.7M631.0 76.1h4.7M633.3 73.7v4.7M631.6 75.4h4.7M634.0 73.1v4.7M631.6 74.6h4.7M633.9 72.3v4.7M631.5 73.8h4.7M633.8 71.5v4.7M630.1 72.8h4.7M632.4 70.5v4.7M631.9 72.4h4.7M634.3 70.0v4.7M631.4 71.5h4.7M633.7 69.2v4.7M630.5 70.6h4.7M632.9 68.3v4.7M631.7 70.0h4.7M634.0 67.7v4.7"/></defs>
<use href="#mt4" stroke="#b0408c" stroke-width="4.2" fill="none" opacity="0.3"/>
<use href="#mt4" stroke="#b0408c" stroke-width="1.7" fill="none" opacity="0.62"/>
<rect x="68.5" y="10.0" width="614.1" height="157.8" fill="none" stroke="#000" stroke-width="1.35"/>
<line x1="61.1" y1="167.8" x2="68.5" y2="167.8" stroke="#000" stroke-width="1.35"/>
<text x="57.9" y="175.2" text-anchor="end" font-size="22.5">4</text>
<line x1="61.1" y1="128.4" x2="68.5" y2="128.4" stroke="#000" stroke-width="1.35"/>
<text x="57.9" y="135.8" text-anchor="end" font-size="22.5">5</text>
<line x1="61.1" y1="88.9" x2="68.5" y2="88.9" stroke="#000" stroke-width="1.35"/>
<text x="57.9" y="96.3" text-anchor="end" font-size="22.5">6</text>
<line x1="61.1" y1="49.5" x2="68.5" y2="49.5" stroke="#000" stroke-width="1.35"/>
<text x="57.9" y="56.9" text-anchor="end" font-size="22.5">7</text>
<line x1="61.1" y1="10.0" x2="68.5" y2="10.0" stroke="#000" stroke-width="1.35"/>
<text x="57.9" y="17.4" text-anchor="end" font-size="22.5">8</text>
<line x1="68.7" y1="167.8" x2="68.7" y2="175.0" stroke="#000" stroke-width="1.35"/>
<line x1="98.7" y1="167.8" x2="98.7" y2="172.9" stroke="#000" stroke-width="1.35"/>
<line x1="120.0" y1="167.8" x2="120.0" y2="172.9" stroke="#000" stroke-width="1.35"/>
<line x1="136.5" y1="167.8" x2="136.5" y2="175.0" stroke="#000" stroke-width="1.35"/>
<line x1="150.0" y1="167.8" x2="150.0" y2="172.9" stroke="#000" stroke-width="1.35"/>
<line x1="161.5" y1="167.8" x2="161.5" y2="172.9" stroke="#000" stroke-width="1.35"/>
<line x1="171.4" y1="167.8" x2="171.4" y2="172.9" stroke="#000" stroke-width="1.35"/>
<line x1="180.1" y1="167.8" x2="180.1" y2="172.9" stroke="#000" stroke-width="1.35"/>
<line x1="187.9" y1="167.8" x2="187.9" y2="175.0" stroke="#000" stroke-width="1.35"/>
<line x1="239.2" y1="167.8" x2="239.2" y2="172.9" stroke="#000" stroke-width="1.35"/>
<line x1="269.2" y1="167.8" x2="269.2" y2="172.9" stroke="#000" stroke-width="1.35"/>
<line x1="290.5" y1="167.8" x2="290.5" y2="172.9" stroke="#000" stroke-width="1.35"/>
<line x1="307.0" y1="167.8" x2="307.0" y2="172.9" stroke="#000" stroke-width="1.35"/>
<line x1="320.5" y1="167.8" x2="320.5" y2="172.9" stroke="#000" stroke-width="1.35"/>
<line x1="332.0" y1="167.8" x2="332.0" y2="172.9" stroke="#000" stroke-width="1.35"/>
<line x1="341.9" y1="167.8" x2="341.9" y2="172.9" stroke="#000" stroke-width="1.35"/>
<line x1="350.6" y1="167.8" x2="350.6" y2="172.9" stroke="#000" stroke-width="1.35"/>
<line x1="358.4" y1="167.8" x2="358.4" y2="175.0" stroke="#000" stroke-width="1.35"/>
<line x1="409.7" y1="167.8" x2="409.7" y2="172.9" stroke="#000" stroke-width="1.35"/>
<line x1="439.7" y1="167.8" x2="439.7" y2="172.9" stroke="#000" stroke-width="1.35"/>
<line x1="461.0" y1="167.8" x2="461.0" y2="172.9" stroke="#000" stroke-width="1.35"/>
<line x1="477.5" y1="167.8" x2="477.5" y2="172.9" stroke="#000" stroke-width="1.35"/>
<line x1="491.0" y1="167.8" x2="491.0" y2="172.9" stroke="#000" stroke-width="1.35"/>
<line x1="502.5" y1="167.8" x2="502.5" y2="172.9" stroke="#000" stroke-width="1.35"/>
<line x1="512.4" y1="167.8" x2="512.4" y2="172.9" stroke="#000" stroke-width="1.35"/>
<line x1="521.1" y1="167.8" x2="521.1" y2="172.9" stroke="#000" stroke-width="1.35"/>
<line x1="528.9" y1="167.8" x2="528.9" y2="175.0" stroke="#000" stroke-width="1.35"/>
<line x1="580.2" y1="167.8" x2="580.2" y2="172.9" stroke="#000" stroke-width="1.35"/>
<line x1="610.2" y1="167.8" x2="610.2" y2="172.9" stroke="#000" stroke-width="1.35"/>
<line x1="631.5" y1="167.8" x2="631.5" y2="172.9" stroke="#000" stroke-width="1.35"/>
<line x1="648.0" y1="167.8" x2="648.0" y2="175.0" stroke="#000" stroke-width="1.35"/>
<line x1="661.5" y1="167.8" x2="661.5" y2="172.9" stroke="#000" stroke-width="1.35"/>
<line x1="673.0" y1="167.8" x2="673.0" y2="172.9" stroke="#000" stroke-width="1.35"/>
<line x1="682.9" y1="167.8" x2="682.9" y2="172.9" stroke="#000" stroke-width="1.35"/>
<rect x="85.8" y="22.3" width="101.2" height="35.3" fill="#fff" stroke="#000" stroke-width="2.7"/><text x="94.1" y="46.0" font-size="22.4" textLength="85.2" lengthAdjust="spacing">5.3 [mm]</text>
<line x1="136.4" y1="64" x2="136.4" y2="102.3" stroke="#000" stroke-width="2.7"/><path d="M130.9 99.7L141.9 99.7L136.4 110.3Z" fill="#000" stroke="#000" stroke-width="1.1" stroke-linejoin="round"/>
<rect x="402.5" y="31.6" width="101.2" height="34.6" fill="#fff" stroke="#000" stroke-width="2.7"/><text x="410.8" y="54.9" font-size="22.4" textLength="85.2" lengthAdjust="spacing">5.3 [mm]</text>
<line x1="396" y1="49.4" x2="369.5" y2="49.4" stroke="#000" stroke-width="2.7"/><path d="M372.1 43.9L372.1 54.9L361.5 49.4Z" fill="#000" stroke="#000" stroke-width="1.1" stroke-linejoin="round"/>
<line x1="68.5" y1="305.6" x2="682.6" y2="305.6" stroke="#000" stroke-width="2.9" stroke-dasharray="10.95 4.66"/>
<line x1="353.2" y1="356.5" x2="353.2" y2="198.4" stroke="#000" stroke-width="3.0" stroke-dasharray="10.95 4.66"/>
<path d="M633.7 228.3L637.3 228.3L637.3 272L626.5 272L628.7 262L631.5 252L633.2 240Z" fill="#e6b822"/>
<path d="M286.4 287.1L287.9 287.3L289.4 287.6L290.9 287.8L292.4 288.1L293.9 288.3L295.4 288.5L296.9 288.8L298.4 289.0L299.9 289.3L301.5 289.6L303.0 289.9L304.5 290.2L306.0 290.5L307.6 290.8L309.1 291.2L310.7 291.7L312.2 292.1L313.8 292.6L315.3 293.1L316.8 293.7L318.3 294.2L319.8 294.8L321.3 295.4L322.8 296.0L324.3 296.5L325.8 297.0L327.2 297.5L328.7 297.9L330.1 298.4L331.6 298.7L333.1 299.1L334.5 299.5L336.0 299.8L337.5 300.2L339.0 300.5L340.5 300.8L342.0 301.1L343.5 301.5L345.0 301.8L346.5 302.2L348.0 302.6L349.5 302.9L351.0 303.3L352.5 303.7L354.0 304.1L355.6 304.6L357.1 305.0L358.6 305.4L360.1 305.9L361.6 306.2L363.0 306.5L364.3 306.7L365.7 306.8L367.1 306.9L368.6 307.1L370.1 307.2L371.6 307.3L373.1 307.4L374.5 307.4L376.0 307.5L377.5 307.5L379.0 307.5L380.5 307.5L382.0 307.5L383.5 307.5L384.9 307.5L386.4 307.5L387.9 307.4L389.4 307.4L390.9 307.3L392.4 307.2L393.9 307.1L395.4 307.0L396.9 306.9L398.4 306.8L399.9 306.7L401.4 306.6L402.9 306.6L404.4 306.6L405.9 306.6L407.4 306.5L408.9 306.5L410.4 306.5L411.9 306.5L413.4 306.4L414.9 306.3L416.4 306.3L417.9 306.2L419.4 306.1L420.9 306.1L422.4 306.0L423.9 306.0L425.4 305.9L426.9 305.9L428.4 305.8L429.9 305.7L431.4 305.6L432.9 305.5L434.4 305.4L435.9 305.3L437.4 305.3L438.9 305.2L440.4 305.3L441.9 305.3L443.4 305.3L444.9 305.3L446.4 305.3L447.9 305.3L449.4 305.2L450.9 305.1L452.4 305.0L453.9 304.9L455.4 304.8L456.9 304.8L458.4 304.7L459.9 304.6L461.4 304.6L462.9 304.5L464.4 304.4L465.9 304.3L467.4 304.2L468.9 304.1L470.4 304.0L471.9 303.9L473.4 303.9L474.9 303.8L476.4 303.9L477.9 303.9L479.4 303.9L480.9 303.9L482.4 303.9L483.9 303.8L485.4 303.7L486.9 303.5L488.4 303.4L489.9 303.3L491.4 303.1L492.9 303.0L494.4 303.0L495.9 302.9L497.4 302.8L498.9 302.7L500.4 302.7L501.9 302.6L503.4 302.4L504.9 302.3L506.4 302.2L507.9 302.1L509.4 302.1L510.9 302.0L512.4 301.9L513.9 301.8L515.4 301.6L516.9 301.5L518.4 301.4L519.9 301.3L521.4 301.1L522.9 301.0L524.4 300.9L525.9 300.8L527.3 300.7L528.8 300.6L530.3 300.5L531.8 300.3L533.3 300.2L534.8 300.1L536.3 299.9L537.8 299.8L539.3 299.6L540.7 299.5L542.2 299.4L543.7 299.2L545.2 299.0L546.6 298.8L548.1 298.6L549.6 298.3L551.1 298.1L552.5 297.9L554.0 297.6L555.5 297.5L557.0 297.3L558.6 297.2L560.1 297.1L561.6 297.1L563.1 297.0L564.6 296.9L566.1 296.7L567.6 296.5L569.0 296.2L570.5 295.9L571.9 295.6L573.3 295.2L574.7 294.9L576.1 294.6L577.5 294.3L578.9 293.9L580.3 293.5L581.7 293.1L583.1 292.6L584.6 292.1L586.0 291.6L587.4 291.0L588.8 290.6L590.3 290.1L591.7 289.7L593.2 289.4L594.8 289.1L596.3 288.7L597.7 288.4L599.1 287.9L599.6 287.7L600.0 287.6L600.5 287.4L601.0 287.1L601.4 286.9L601.9 286.7L602.3 286.4L602.8 286.2L603.2 285.9L603.7 285.6L604.1 285.4L604.6 285.1L605.0 284.8L605.5 284.5L606.0 284.3L606.4 284.0L606.9 283.7L607.4 283.5L607.8 283.2L608.3 282.9L608.8 282.7L609.3 282.5L609.7 282.3L610.2 282.0L610.6 281.8L611.1 281.6L611.6 281.4L612.1 281.2L612.6 281.0L613.0 280.8L613.5 280.6L614.0 280.4L614.6 280.2L615.1 280.0L615.6 279.8L616.1 279.6L616.6 279.4L617.1 279.2L617.5 279.0L618.0 278.8L618.4 278.6L618.8 278.4L619.2 278.2L619.6 278.0L620.0 277.7L620.4 277.5L620.7 277.3L621.2 277.0L621.6 276.8L622.0 276.5L622.4 276.3L622.8 276.1L623.1 275.9L623.4 275.8L623.7 275.6L624.0 275.4L624.4 275.2L624.7 275.0L624.9 274.8L625.2 274.6L625.5 274.3L625.9 273.9L626.3 273.3L626.7 272.7L627.0 271.7L627.6 269.7L636.6 271.5L635.9 273.9L635.3 275.8L634.6 277.1L634.0 278.2L633.3 279.1L632.6 279.9L632.0 280.6L631.3 281.2L630.7 281.7L630.1 282.2L629.5 282.6L628.9 283.0L628.4 283.4L627.8 283.7L627.3 284.0L626.7 284.3L626.2 284.6L625.7 284.9L625.2 285.2L624.7 285.5L624.1 285.8L623.6 286.1L623.1 286.3L622.6 286.6L622.1 286.8L621.6 287.1L621.1 287.3L620.6 287.5L620.1 287.7L619.6 287.9L619.1 288.1L618.6 288.3L618.1 288.5L617.6 288.7L617.1 288.9L616.5 289.1L616.0 289.3L615.5 289.5L615.0 289.7L614.5 289.9L614.0 290.1L613.5 290.3L613.0 290.6L612.5 290.8L612.0 291.0L611.5 291.3L611.1 291.5L610.6 291.8L610.1 292.0L609.6 292.3L609.2 292.6L608.7 292.8L608.2 293.1L607.8 293.4L607.3 293.7L606.8 293.9L606.3 294.2L605.9 294.5L605.4 294.7L604.9 295.0L604.4 295.2L603.9 295.5L603.4 295.7L602.9 295.9L602.4 296.1L601.9 296.3L600.3 296.8L598.8 297.1L597.2 297.4L595.7 297.7L594.1 298.0L592.6 298.3L591.1 298.7L589.6 299.2L588.1 299.7L586.6 300.2L585.1 300.7L583.6 301.1L582.1 301.5L580.5 301.9L579.0 302.2L577.5 302.5L575.9 302.8L574.4 303.1L572.9 303.4L571.4 303.7L569.8 303.9L568.3 304.2L566.8 304.3L565.3 304.5L563.8 304.5L562.3 304.6L560.8 304.6L559.3 304.6L557.8 304.7L556.3 304.8L554.8 304.9L553.3 305.0L551.8 305.2L550.3 305.4L548.8 305.6L547.3 305.8L545.7 306.0L544.2 306.1L542.7 306.2L541.2 306.3L539.7 306.4L538.2 306.5L536.7 306.6L535.2 306.7L533.7 306.8L532.1 306.9L530.6 307.0L529.1 307.1L527.6 307.1L526.1 307.2L524.6 307.2L523.1 307.3L521.6 307.4L520.1 307.5L518.6 307.6L517.1 307.6L515.6 307.7L514.1 307.8L512.6 307.8L511.1 307.9L509.6 307.9L508.1 308.0L506.6 308.0L505.1 308.1L503.6 308.1L502.1 308.2L500.6 308.3L499.1 308.3L497.6 308.4L496.1 308.5L494.6 308.5L493.1 308.6L491.6 308.7L490.1 308.8L488.6 309.0L487.1 309.1L485.6 309.2L484.1 309.3L482.6 309.4L481.1 309.5L479.6 309.5L478.1 309.4L476.6 309.4L475.1 309.4L473.6 309.4L472.1 309.4L470.6 309.5L469.1 309.6L467.6 309.7L466.1 309.8L464.6 309.9L463.1 310.0L461.6 310.0L460.1 310.1L458.6 310.2L457.1 310.2L455.7 310.3L454.2 310.4L452.7 310.5L451.2 310.6L449.7 310.6L448.2 310.7L446.7 310.7L445.2 310.7L443.7 310.7L442.2 310.7L440.6 310.6L439.1 310.6L437.6 310.6L436.1 310.7L434.6 310.8L433.1 310.9L431.6 311.0L430.1 311.1L428.6 311.2L427.1 311.2L425.6 311.3L424.1 311.4L422.6 311.4L421.1 311.4L419.6 311.5L418.1 311.6L416.6 311.6L415.1 311.7L413.6 311.8L412.1 311.8L410.6 311.9L409.1 311.9L407.6 311.9L406.1 311.9L404.6 311.9L403.1 311.9L401.6 312.0L400.1 312.0L398.6 312.1L397.1 312.2L395.6 312.3L394.1 312.5L392.6 312.6L391.1 312.6L389.6 312.7L388.1 312.7L386.6 312.8L385.1 312.8L383.6 312.8L382.1 312.8L380.5 312.8L379.0 312.8L377.5 312.8L376.0 312.8L374.4 312.7L372.9 312.7L371.4 312.6L369.8 312.5L368.3 312.3L366.8 312.2L365.3 312.1L363.6 311.9L361.9 311.7L360.3 311.3L358.7 310.9L357.1 310.5L355.6 310.0L354.1 309.6L352.7 309.2L351.3 308.8L349.8 308.4L348.3 308.1L346.9 307.7L345.4 307.3L343.9 307.0L342.4 306.6L340.9 306.3L339.4 305.9L337.9 305.6L336.4 305.3L334.9 304.9L333.4 304.6L331.8 304.2L330.3 303.8L328.7 303.4L327.2 302.9L325.6 302.5L324.1 301.9L322.6 301.4L321.0 300.9L319.5 300.3L318.0 299.7L316.6 299.1L315.1 298.5L313.6 297.9L312.2 297.4L310.8 296.8L309.3 296.4L307.9 295.9L306.5 295.5L305.0 295.1L303.6 294.8L302.1 294.4L300.6 294.1L299.1 293.7L297.7 293.4L296.2 293.1L294.7 292.8L293.2 292.5L291.7 292.2L290.2 291.9L288.8 291.6L287.3 291.3L285.8 291.0Z" fill="url(#g0)"/>
<defs><path id="mb0" d="M152.0 281.1h4.7M154.4 278.8v4.7M185.4 282.0h4.7M187.7 279.7v4.7M208.3 284.2h4.7M210.7 281.8v4.7M225.8 282.4h4.7M228.2 280.0v4.7M239.9 284.7h4.7M242.3 282.3v4.7M251.8 285.9h4.7M254.1 283.6v4.7M262.1 285.1h4.7M264.5 282.7v4.7M270.8 288.6h4.7M273.2 286.2v4.7M279.1 287.8h4.7M281.5 285.5v4.7M286.3 289.0h4.7M288.7 286.6v4.7M292.7 291.3h4.7M295.1 289.0v4.7M298.8 291.8h4.7M301.2 289.5v4.7M304.7 292.0h4.7M307.0 289.6v4.7M309.7 294.3h4.7M312.1 291.9v4.7M314.3 296.8h4.7M316.6 294.4v4.7M319.0 297.9h4.7M321.4 295.5v4.7M323.3 299.5h4.7M325.7 297.1v4.7M327.3 300.9h4.7M329.6 298.6v4.7M331.2 301.9h4.7M333.5 299.6v4.7M334.9 302.4h4.7M337.2 300.1v4.7M338.4 303.1h4.7M340.7 300.7v4.7M341.6 304.5h4.7M343.9 302.1v4.7M344.7 305.6h4.7M347.0 303.3v4.7M348.1 304.6h4.7M350.5 302.2v4.7M350.7 306.8h4.7M353.0 304.4v4.7M353.4 307.8h4.7M355.7 305.5v4.7M356.4 307.7h4.7M358.7 305.4v4.7M358.7 309.5h4.7M361.1 307.2v4.7M361.6 308.6h4.7M363.9 306.2v4.7M363.9 310.0h4.7M366.3 307.6v4.7M366.3 310.5h4.7M368.6 308.2v4.7M368.6 310.7h4.7M370.9 308.3v4.7M370.9 308.7h4.7M373.2 306.4v4.7M373.0 310.1h4.7M375.4 307.8v4.7M375.1 309.7h4.7M377.5 307.3v4.7M377.2 310.3h4.7M379.5 308.0v4.7M379.2 310.8h4.7M381.5 308.5v4.7M381.1 310.3h4.7M383.5 308.0v4.7M383.0 310.9h4.7M385.4 308.6v4.7M384.8 309.3h4.7M387.2 306.9v4.7M386.6 309.6h4.7M389.0 307.3v4.7M388.4 309.7h4.7M390.7 307.4v4.7M390.1 310.2h4.7M392.5 307.9v4.7M391.8 310.4h4.7M394.1 308.0v4.7M393.4 309.2h4.7M395.7 306.9v4.7M395.0 309.1h4.7M397.3 306.7v4.7M396.6 309.9h4.7M398.9 307.5v4.7M398.1 308.7h4.7M400.4 306.3v4.7M399.6 309.6h4.7M402.0 307.2v4.7M401.1 308.8h4.7M403.4 306.5v4.7M402.5 309.2h4.7M404.9 306.8v4.7M404.0 310.3h4.7M406.3 307.9v4.7M405.3 309.1h4.7M407.7 306.7v4.7M406.7 309.2h4.7M409.1 306.9v4.7M408.0 308.8h4.7M410.4 306.4v4.7M409.4 309.4h4.7M411.7 307.1v4.7M410.7 309.9h4.7M413.0 307.5v4.7M411.9 309.4h4.7M414.3 307.0v4.7M413.2 308.3h4.7M415.5 306.0v4.7M414.4 309.1h4.7M416.8 306.8v4.7M415.7 309.7h4.7M418.0 307.3v4.7M416.8 308.4h4.7M419.1 306.0v4.7M418.0 308.7h4.7M420.3 306.4v4.7M419.1 308.3h4.7M421.5 305.9v4.7M420.3 308.4h4.7M422.6 306.1v4.7M421.4 308.2h4.7M423.7 305.8v4.7M422.5 308.0h4.7M424.8 305.6v4.7M423.6 308.9h4.7M425.9 306.5v4.7M424.6 308.5h4.7M427.0 306.2v4.7M425.6 307.4h4.7M428.0 305.1v4.7M426.7 307.9h4.7M429.1 305.6v4.7M427.7 308.0h4.7M430.1 305.7v4.7M428.7 307.7h4.7M431.1 305.4v4.7M429.8 308.3h4.7M432.1 305.9v4.7M430.7 308.1h4.7M433.1 305.7v4.7M431.7 308.3h4.7M434.1 305.9v4.7M432.6 307.4h4.7M435.0 305.0v4.7M433.6 307.6h4.7M436.0 305.3v4.7M434.5 307.7h4.7M436.9 305.4v4.7M435.5 307.8h4.7M437.8 305.4v4.7M436.4 307.8h4.7M438.7 305.4v4.7M437.3 307.6h4.7M439.6 305.2v4.7M438.2 307.9h4.7M440.5 305.5v4.7M439.1 308.8h4.7M441.5 306.4v4.7M439.9 307.6h4.7M442.3 305.3v4.7M440.8 307.2h4.7M443.1 304.8v4.7M441.7 308.2h4.7M444.0 305.8v4.7M442.5 307.6h4.7M444.8 305.2v4.7M443.3 308.4h4.7M445.7 306.1v4.7M444.2 308.5h4.7M446.5 306.2v4.7M445.0 308.8h4.7M447.3 306.5v4.7M445.8 308.1h4.7M448.1 305.7v4.7M446.5 307.1h4.7M448.9 304.8v4.7M447.4 308.7h4.7M449.7 306.4v4.7M448.1 308.3h4.7M450.5 306.0v4.7M448.9 308.5h4.7M451.3 306.1v4.7M449.6 307.8h4.7M452.0 305.5v4.7M450.4 307.6h4.7M452.7 305.2v4.7M451.1 307.7h4.7M453.5 305.4v4.7M451.8 306.7h4.7M454.2 304.4v4.7M452.6 308.1h4.7M455.0 305.7v4.7M453.3 307.3h4.7M455.7 304.9v4.7M454.0 307.2h4.7M456.4 304.9v4.7M454.8 307.7h4.7M457.1 305.3v4.7M455.4 307.0h4.7M457.8 304.7v4.7M456.9 307.8h4.7M459.2 305.5v4.7M458.2 307.0h4.7M460.5 304.7v4.7M459.6 308.5h4.7M461.9 306.1v4.7M460.9 307.9h4.7M463.2 305.5v4.7M462.2 307.5h4.7M464.5 305.1v4.7M463.4 307.2h4.7M465.8 304.9v4.7M464.7 307.0h4.7M467.0 304.7v4.7M465.9 306.6h4.7M468.2 304.3v4.7M467.1 305.8h4.7M469.4 303.5v4.7M468.3 306.5h4.7M470.6 304.1v4.7M469.4 306.3h4.7M471.8 303.9v4.7M470.6 306.4h4.7M472.9 304.0v4.7M471.7 306.7h4.7M474.1 304.3v4.7M472.8 305.7h4.7M475.2 303.3v4.7M473.9 306.0h4.7M476.3 303.7v4.7M475.0 306.3h4.7M477.4 304.0v4.7M476.1 306.4h4.7M478.4 304.1v4.7M477.2 307.2h4.7M479.5 304.8v4.7M478.2 308.0h4.7M480.6 305.7v4.7M479.2 306.6h4.7M481.6 304.3v4.7M480.2 307.0h4.7M482.6 304.6v4.7M481.2 306.6h4.7M483.6 304.2v4.7M482.2 306.7h4.7M484.5 304.3v4.7M483.2 307.3h4.7M485.5 305.0v4.7M484.1 306.5h4.7M486.5 304.1v4.7M485.1 306.6h4.7M487.4 304.2v4.7M486.0 306.2h4.7M488.3 303.9v4.7M486.9 305.8h4.7M489.3 303.5v4.7M487.8 306.6h4.7M490.2 304.2v4.7M488.7 305.9h4.7M491.1 303.5v4.7M489.6 306.7h4.7M492.0 304.3v4.7M490.5 305.3h4.7M492.8 302.9v4.7M491.4 306.0h4.7M493.7 303.7v4.7M492.2 306.6h4.7M494.6 304.3v4.7M493.0 305.4h4.7M495.4 303.0v4.7M493.9 305.8h4.7M496.2 303.5v4.7M494.7 306.4h4.7M497.1 304.1v4.7M495.5 305.8h4.7M497.9 303.5v4.7M496.3 305.1h4.7M498.7 302.8v4.7M497.1 305.3h4.7M499.5 303.0v4.7M497.9 305.6h4.7M500.3 303.3v4.7M498.7 305.1h4.7M501.1 302.8v4.7M499.5 305.2h4.7M501.8 302.8v4.7M500.3 305.4h4.7M502.6 303.1v4.7M501.0 304.7h4.7M503.4 302.3v4.7M501.8 306.2h4.7M504.2 303.8v4.7M502.5 304.9h4.7M504.9 302.6v4.7M503.3 305.2h4.7M505.6 302.8v4.7M504.0 305.2h4.7M506.3 302.9v4.7M504.7 305.9h4.7M507.1 303.5v4.7M505.4 304.9h4.7M507.8 302.5v4.7M506.2 306.1h4.7M508.5 303.8v4.7M506.9 306.0h4.7M509.2 303.7v4.7M507.9 305.4h4.7M510.3 303.0v4.7M508.9 304.2h4.7M511.2 301.8v4.7M509.9 304.2h4.7M512.3 301.8v4.7M510.9 304.7h4.7M513.3 302.3v4.7M511.9 304.9h4.7M514.3 302.6v4.7M512.9 305.1h4.7M515.2 302.7v4.7M513.9 305.3h4.7M516.2 303.0v4.7M514.8 304.8h4.7M517.1 302.5v4.7M515.7 304.5h4.7M518.1 302.2v4.7M516.7 304.7h4.7M519.0 302.3v4.7M517.5 303.3h4.7M519.9 300.9v4.7M518.5 305.0h4.7M520.8 302.6v4.7M519.3 303.4h4.7M521.7 301.1v4.7M520.2 303.1h4.7M522.5 300.8v4.7M521.1 303.8h4.7M523.4 301.4v4.7M521.9 303.9h4.7M524.3 301.5v4.7M522.8 303.4h4.7M525.1 301.0v4.7M523.6 303.9h4.7M526.0 301.5v4.7M524.5 304.0h4.7M526.8 301.7v4.7M525.3 304.3h4.7M527.7 301.9v4.7M526.1 304.1h4.7M528.5 301.7v4.7M526.9 303.5h4.7M529.3 301.2v4.7M527.7 303.8h4.7M530.1 301.5v4.7M528.5 304.4h4.7M530.9 302.1v4.7M529.3 303.5h4.7M531.6 301.2v4.7M530.0 303.5h4.7M532.4 301.2v4.7M530.7 302.3h4.7M533.1 300.0v4.7M531.6 303.7h4.7M533.9 301.3v4.7M532.4 304.6h4.7M534.7 302.2v4.7M533.1 303.8h4.7M535.4 301.4v4.7M533.8 303.2h4.7M536.1 300.8v4.7M534.5 304.0h4.7M536.9 301.6v4.7M535.3 303.9h4.7M537.6 301.6v4.7M536.0 303.9h4.7M538.3 301.6v4.7M536.6 302.4h4.7M538.9 300.1v4.7M537.5 302.3h4.7M539.9 300.0v4.7M538.5 303.3h4.7M540.8 301.0v4.7M539.4 303.2h4.7M541.7 300.8v4.7M540.3 303.0h4.7M542.6 300.7v4.7M541.1 301.9h4.7M543.4 299.5v4.7M542.1 303.1h4.7M544.4 300.7v4.7M543.0 303.6h4.7M545.3 301.3v4.7M543.8 303.1h4.7M546.1 300.8v4.7M544.7 303.8h4.7M547.1 301.5v4.7M545.4 302.5h4.7M547.8 300.1v4.7M546.2 302.2h4.7M548.6 299.8v4.7M547.1 303.0h4.7M549.5 300.7v4.7M547.9 302.5h4.7M550.2 300.1v4.7M548.5 300.4h4.7M550.8 298.1v4.7M549.3 300.7h4.7M551.7 298.4v4.7M550.2 301.7h4.7M552.6 299.3v4.7M550.9 301.1h4.7M553.3 298.8v4.7M551.8 302.4h4.7M554.2 300.0v4.7M552.6 302.2h4.7M554.9 299.8v4.7M553.3 301.9h4.7M555.7 299.6v4.7M554.0 300.9h4.7M556.3 298.5v4.7M554.7 300.9h4.7M557.1 298.6v4.7M555.5 301.5h4.7M557.8 299.1v4.7M556.2 300.7h4.7M558.5 298.4v4.7M556.9 301.3h4.7M559.3 299.0v4.7M557.6 301.1h4.7M560.0 298.7v4.7M558.4 301.3h4.7M560.7 299.0v4.7M559.2 300.9h4.7M561.5 298.6v4.7M560.0 300.4h4.7M562.4 298.0v4.7M560.7 299.0h4.7M563.1 296.7v4.7M561.7 299.9h4.7M564.0 297.6v4.7M562.5 299.8h4.7M564.8 297.5v4.7M563.4 301.0h4.7M565.8 298.7v4.7M564.1 299.6h4.7M566.5 297.3v4.7M565.0 300.1h4.7M567.3 297.7v4.7M565.8 300.6h4.7M568.2 298.2v4.7M566.6 300.6h4.7M568.9 298.2v4.7M567.4 300.7h4.7M569.7 298.3v4.7M568.1 300.2h4.7M570.5 297.8v4.7M568.9 300.7h4.7M571.3 298.3v4.7M569.5 299.2h4.7M571.9 296.9v4.7M570.4 300.2h4.7M572.7 297.8v4.7M570.9 298.4h4.7M573.3 296.1v4.7M571.7 298.9h4.7M574.1 296.5v4.7M572.5 299.2h4.7M574.8 296.9v4.7M573.2 299.2h4.7M575.6 296.9v4.7M573.8 298.5h4.7M576.2 296.2v4.7M574.5 298.1h4.7M576.8 295.8v4.7M575.1 297.6h4.7M577.4 295.3v4.7M575.6 296.8h4.7M578.0 294.5v4.7M576.5 296.9h4.7M578.8 294.5v4.7M577.7 298.9h4.7M580.0 296.5v4.7M578.0 296.6h4.7M580.4 294.2v4.7M578.8 296.5h4.7M581.2 294.1v4.7M579.6 296.2h4.7M581.9 293.9v4.7M580.5 296.9h4.7M582.9 294.5v4.7M581.3 296.6h4.7M583.6 294.3v4.7M581.9 296.2h4.7M584.3 293.8v4.7M582.6 295.5h4.7M584.9 293.1v4.7M583.5 295.9h4.7M585.8 293.6v4.7M584.0 294.9h4.7M586.3 292.6v4.7M585.0 295.7h4.7M587.3 293.4v4.7M585.8 296.2h4.7M588.2 293.9v4.7M586.1 294.5h4.7M588.5 292.1v4.7M587.0 295.0h4.7M589.4 292.6v4.7M587.6 294.3h4.7M589.9 291.9v4.7M588.3 294.2h4.7M590.6 291.8v4.7M588.8 293.4h4.7M591.2 291.0v4.7M589.7 294.1h4.7M592.1 291.7v4.7M590.4 293.9h4.7M592.8 291.5v4.7M591.4 294.5h4.7M593.8 292.1v4.7M592.4 295.0h4.7M594.8 292.7v4.7M592.6 292.7h4.7M594.9 290.4v4.7M593.8 293.9h4.7M596.1 291.6v4.7M594.2 292.6h4.7M596.5 290.2v4.7M595.0 292.6h4.7M597.3 290.2v4.7M595.6 292.0h4.7M598.0 289.7v4.7M596.6 292.9h4.7M599.0 290.5v4.7M597.5 293.2h4.7M599.9 290.8v4.7M597.9 292.1h4.7M600.3 289.7v4.7M598.7 292.0h4.7M601.1 289.7v4.7M599.2 291.1h4.7M601.5 288.8v4.7M599.9 291.1h4.7M602.3 288.8v4.7M600.4 290.2h4.7M602.7 287.9v4.7M601.3 290.6h4.7M603.6 288.3v4.7M601.5 289.1h4.7M603.8 286.7v4.7M603.1 291.4h4.7M605.4 289.1v4.7M603.5 290.4h4.7M605.8 288.1v4.7M603.6 288.9h4.7M606.0 286.6v4.7M604.3 288.6h4.7M606.7 286.2v4.7M605.0 288.2h4.7M607.4 285.8v4.7M605.8 288.1h4.7M608.2 285.8v4.7M606.6 287.8h4.7M608.9 285.5v4.7M607.6 288.5h4.7M610.0 286.1v4.7M607.7 286.7h4.7M610.1 284.3v4.7M608.1 285.4h4.7M610.4 283.1v4.7M609.3 286.5h4.7M611.6 284.1v4.7M610.0 286.3h4.7M612.3 283.9v4.7M610.3 285.2h4.7M612.7 282.9v4.7M611.4 286.0h4.7M613.7 283.6v4.7M611.8 285.1h4.7M614.1 282.7v4.7M612.3 284.4h4.7M614.6 282.1v4.7M613.1 284.6h4.7M615.5 282.3v4.7M613.5 283.6h4.7M615.8 281.2v4.7M614.4 283.9h4.7M616.7 281.5v4.7M615.7 284.9h4.7M618.0 282.6v4.7M616.3 284.3h4.7M618.6 282.0v4.7M616.8 283.7h4.7M619.1 281.3v4.7M617.3 283.1h4.7M619.7 280.7v4.7M618.0 282.9h4.7M620.4 280.5v4.7M618.2 281.6h4.7M620.6 279.3v4.7M619.2 282.1h4.7M621.6 279.8v4.7M619.6 281.3h4.7M621.9 278.9v4.7M620.2 281.0h4.7M622.5 278.7v4.7M621.6 282.0h4.7M623.9 279.6v4.7M621.4 280.2h4.7M623.7 277.9v4.7M622.3 280.3h4.7M624.6 278.0v4.7M622.8 280.0h4.7M625.2 277.7v4.7M623.8 280.2h4.7M626.1 277.9v4.7M623.8 279.2h4.7M626.1 276.9v4.7M624.6 279.3h4.7M627.0 276.9v4.7M625.1 278.9h4.7M627.4 276.5v4.7M625.3 278.2h4.7M627.7 275.9v4.7M625.6 277.6h4.7M627.9 275.3v4.7M625.8 277.1h4.7M628.1 274.7v4.7M627.4 277.5h4.7M629.8 275.1v4.7M626.7 276.2h4.7M629.0 273.9v4.7M628.3 276.3h4.7M630.7 274.0v4.7M629.0 275.9h4.7M631.4 273.6v4.7M628.0 274.7h4.7M630.3 272.3v4.7M628.0 274.0h4.7M630.4 271.6v4.7M628.3 273.3h4.7M630.6 271.0v4.7M628.8 272.8h4.7M631.1 270.4v4.7M630.3 272.3h4.7M632.6 270.0v4.7M629.0 271.1h4.7M631.4 268.7v4.7"/></defs>
<use href="#mb0" stroke="#e6b822" stroke-width="4.2" fill="none" opacity="0.3"/>
<use href="#mb0" stroke="#e6b822" stroke-width="1.7" fill="none" opacity="0.62"/>
<path d="M286.2 287.9L287.7 288.1L289.2 288.4L290.7 288.6L292.2 288.9L293.7 289.1L295.2 289.4L296.8 289.7L298.3 290.0L299.8 290.2L301.3 290.4L302.8 290.7L304.4 290.9L305.9 291.1L307.4 291.4L309.0 291.7L310.5 292.1L312.1 292.6L313.6 293.1L315.2 293.6L316.7 294.1L318.2 294.6L319.7 295.2L321.2 295.7L322.7 296.2L324.2 296.8L325.7 297.3L327.1 297.8L328.6 298.3L330.0 298.7L331.5 299.1L333.0 299.5L334.5 299.9L335.9 300.2L337.4 300.5L339.0 300.7L340.5 301.0L342.0 301.3L343.5 301.5L345.0 301.9L346.5 302.2L348.0 302.6L349.5 302.9L351.0 303.3L352.5 303.7L354.0 304.1L355.6 304.6L357.1 305.1L358.6 305.5L360.1 306.0L361.5 306.4L362.9 306.7L364.3 307.0L365.6 307.2L367.1 307.3L368.6 307.4L370.1 307.5L371.6 307.6L373.1 307.6L374.5 307.6L376.0 307.6L377.5 307.5L379.0 307.5L380.5 307.4L382.0 307.4L383.5 307.4L384.9 307.4L386.4 307.5L387.9 307.5L389.4 307.5L390.9 307.5L392.4 307.4L393.9 307.3L395.4 307.3L396.9 307.2L398.4 307.1L399.9 307.1L401.4 307.0L402.9 306.9L404.4 306.9L405.9 306.8L407.4 306.7L408.9 306.6L410.4 306.5L411.9 306.4L413.4 306.2L414.9 306.1L416.4 306.1L417.9 306.0L419.4 306.0L420.9 306.0L422.4 306.0L423.9 306.0L425.4 306.1L426.9 306.0L428.4 306.0L429.9 305.9L431.4 305.8L432.9 305.7L434.4 305.6L435.9 305.6L437.4 305.5L438.9 305.4L440.4 305.4L441.9 305.3L443.4 305.3L444.9 305.2L446.4 305.1L447.9 305.0L449.4 304.9L450.9 304.8L452.4 304.8L453.9 304.7L455.4 304.8L456.9 304.8L458.4 304.8L459.9 304.8L461.4 304.8L462.9 304.8L464.4 304.7L465.9 304.6L467.4 304.5L468.9 304.3L470.4 304.2L471.9 304.1L473.4 304.0L474.9 303.9L476.4 303.9L477.9 303.8L479.4 303.8L480.9 303.7L482.4 303.6L483.9 303.5L485.4 303.4L486.9 303.3L488.4 303.3L489.9 303.2L491.4 303.2L492.9 303.2L494.4 303.1L495.9 303.1L497.4 303.0L498.9 303.0L500.4 302.9L501.9 302.7L503.4 302.6L504.9 302.4L506.4 302.3L507.9 302.2L509.4 302.1L510.9 302.0L512.4 301.9L513.9 301.8L515.4 301.7L516.9 301.7L518.4 301.5L519.9 301.4L521.4 301.3L522.9 301.2L524.4 301.1L525.9 301.0L527.4 300.9L528.8 300.7L530.3 300.6L531.8 300.4L533.3 300.3L534.8 300.2L536.3 300.0L537.8 299.9L539.3 299.8L540.8 299.7L542.2 299.6L543.7 299.5L545.2 299.3L546.7 299.1L548.1 298.9L549.6 298.7L551.1 298.5L552.6 298.3L554.1 298.0L555.6 297.8L557.1 297.6L558.6 297.4L560.1 297.3L561.6 297.1L563.1 296.9L564.6 296.7L566.1 296.4L567.5 296.2L569.0 296.0L570.4 295.8L571.9 295.6L573.4 295.4L574.8 295.3L576.2 295.1L577.6 294.9L579.1 294.6L580.5 294.3L581.9 293.8L583.3 293.3L584.7 292.8L586.1 292.2L587.5 291.6L588.9 291.0L590.4 290.5L591.8 290.0L593.3 289.5L594.8 289.0L596.2 288.6L597.6 288.1L599.0 287.6L599.5 287.4L599.9 287.2L600.4 287.0L600.8 286.8L601.3 286.6L601.8 286.4L602.2 286.2L602.7 286.0L603.2 285.8L603.7 285.6L604.2 285.4L604.6 285.3L605.1 285.1L605.6 284.9L606.1 284.7L606.6 284.5L607.1 284.4L607.7 284.2L608.2 284.0L608.7 283.9L609.2 283.7L609.7 283.6L610.2 283.4L610.7 283.3L611.2 283.1L611.7 283.0L612.2 282.8L612.7 282.6L613.1 282.4L613.6 282.2L614.1 282.0L614.6 281.8L615.1 281.6L615.6 281.3L616.1 281.1L616.6 280.8L617.1 280.6L617.5 280.3L618.0 280.0L618.4 279.8L618.8 279.5L619.2 279.2L619.6 278.9L619.9 278.6L620.3 278.4L620.7 278.1L621.0 277.8L621.4 277.5L621.8 277.1L622.2 276.9L622.6 276.6L622.9 276.3L623.2 276.1L623.5 275.9L623.8 275.7L624.1 275.4L624.3 275.2L624.6 275.0L624.8 274.8L625.1 274.6L625.3 274.2L625.7 273.8L626.0 273.1L626.3 272.6L626.7 271.6L627.2 269.6L636.2 271.4L635.6 273.9L635.0 275.7L634.3 277.0L633.7 278.1L633.1 279.0L632.5 279.9L631.9 280.6L631.3 281.2L630.7 281.7L630.1 282.2L629.6 282.7L629.0 283.1L628.5 283.5L627.9 283.9L627.4 284.3L626.9 284.6L626.4 285.0L625.9 285.3L625.4 285.7L625.0 286.1L624.5 286.4L624.0 286.8L623.5 287.1L623.0 287.4L622.5 287.7L622.0 288.0L621.5 288.3L621.0 288.6L620.6 288.9L620.1 289.1L619.6 289.4L619.1 289.6L618.6 289.9L618.1 290.1L617.6 290.3L617.1 290.5L616.6 290.7L616.1 290.9L615.6 291.1L615.1 291.3L614.5 291.4L614.0 291.6L613.5 291.8L613.0 291.9L612.4 292.1L611.9 292.2L611.4 292.4L610.9 292.5L610.4 292.7L609.9 292.8L609.3 293.0L608.8 293.2L608.3 293.4L607.8 293.5L607.3 293.7L606.8 293.9L606.3 294.1L605.8 294.3L605.3 294.5L604.8 294.7L604.3 294.9L603.8 295.1L603.3 295.3L602.8 295.5L602.3 295.7L601.8 295.9L600.3 296.5L598.7 296.9L597.2 297.4L595.7 297.8L594.2 298.2L592.7 298.7L591.2 299.2L589.7 299.8L588.2 300.3L586.7 300.9L585.3 301.4L583.7 301.9L582.2 302.3L580.7 302.6L579.1 302.8L577.5 303.0L576.0 303.2L574.4 303.3L572.9 303.4L571.3 303.6L569.8 303.7L568.3 303.9L566.8 304.1L565.3 304.3L563.8 304.4L562.3 304.6L560.8 304.7L559.3 304.8L557.8 305.0L556.3 305.1L554.8 305.3L553.3 305.5L551.8 305.6L550.3 305.8L548.8 306.0L547.3 306.1L545.8 306.3L544.3 306.4L542.7 306.5L541.2 306.5L539.7 306.6L538.2 306.6L536.7 306.7L535.2 306.8L533.7 306.9L532.2 307.0L530.6 307.1L529.1 307.2L527.6 307.3L526.1 307.4L524.6 307.4L523.1 307.5L521.6 307.6L520.1 307.6L518.6 307.7L517.1 307.8L515.6 307.8L514.1 307.9L512.6 307.9L511.1 307.9L509.6 308.0L508.1 308.0L506.6 308.1L505.1 308.2L503.6 308.3L502.1 308.4L500.6 308.5L499.1 308.6L497.6 308.6L496.1 308.7L494.6 308.7L493.1 308.7L491.6 308.7L490.1 308.8L488.6 308.8L487.1 308.9L485.6 308.9L484.1 309.0L482.6 309.1L481.1 309.2L479.6 309.3L478.1 309.3L476.6 309.4L475.1 309.4L473.6 309.5L472.1 309.6L470.6 309.7L469.1 309.8L467.6 310.0L466.1 310.1L464.6 310.2L463.1 310.3L461.6 310.3L460.1 310.3L458.6 310.3L457.1 310.2L455.6 310.2L454.1 310.2L452.7 310.2L451.2 310.3L449.7 310.3L448.2 310.4L446.7 310.5L445.2 310.6L443.7 310.7L442.2 310.7L440.7 310.8L439.2 310.8L437.6 310.9L436.1 310.9L434.6 311.0L433.1 311.1L431.6 311.2L430.1 311.3L428.6 311.4L427.1 311.4L425.6 311.4L424.1 311.4L422.6 311.4L421.1 311.4L419.6 311.4L418.1 311.4L416.6 311.4L415.1 311.5L413.6 311.6L412.1 311.7L410.6 311.8L409.1 312.0L407.6 312.1L406.1 312.1L404.6 312.2L403.1 312.3L401.6 312.3L400.1 312.4L398.6 312.4L397.1 312.5L395.6 312.6L394.1 312.7L392.6 312.7L391.1 312.8L389.6 312.8L388.1 312.8L386.6 312.8L385.1 312.8L383.6 312.7L382.1 312.7L380.5 312.7L379.0 312.8L377.5 312.8L376.0 312.8L374.4 312.9L372.9 312.9L371.4 312.9L369.8 312.8L368.3 312.7L366.8 312.6L365.3 312.4L363.6 312.2L361.9 311.9L360.2 311.5L358.6 311.1L357.1 310.6L355.6 310.1L354.1 309.6L352.7 309.2L351.3 308.8L349.8 308.4L348.3 308.1L346.9 307.7L345.4 307.3L343.9 307.0L342.3 306.7L340.8 306.4L339.3 306.1L337.8 305.8L336.3 305.6L334.8 305.3L333.3 304.9L331.7 304.6L330.2 304.2L328.7 303.7L327.1 303.3L325.5 302.7L324.0 302.2L322.5 301.7L320.9 301.1L319.4 300.6L317.9 300.0L316.4 299.5L315.0 298.9L313.5 298.4L312.1 297.8L310.6 297.3L309.2 296.8L307.8 296.4L306.3 296.1L304.9 295.8L303.4 295.5L301.9 295.2L300.4 294.9L299.0 294.6L297.5 294.3L296.0 294.0L294.5 293.7L293.1 293.4L291.6 293.0L290.1 292.7L288.6 292.4L287.2 292.2L285.7 291.9Z" fill="url(#g1)"/>
<defs><path id="mb1" d="M115.2 282.6h4.7M117.6 280.3v4.7M163.1 283.2h4.7M165.5 280.9v4.7M192.0 284.1h4.7M194.3 281.7v4.7M212.7 285.4h4.7M215.0 283.0v4.7M228.8 287.0h4.7M231.2 284.7v4.7M242.1 286.1h4.7M244.4 283.8v4.7M253.3 286.4h4.7M255.7 284.0v4.7M263.0 287.3h4.7M265.4 285.0v4.7M271.4 290.6h4.7M273.7 288.2v4.7M279.2 290.6h4.7M281.6 288.2v4.7M286.3 291.0h4.7M288.6 288.7v4.7M292.8 291.4h4.7M295.1 289.0v4.7M298.6 292.6h4.7M300.9 290.2v4.7M304.0 293.6h4.7M306.4 291.2v4.7M309.1 294.9h4.7M311.4 292.6v4.7M313.7 296.9h4.7M316.0 294.5v4.7M318.4 297.9h4.7M320.7 295.5v4.7M322.2 300.7h4.7M324.5 298.3v4.7M326.6 300.6h4.7M329.0 298.2v4.7M330.2 302.4h4.7M332.5 300.1v4.7M333.8 303.3h4.7M336.1 300.9v4.7M337.2 304.0h4.7M339.6 301.6v4.7M340.5 304.8h4.7M342.8 302.4v4.7M343.7 305.0h4.7M346.1 302.6v4.7M346.8 305.7h4.7M349.1 303.3v4.7M349.5 307.0h4.7M351.8 304.7v4.7M352.2 307.7h4.7M354.6 305.4v4.7M355.1 307.9h4.7M357.4 305.6v4.7M357.5 309.1h4.7M359.9 306.8v4.7M360.3 308.8h4.7M362.7 306.4v4.7M362.7 310.0h4.7M365.0 307.6v4.7M365.1 308.9h4.7M367.4 306.6v4.7M367.3 310.8h4.7M369.6 308.4v4.7M369.5 309.9h4.7M371.9 307.6v4.7M371.7 310.7h4.7M374.0 308.4v4.7M373.8 310.4h4.7M376.1 308.1v4.7M375.8 309.8h4.7M378.1 307.5v4.7M377.8 310.5h4.7M380.1 308.2v4.7M379.7 310.9h4.7M382.0 308.6v4.7M381.5 309.7h4.7M383.9 307.3v4.7M383.4 311.1h4.7M385.8 308.7v4.7M385.2 310.4h4.7M387.5 308.0v4.7M386.9 309.7h4.7M389.2 307.4v4.7M388.6 310.0h4.7M391.0 307.7v4.7M390.3 310.3h4.7M392.6 307.9v4.7M391.9 310.4h4.7M394.3 308.0v4.7M393.5 309.5h4.7M395.8 307.2v4.7M395.0 309.7h4.7M397.4 307.3v4.7M396.6 310.0h4.7M398.9 307.7v4.7M398.1 309.9h4.7M400.4 307.5v4.7M399.6 310.7h4.7M401.9 308.3v4.7M401.0 310.0h4.7M403.3 307.7v4.7M402.4 310.0h4.7M404.7 307.7v4.7M403.7 309.0h4.7M406.1 306.7v4.7M405.1 309.0h4.7M407.4 306.6v4.7M406.4 308.8h4.7M408.8 306.4v4.7M407.7 309.2h4.7M410.1 306.8v4.7M409.0 309.4h4.7M411.4 307.1v4.7M410.3 309.8h4.7M412.7 307.5v4.7M411.5 309.4h4.7M413.9 307.0v4.7M412.7 308.4h4.7M415.1 306.1v4.7M413.9 308.7h4.7M416.3 306.4v4.7M415.2 309.8h4.7M417.5 307.5v4.7M416.3 308.8h4.7M418.6 306.4v4.7M417.5 309.0h4.7M419.8 306.6v4.7M418.5 308.0h4.7M420.9 305.7v4.7M419.7 308.0h4.7M422.0 305.7v4.7M420.8 308.5h4.7M423.1 306.2v4.7M421.9 308.6h4.7M424.2 306.3v4.7M422.9 309.0h4.7M425.3 306.7v4.7M424.0 308.7h4.7M426.3 306.3v4.7M425.0 307.9h4.7M427.3 305.5v4.7M426.1 309.9h4.7M428.4 307.6v4.7M427.1 308.8h4.7M429.4 306.5v4.7M428.0 307.8h4.7M430.4 305.4v4.7M429.1 309.4h4.7M431.4 307.0v4.7M430.0 308.9h4.7M432.4 306.6v4.7M430.9 308.3h4.7M433.3 306.0v4.7M431.9 308.4h4.7M434.2 306.0v4.7M432.8 308.6h4.7M435.2 306.2v4.7M433.7 307.1h4.7M436.0 304.8v4.7M434.7 308.7h4.7M437.0 306.4v4.7M435.5 308.3h4.7M437.9 306.0v4.7M436.4 308.5h4.7M438.8 306.2v4.7M437.3 307.9h4.7M439.6 305.5v4.7M438.1 307.8h4.7M440.5 305.5v4.7M439.1 308.9h4.7M441.4 306.5v4.7M439.8 306.4h4.7M442.1 304.0v4.7M440.7 308.6h4.7M443.1 306.3v4.7M441.6 308.6h4.7M443.9 306.2v4.7M442.3 307.1h4.7M444.7 304.8v4.7M443.1 307.8h4.7M445.5 305.4v4.7M443.9 307.5h4.7M446.3 305.2v4.7M444.7 307.5h4.7M447.1 305.2v4.7M445.5 307.1h4.7M447.8 304.8v4.7M446.3 307.0h4.7M448.6 304.7v4.7M447.1 307.7h4.7M449.4 305.3v4.7M447.8 307.5h4.7M450.2 305.1v4.7M448.6 307.9h4.7M450.9 305.5v4.7M449.3 307.9h4.7M451.7 305.6v4.7M450.0 307.2h4.7M452.4 304.9v4.7M450.8 308.6h4.7M453.2 306.2v4.7M451.5 308.3h4.7M453.9 306.0v4.7M452.2 306.7h4.7M454.5 304.4v4.7M452.9 307.4h4.7M455.3 305.1v4.7M453.6 307.3h4.7M456.0 305.0v4.7M455.0 307.7h4.7M457.4 305.4v4.7M456.4 307.1h4.7M458.7 304.7v4.7M457.7 308.4h4.7M460.1 306.0v4.7M459.0 307.4h4.7M461.4 305.0v4.7M460.3 308.6h4.7M462.7 306.3v4.7M461.6 307.1h4.7M463.9 304.8v4.7M462.8 308.4h4.7M465.2 306.1v4.7M464.0 307.6h4.7M466.4 305.2v4.7M465.2 307.7h4.7M467.6 305.4v4.7M466.4 307.3h4.7M468.8 305.0v4.7M467.6 307.2h4.7M469.9 304.9v4.7M468.7 306.4h4.7M471.1 304.1v4.7M469.8 306.8h4.7M472.2 304.4v4.7M470.9 306.4h4.7M473.3 304.1v4.7M472.1 306.6h4.7M474.4 304.3v4.7M473.1 306.5h4.7M475.5 304.2v4.7M474.2 307.0h4.7M476.6 304.7v4.7M475.3 306.8h4.7M477.6 304.4v4.7M476.3 306.4h4.7M478.6 304.1v4.7M477.3 305.7h4.7M479.6 303.3v4.7M478.3 307.0h4.7M480.7 304.6v4.7M479.3 306.1h4.7M481.6 303.7v4.7M480.3 306.2h4.7M482.6 303.8v4.7M481.3 306.5h4.7M483.6 304.2v4.7M482.2 306.2h4.7M484.6 303.9v4.7M483.1 306.2h4.7M485.5 303.9v4.7M484.1 306.2h4.7M486.4 303.8v4.7M485.0 305.1h4.7M487.3 302.8v4.7M485.9 306.4h4.7M488.3 304.1v4.7M486.8 305.9h4.7M489.1 303.6v4.7M487.7 306.4h4.7M490.0 304.1v4.7M488.6 306.0h4.7M490.9 303.7v4.7M489.4 305.8h4.7M491.8 303.4v4.7M490.3 306.7h4.7M492.7 304.4v4.7M491.1 306.0h4.7M493.5 303.7v4.7M492.0 306.5h4.7M494.3 304.1v4.7M492.8 306.3h4.7M495.2 303.9v4.7M493.6 306.3h4.7M496.0 304.0v4.7M494.4 306.4h4.7M496.8 304.1v4.7M495.2 306.2h4.7M497.6 303.8v4.7M496.0 305.3h4.7M498.3 303.0v4.7M496.8 305.7h4.7M499.1 303.3v4.7M497.6 306.4h4.7M499.9 304.1v4.7M498.3 305.6h4.7M500.7 303.2v4.7M499.1 305.4h4.7M501.4 303.1v4.7M499.8 305.6h4.7M502.2 303.2v4.7M500.6 306.0h4.7M503.0 303.6v4.7M501.3 305.0h4.7M503.7 302.7v4.7M502.0 305.4h4.7M504.4 303.0v4.7M502.8 305.1h4.7M505.1 302.7v4.7M503.5 304.9h4.7M505.8 302.6v4.7M504.2 305.6h4.7M506.6 303.3v4.7M504.9 304.9h4.7M507.2 302.5v4.7M505.9 305.1h4.7M508.3 302.8v4.7M507.0 305.3h4.7M509.3 302.9v4.7M508.0 305.3h4.7M510.3 302.9v4.7M509.0 305.2h4.7M511.3 302.9v4.7M510.0 305.3h4.7M512.3 303.0v4.7M510.9 304.5h4.7M513.3 302.2v4.7M511.8 303.6h4.7M514.2 301.2v4.7M512.8 305.3h4.7M515.2 302.9v4.7M513.8 305.7h4.7M516.1 303.3v4.7M514.7 304.5h4.7M517.0 302.2v4.7M515.6 304.7h4.7M517.9 302.3v4.7M516.5 305.1h4.7M518.9 302.7v4.7M517.4 304.1h4.7M519.7 301.8v4.7M518.3 304.5h4.7M520.6 302.1v4.7M519.1 304.2h4.7M521.5 301.9v4.7M520.0 304.7h4.7M522.4 302.4v4.7M520.8 304.4h4.7M523.2 302.0v4.7M521.7 305.2h4.7M524.1 302.9v4.7M522.5 303.8h4.7M524.8 301.4v4.7M523.3 303.8h4.7M525.7 301.5v4.7M524.1 303.4h4.7M526.5 301.0v4.7M524.9 304.2h4.7M527.3 301.9v4.7M525.7 304.0h4.7M528.1 301.6v4.7M526.5 303.9h4.7M528.9 301.5v4.7M527.3 304.3h4.7M529.7 301.9v4.7M528.0 303.3h4.7M530.4 301.0v4.7M528.8 303.0h4.7M531.1 300.7v4.7M529.6 304.9h4.7M532.0 302.6v4.7M530.3 303.7h4.7M532.7 301.3v4.7M531.0 303.1h4.7M533.4 300.7v4.7M531.8 304.1h4.7M534.2 301.8v4.7M532.5 303.6h4.7M534.9 301.2v4.7M533.2 302.9h4.7M535.6 300.6v4.7M534.0 303.6h4.7M536.3 301.2v4.7M534.7 304.0h4.7M537.0 301.6v4.7M535.6 303.7h4.7M537.9 301.4v4.7M536.5 303.2h4.7M538.8 300.9v4.7M537.5 304.2h4.7M539.8 301.8v4.7M538.3 302.7h4.7M540.6 300.3v4.7M539.2 303.0h4.7M541.5 300.6v4.7M540.1 303.3h4.7M542.4 301.0v4.7M540.9 302.4h4.7M543.2 300.1v4.7M541.8 303.3h4.7M544.1 301.0v4.7M542.6 303.1h4.7M545.0 300.7v4.7M543.5 303.3h4.7M545.8 301.0v4.7M544.3 302.9h4.7M546.6 300.5v4.7M545.2 303.7h4.7M547.5 301.4v4.7M545.8 301.7h4.7M548.2 299.4v4.7M546.7 302.2h4.7M549.0 299.8v4.7M547.4 302.0h4.7M549.8 299.7v4.7M548.2 302.2h4.7M550.6 299.9v4.7M549.0 302.5h4.7M551.4 300.1v4.7M549.7 301.4h4.7M552.1 299.0v4.7M550.6 302.5h4.7M552.9 300.1v4.7M551.3 302.4h4.7M553.7 300.1v4.7M552.0 301.8h4.7M554.4 299.4v4.7M552.7 300.8h4.7M555.0 298.5v4.7M553.5 301.9h4.7M555.9 299.5v4.7M554.2 301.7h4.7M556.6 299.3v4.7M554.8 300.8h4.7M557.2 298.4v4.7M555.6 300.9h4.7M557.9 298.5v4.7M556.3 300.9h4.7M558.6 298.5v4.7M557.1 300.3h4.7M559.4 297.9v4.7M558.1 301.2h4.7M560.4 298.9v4.7M558.9 301.6h4.7M561.3 299.2v4.7M559.7 301.0h4.7M562.1 298.7v4.7M560.5 300.3h4.7M562.8 298.0v4.7M561.4 300.6h4.7M563.7 298.3v4.7M562.2 300.5h4.7M564.5 298.2v4.7M563.1 301.5h4.7M565.4 299.2v4.7M563.7 300.1h4.7M566.1 297.7v4.7M564.6 300.5h4.7M566.9 298.2v4.7M565.3 299.9h4.7M567.6 297.6v4.7M566.1 300.7h4.7M568.5 298.4v4.7M566.8 299.4h4.7M569.1 297.1v4.7M567.6 300.1h4.7M569.9 297.8v4.7M568.3 299.5h4.7M570.6 297.2v4.7M569.1 300.0h4.7M571.4 297.7v4.7M569.7 298.7h4.7M572.0 296.4v4.7M570.5 299.5h4.7M572.8 297.1v4.7M571.3 300.1h4.7M573.6 297.8v4.7M572.0 299.8h4.7M574.3 297.4v4.7M572.5 298.7h4.7M574.9 296.3v4.7M573.5 300.8h4.7M575.9 298.5v4.7M574.2 299.4h4.7M576.5 297.1v4.7M574.9 298.9h4.7M577.3 296.6v4.7M575.7 298.7h4.7M578.1 296.4v4.7M576.4 298.3h4.7M578.8 295.9v4.7M577.5 299.6h4.7M579.9 297.3v4.7M578.3 299.3h4.7M580.6 296.9v4.7M579.1 299.2h4.7M581.4 296.9v4.7M579.5 297.5h4.7M581.8 295.2v4.7M580.1 296.8h4.7M582.5 294.4v4.7M580.8 296.4h4.7M583.1 294.0v4.7M581.6 296.5h4.7M584.0 294.2v4.7M582.4 296.8h4.7M584.8 294.5v4.7M583.1 296.2h4.7M585.4 293.8v4.7M583.7 295.6h4.7M586.0 293.3v4.7M584.7 296.7h4.7M587.0 294.3v4.7M585.2 295.7h4.7M587.5 293.3v4.7M586.0 296.0h4.7M588.4 293.7v4.7M586.8 296.3h4.7M589.2 293.9v4.7M587.2 294.8h4.7M589.5 292.5v4.7M587.9 294.7h4.7M590.2 292.4v4.7M588.8 295.6h4.7M591.2 293.2v4.7M589.1 293.6h4.7M591.5 291.3v4.7M590.0 294.0h4.7M592.4 291.6v4.7M590.7 293.3h4.7M593.0 291.0v4.7M591.6 293.7h4.7M593.9 291.3v4.7M592.3 293.2h4.7M594.6 290.8v4.7M593.1 293.5h4.7M595.5 291.1v4.7M593.8 292.8h4.7M596.1 290.5v4.7M594.8 293.6h4.7M597.1 291.3v4.7M595.1 292.2h4.7M597.5 289.9v4.7M596.0 292.4h4.7M598.3 290.1v4.7M596.8 292.7h4.7M599.1 290.3v4.7M597.2 291.5h4.7M599.5 289.1v4.7M597.9 291.4h4.7M600.2 289.0v4.7M598.6 291.4h4.7M601.0 289.1v4.7M599.2 291.0h4.7M601.6 288.6v4.7M600.1 291.4h4.7M602.5 289.1v4.7M600.5 290.3h4.7M602.8 287.9v4.7M600.9 289.5h4.7M603.3 287.2v4.7M602.1 290.5h4.7M604.5 288.2v4.7M602.5 289.3h4.7M604.9 287.0v4.7M603.3 289.2h4.7M605.6 286.8v4.7M604.1 289.1h4.7M606.4 286.8v4.7M605.1 289.7h4.7M607.5 287.4v4.7M605.8 289.3h4.7M608.1 286.9v4.7M606.4 288.6h4.7M608.7 286.3v4.7M607.1 288.5h4.7M609.4 286.1v4.7M607.6 287.8h4.7M610.0 285.5v4.7M608.9 288.9h4.7M611.2 286.6v4.7M609.4 288.3h4.7M611.8 286.0v4.7M609.6 287.0h4.7M612.0 284.6v4.7M610.8 287.8h4.7M613.1 285.5v4.7M610.9 286.2h4.7M613.2 283.9v4.7M611.7 286.3h4.7M614.0 284.0v4.7M612.3 286.1h4.7M614.7 283.8v4.7M613.7 287.3h4.7M616.0 284.9v4.7M614.5 287.2h4.7M616.8 284.8v4.7M614.7 285.7h4.7M617.0 283.3v4.7M615.2 285.0h4.7M617.6 282.6v4.7M616.4 285.8h4.7M618.7 283.4v4.7M616.5 284.3h4.7M618.9 281.9v4.7M617.7 285.2h4.7M620.1 282.9v4.7M617.7 283.2h4.7M620.0 280.9v4.7M618.8 284.0h4.7M621.2 281.7v4.7M618.9 282.5h4.7M621.2 280.2v4.7M620.2 283.7h4.7M622.6 281.3v4.7M620.3 282.3h4.7M622.6 279.9v4.7M620.6 281.4h4.7M622.9 279.1v4.7M621.4 281.4h4.7M623.8 279.1v4.7M621.1 279.5h4.7M623.5 277.2v4.7M622.5 280.6h4.7M624.9 278.2v4.7M623.3 280.5h4.7M625.6 278.2v4.7M624.5 281.1h4.7M626.8 278.7v4.7M623.6 278.8h4.7M625.9 276.5v4.7M625.0 279.6h4.7M627.4 277.3v4.7M625.6 279.3h4.7M627.9 276.9v4.7M625.8 278.6h4.7M628.1 276.2v4.7M625.7 277.7h4.7M628.0 275.3v4.7M626.3 277.5h4.7M628.7 275.1v4.7M626.2 276.6h4.7M628.5 274.3v4.7M627.2 276.5h4.7M629.5 274.2v4.7M626.7 275.5h4.7M629.0 273.2v4.7M627.4 275.2h4.7M629.7 272.8v4.7M628.1 274.8h4.7M630.4 272.4v4.7M627.7 274.0h4.7M630.1 271.6v4.7M627.7 273.3h4.7M630.0 270.9v4.7M628.7 272.9h4.7M631.0 270.6v4.7M629.1 272.3h4.7M631.5 270.0v4.7M629.6 271.6h4.7M631.9 269.2v4.7"/></defs>
<use href="#mb1" stroke="#ee9a20" stroke-width="4.2" fill="none" opacity="0.3"/>
<use href="#mb1" stroke="#ee9a20" stroke-width="1.7" fill="none" opacity="0.62"/>
<path d="M631.6 257.3L637.3 257.3L637.3 274L626 274L628.5 267Z" fill="#d63a2c"/>
<path d="M286.2 288.0L287.7 288.2L289.2 288.3L290.8 288.5L292.3 288.7L293.8 288.9L295.3 289.1L296.8 289.3L298.3 289.6L299.8 289.8L301.4 290.1L302.9 290.4L304.4 290.7L305.9 291.0L307.5 291.3L309.0 291.7L310.6 292.1L312.1 292.5L313.6 293.1L315.2 293.6L316.7 294.1L318.2 294.7L319.7 295.2L321.2 295.8L322.7 296.3L324.2 296.8L325.7 297.3L327.2 297.7L328.6 298.1L330.1 298.5L331.6 298.9L333.0 299.3L334.5 299.6L336.0 300.0L337.5 300.3L339.0 300.7L340.5 301.0L342.0 301.3L343.5 301.6L345.0 302.0L346.5 302.3L348.0 302.7L349.5 303.0L351.0 303.4L352.5 303.8L354.0 304.1L355.6 304.6L357.1 305.0L358.7 305.4L360.1 305.8L361.6 306.2L363.0 306.4L364.3 306.6L365.7 306.7L367.2 306.8L368.6 307.0L370.1 307.1L371.6 307.2L373.1 307.3L374.5 307.4L376.0 307.4L377.5 307.5L379.0 307.5L380.5 307.4L382.0 307.4L383.5 307.4L384.9 307.4L386.4 307.4L387.9 307.3L389.4 307.3L390.9 307.3L392.4 307.2L393.9 307.1L395.4 307.0L396.9 306.9L398.4 306.8L399.9 306.7L401.4 306.7L402.9 306.6L404.4 306.6L405.9 306.6L407.4 306.6L408.9 306.6L410.4 306.5L411.9 306.5L413.4 306.4L414.9 306.3L416.4 306.2L417.9 306.1L419.4 306.0L420.9 306.0L422.4 305.9L423.9 305.8L425.4 305.7L426.9 305.7L428.4 305.6L429.9 305.5L431.4 305.4L432.9 305.3L434.4 305.2L435.9 305.1L437.4 305.1L438.9 305.0L440.4 305.0L441.9 305.0L443.4 305.0L444.9 305.0L446.4 305.0L447.9 304.9L449.4 304.9L450.9 304.8L452.4 304.7L453.9 304.6L455.4 304.5L456.9 304.4L458.4 304.3L459.9 304.3L461.4 304.2L462.9 304.2L464.4 304.1L465.9 304.1L467.4 304.0L468.9 303.9L470.4 303.9L471.9 303.8L473.4 303.8L474.9 303.7L476.4 303.7L477.9 303.7L479.4 303.7L480.9 303.7L482.4 303.7L483.9 303.6L485.4 303.5L486.9 303.4L488.4 303.3L489.9 303.2L491.4 303.1L492.9 303.0L494.4 302.9L495.9 302.8L497.4 302.7L498.9 302.7L500.4 302.6L501.9 302.5L503.4 302.4L504.9 302.4L506.4 302.3L507.9 302.2L509.4 302.1L510.9 302.0L512.4 302.0L513.9 301.9L515.4 301.8L516.9 301.8L518.4 301.7L519.9 301.6L521.4 301.5L522.9 301.4L524.4 301.3L525.9 301.1L527.4 301.0L528.9 300.9L530.3 300.8L531.8 300.7L533.3 300.6L534.8 300.5L536.3 300.4L537.8 300.3L539.3 300.1L540.8 300.0L542.2 299.9L543.7 299.7L545.2 299.5L546.7 299.3L548.2 299.2L549.6 299.0L551.1 298.8L552.6 298.5L554.1 298.3L555.6 298.2L557.1 298.0L558.6 297.8L560.1 297.7L561.6 297.5L563.1 297.4L564.6 297.2L566.1 297.1L567.6 296.9L569.1 296.7L570.5 296.4L572.0 296.2L573.4 295.9L574.8 295.6L576.3 295.4L577.7 295.1L579.1 294.8L580.5 294.4L582.0 294.1L583.4 293.7L584.8 293.3L586.3 292.8L587.7 292.4L589.2 291.9L590.6 291.5L592.1 291.0L593.6 290.6L595.1 290.2L596.6 289.7L598.0 289.3L599.4 288.8L599.9 288.6L600.4 288.5L600.8 288.3L601.3 288.1L601.8 287.9L602.2 287.6L602.7 287.4L603.2 287.2L603.6 287.0L604.1 286.7L604.5 286.5L605.0 286.2L605.5 286.0L606.0 285.7L606.4 285.5L606.9 285.2L607.4 285.0L607.8 284.7L608.3 284.5L608.8 284.2L609.3 284.0L609.8 283.8L610.2 283.5L610.7 283.3L611.2 283.1L611.6 282.9L612.1 282.7L612.6 282.4L613.1 282.2L613.5 282.0L614.0 281.8L614.5 281.6L615.0 281.4L615.6 281.2L616.1 281.0L616.6 280.8L617.1 280.5L617.6 280.3L618.0 280.1L618.5 279.9L618.9 279.7L619.4 279.5L619.8 279.3L620.2 279.1L620.6 278.9L621.0 278.7L621.4 278.4L621.8 278.2L622.3 277.9L622.7 277.6L623.1 277.4L623.4 277.2L623.8 276.9L624.1 276.7L624.4 276.4L624.7 276.2L625.1 275.9L625.4 275.6L625.6 275.4L625.9 275.1L626.2 274.7L626.5 274.2L626.9 273.5L627.2 272.9L627.6 271.8L628.0 269.8L637.0 271.6L636.5 274.1L635.8 276.0L635.2 277.4L634.6 278.5L634.0 279.5L633.3 280.4L632.7 281.2L632.0 281.9L631.4 282.5L630.8 283.0L630.2 283.5L629.6 283.9L629.1 284.3L628.5 284.7L627.9 285.1L627.4 285.4L626.9 285.8L626.3 286.1L625.8 286.4L625.3 286.7L624.7 287.0L624.2 287.2L623.7 287.5L623.1 287.8L622.6 288.0L622.1 288.2L621.6 288.5L621.1 288.7L620.5 288.9L620.0 289.1L619.5 289.3L619.0 289.5L618.5 289.7L618.1 289.9L617.6 290.1L617.0 290.3L616.5 290.5L616.0 290.7L615.5 290.9L615.0 291.2L614.5 291.4L614.0 291.6L613.5 291.8L613.0 292.1L612.5 292.3L612.0 292.5L611.6 292.8L611.1 293.0L610.6 293.3L610.1 293.5L609.6 293.8L609.2 294.0L608.7 294.3L608.2 294.5L607.7 294.8L607.2 295.0L606.7 295.3L606.2 295.5L605.7 295.7L605.2 296.0L604.7 296.2L604.2 296.4L603.7 296.6L603.2 296.8L602.7 297.0L602.2 297.2L600.6 297.7L599.1 298.1L597.5 298.5L596.0 298.9L594.5 299.3L593.0 299.7L591.4 300.1L589.9 300.5L588.4 300.9L586.9 301.3L585.3 301.7L583.8 302.1L582.2 302.4L580.7 302.7L579.1 303.0L577.6 303.3L576.0 303.5L574.5 303.8L572.9 304.0L571.4 304.2L569.9 304.4L568.4 304.6L566.8 304.7L565.3 304.8L563.8 304.9L562.3 305.0L560.8 305.1L559.3 305.2L557.8 305.3L556.3 305.5L554.8 305.6L553.3 305.7L551.8 305.9L550.3 306.1L548.8 306.2L547.3 306.4L545.8 306.5L544.3 306.6L542.7 306.7L541.2 306.8L539.7 306.9L538.2 307.0L536.7 307.1L535.2 307.1L533.7 307.2L532.2 307.3L530.7 307.3L529.2 307.4L527.6 307.5L526.1 307.5L524.6 307.6L523.1 307.7L521.6 307.7L520.1 307.8L518.6 307.8L517.1 307.9L515.6 307.9L514.1 307.9L512.6 307.9L511.1 308.0L509.6 308.0L508.1 308.0L506.6 308.1L505.1 308.1L503.6 308.1L502.1 308.2L500.6 308.2L499.1 308.3L497.6 308.3L496.1 308.4L494.6 308.4L493.1 308.5L491.6 308.6L490.1 308.7L488.6 308.8L487.1 309.0L485.6 309.1L484.1 309.1L482.6 309.2L481.1 309.2L479.6 309.3L478.1 309.3L476.6 309.3L475.1 309.3L473.6 309.3L472.1 309.3L470.6 309.4L469.1 309.4L467.6 309.5L466.1 309.6L464.6 309.6L463.1 309.7L461.6 309.7L460.1 309.8L458.6 309.8L457.1 309.9L455.6 309.9L454.1 310.0L452.6 310.1L451.1 310.2L449.7 310.3L448.2 310.3L446.7 310.4L445.1 310.4L443.6 310.4L442.1 310.4L440.6 310.4L439.1 310.4L437.6 310.5L436.1 310.5L434.6 310.6L433.1 310.7L431.6 310.8L430.1 310.9L428.6 311.0L427.1 311.0L425.6 311.1L424.1 311.2L422.6 311.3L421.1 311.3L419.6 311.4L418.1 311.5L416.6 311.6L415.1 311.7L413.6 311.8L412.1 311.8L410.6 311.9L409.1 311.9L407.6 311.9L406.1 311.9L404.6 311.9L403.1 312.0L401.6 312.0L400.1 312.1L398.6 312.1L397.1 312.2L395.6 312.3L394.1 312.4L392.6 312.5L391.1 312.6L389.6 312.6L388.1 312.7L386.6 312.7L385.1 312.7L383.6 312.7L382.1 312.7L380.5 312.7L379.0 312.8L377.5 312.8L376.0 312.7L374.4 312.7L372.9 312.6L371.4 312.5L369.9 312.4L368.3 312.2L366.8 312.1L365.3 312.0L363.6 311.9L361.9 311.6L360.3 311.3L358.7 310.9L357.1 310.5L355.6 310.0L354.1 309.6L352.7 309.2L351.3 308.9L349.8 308.5L348.3 308.1L346.8 307.8L345.3 307.4L343.8 307.1L342.3 306.7L340.8 306.4L339.3 306.1L337.9 305.8L336.3 305.4L334.8 305.1L333.3 304.7L331.8 304.3L330.3 303.9L328.7 303.5L327.1 303.1L325.6 302.7L324.0 302.2L322.5 301.7L320.9 301.2L319.4 300.7L317.9 300.1L316.4 299.6L314.9 299.0L313.5 298.4L312.1 297.8L310.6 297.3L309.2 296.8L307.8 296.3L306.4 295.9L304.9 295.6L303.5 295.2L302.0 294.9L300.5 294.6L299.0 294.3L297.6 294.0L296.1 293.6L294.6 293.4L293.1 293.1L291.6 292.8L290.1 292.6L288.6 292.4L287.1 292.2L285.7 292.0Z" fill="url(#g2)"/>
<defs><path id="mb2" d="M102.5 283.0h4.7M104.8 280.6v4.7M156.8 284.0h4.7M159.2 281.7v4.7M187.8 283.8h4.7M190.2 281.5v4.7M209.6 286.0h4.7M211.9 283.7v4.7M226.4 284.4h4.7M228.8 282.0v4.7M240.1 286.3h4.7M242.4 283.9v4.7M251.6 287.0h4.7M254.0 284.6v4.7M261.5 288.7h4.7M263.8 286.3v4.7M270.5 287.5h4.7M272.9 285.1v4.7M278.1 290.7h4.7M280.4 288.3v4.7M285.4 290.1h4.7M287.8 287.8v4.7M291.9 290.8h4.7M294.3 288.5v4.7M298.0 291.1h4.7M300.4 288.8v4.7M303.2 293.9h4.7M305.6 291.6v4.7M308.5 294.4h4.7M310.9 292.1v4.7M313.0 296.9h4.7M315.4 294.6v4.7M317.6 298.2h4.7M320.0 295.9v4.7M321.8 300.0h4.7M324.2 297.6v4.7M326.0 300.8h4.7M328.4 298.4v4.7M330.0 301.4h4.7M332.3 299.1v4.7M333.5 302.4h4.7M335.9 300.1v4.7M337.0 303.4h4.7M339.3 301.1v4.7M340.2 304.3h4.7M342.6 302.0v4.7M343.5 304.5h4.7M345.9 302.1v4.7M346.3 306.0h4.7M348.7 303.7v4.7M349.6 305.3h4.7M351.9 302.9v4.7M352.3 306.4h4.7M354.7 304.0v4.7M354.7 308.1h4.7M357.1 305.7v4.7M357.4 308.6h4.7M359.8 306.3v4.7M359.8 310.0h4.7M362.2 307.7v4.7M362.4 309.9h4.7M364.8 307.5v4.7M364.9 309.0h4.7M367.2 306.7v4.7M367.2 309.2h4.7M369.5 306.8v4.7M369.4 309.9h4.7M371.7 307.5v4.7M371.5 310.0h4.7M373.9 307.6v4.7M373.6 310.5h4.7M376.0 308.1v4.7M375.6 309.9h4.7M378.0 307.5v4.7M377.6 309.8h4.7M380.0 307.4v4.7M379.6 309.7h4.7M381.9 307.4v4.7M381.4 310.0h4.7M383.8 307.7v4.7M383.3 309.6h4.7M385.6 307.3v4.7M385.1 309.9h4.7M387.4 307.6v4.7M386.8 310.3h4.7M389.2 308.0v4.7M388.5 309.8h4.7M390.9 307.5v4.7M390.2 309.3h4.7M392.5 306.9v4.7M391.8 310.0h4.7M394.2 307.7v4.7M393.4 310.0h4.7M395.8 307.7v4.7M395.0 309.1h4.7M397.3 306.7v4.7M396.5 309.2h4.7M398.8 306.9v4.7M398.0 308.6h4.7M400.3 306.2v4.7M399.4 308.8h4.7M401.8 306.4v4.7M400.9 308.7h4.7M403.2 306.4v4.7M402.3 308.6h4.7M404.6 306.2v4.7M403.7 308.9h4.7M406.0 306.6v4.7M405.1 310.2h4.7M407.5 307.8v4.7M406.4 309.8h4.7M408.8 307.5v4.7M407.7 309.0h4.7M410.1 306.6v4.7M409.0 309.4h4.7M411.4 307.0v4.7M410.3 309.2h4.7M412.6 306.8v4.7M411.5 309.1h4.7M413.9 306.8v4.7M412.7 308.0h4.7M415.1 305.6v4.7M413.9 308.8h4.7M416.3 306.5v4.7M415.1 308.3h4.7M417.5 305.9v4.7M416.3 308.5h4.7M418.6 306.2v4.7M417.5 308.6h4.7M419.8 306.3v4.7M418.5 306.8h4.7M420.9 304.5v4.7M419.6 307.3h4.7M422.0 304.9v4.7M420.8 308.7h4.7M423.2 306.4v4.7M421.9 309.1h4.7M424.3 306.8v4.7M423.0 308.9h4.7M425.3 306.5v4.7M424.0 307.8h4.7M426.3 305.5v4.7M425.0 308.1h4.7M427.4 305.8v4.7M426.1 308.6h4.7M428.4 306.2v4.7M427.1 308.1h4.7M429.4 305.7v4.7M428.0 307.0h4.7M430.4 304.7v4.7M429.1 308.5h4.7M431.4 306.1v4.7M430.0 307.7h4.7M432.3 305.3v4.7M431.0 307.9h4.7M433.3 305.6v4.7M431.9 307.0h4.7M434.2 304.6v4.7M432.8 307.3h4.7M435.2 304.9v4.7M433.8 308.4h4.7M436.1 306.0v4.7M434.7 307.5h4.7M437.0 305.2v4.7M435.6 308.0h4.7M437.9 305.6v4.7M436.5 308.5h4.7M438.8 306.2v4.7M437.3 307.7h4.7M439.7 305.4v4.7M438.2 307.7h4.7M440.6 305.4v4.7M439.1 307.6h4.7M441.4 305.2v4.7M439.9 308.1h4.7M442.3 305.8v4.7M440.8 307.9h4.7M443.1 305.5v4.7M441.6 307.9h4.7M443.9 305.6v4.7M442.4 308.5h4.7M444.8 306.1v4.7M443.2 307.9h4.7M445.6 305.6v4.7M444.0 308.3h4.7M446.4 305.9v4.7M444.8 307.2h4.7M447.1 304.9v4.7M445.6 307.5h4.7M447.9 305.1v4.7M446.4 307.9h4.7M448.7 305.6v4.7M447.1 307.1h4.7M449.5 304.8v4.7M447.9 306.8h4.7M450.2 304.4v4.7M448.6 307.4h4.7M451.0 305.1v4.7M449.4 307.2h4.7M451.7 304.8v4.7M450.1 307.6h4.7M452.5 305.2v4.7M450.9 308.2h4.7M453.2 305.8v4.7M451.6 307.1h4.7M453.9 304.7v4.7M452.3 306.7h4.7M454.6 304.4v4.7M453.0 307.1h4.7M455.3 304.7v4.7M453.7 306.9h4.7M456.0 304.5v4.7M455.1 306.8h4.7M457.4 304.5v4.7M456.5 307.6h4.7M458.8 305.3v4.7M457.8 307.3h4.7M460.1 304.9v4.7M459.1 307.2h4.7M461.4 304.8v4.7M460.4 306.8h4.7M462.7 304.5v4.7M461.7 307.4h4.7M464.0 305.0v4.7M462.9 306.8h4.7M465.2 304.4v4.7M464.1 307.7h4.7M466.5 305.3v4.7M465.3 306.7h4.7M467.7 304.4v4.7M466.5 306.6h4.7M468.9 304.3v4.7M467.7 307.0h4.7M470.0 304.6v4.7M468.9 307.7h4.7M471.2 305.3v4.7M469.9 305.7h4.7M472.3 303.3v4.7M471.1 306.7h4.7M473.4 304.4v4.7M472.1 305.9h4.7M474.5 303.5v4.7M473.2 305.7h4.7M475.6 303.3v4.7M474.3 306.3h4.7M476.7 303.9v4.7M475.4 306.9h4.7M477.7 304.6v4.7M476.4 305.6h4.7M478.7 303.3v4.7M477.4 306.3h4.7M479.8 303.9v4.7M478.5 307.4h4.7M480.8 305.0v4.7M479.4 307.1h4.7M481.8 304.7v4.7M480.4 306.2h4.7M482.8 303.9v4.7M481.4 306.7h4.7M483.7 304.4v4.7M482.3 306.4h4.7M484.7 304.0v4.7M483.3 306.0h4.7M485.6 303.6v4.7M484.2 305.8h4.7M486.5 303.4v4.7M485.1 306.8h4.7M487.5 304.4v4.7M486.0 305.7h4.7M488.4 303.4v4.7M486.9 305.9h4.7M489.3 303.6v4.7M487.8 305.7h4.7M490.2 303.3v4.7M488.7 305.1h4.7M491.0 302.7v4.7M489.6 305.7h4.7M491.9 303.3v4.7M490.4 306.7h4.7M492.8 304.4v4.7M491.2 305.1h4.7M493.6 302.8v4.7M492.1 305.6h4.7M494.4 303.3v4.7M492.9 306.2h4.7M495.3 303.9v4.7M493.7 305.8h4.7M496.1 303.5v4.7M494.5 305.5h4.7M496.9 303.2v4.7M495.4 305.8h4.7M497.7 303.5v4.7M496.1 305.6h4.7M498.5 303.3v4.7M496.9 305.4h4.7M499.3 303.1v4.7M497.7 305.0h4.7M500.0 302.6v4.7M498.5 305.1h4.7M500.8 302.8v4.7M499.2 304.4h4.7M501.5 302.1v4.7M500.0 305.4h4.7M502.3 303.0v4.7M500.7 305.2h4.7M503.1 302.8v4.7M501.4 304.9h4.7M503.8 302.6v4.7M502.2 304.4h4.7M504.5 302.0v4.7M502.9 304.9h4.7M505.3 302.6v4.7M503.6 304.2h4.7M505.9 301.8v4.7M504.3 305.5h4.7M506.7 303.1v4.7M505.0 304.5h4.7M507.4 302.1v4.7M506.1 305.5h4.7M508.4 303.2v4.7M507.1 304.5h4.7M509.4 302.2v4.7M508.1 305.4h4.7M510.5 303.0v4.7M509.1 305.3h4.7M511.5 302.9v4.7M510.1 305.4h4.7M512.5 303.1v4.7M511.1 304.7h4.7M513.4 302.4v4.7M512.0 303.8h4.7M514.3 301.5v4.7M513.0 305.1h4.7M515.3 302.7v4.7M513.9 304.5h4.7M516.3 302.1v4.7M514.8 303.9h4.7M517.2 301.6v4.7M515.7 304.1h4.7M518.1 301.8v4.7M516.7 304.8h4.7M519.0 302.5v4.7M517.6 305.0h4.7M519.9 302.7v4.7M518.4 304.8h4.7M520.8 302.5v4.7M519.3 305.0h4.7M521.7 302.6v4.7M520.2 305.1h4.7M522.5 302.8v4.7M521.0 304.3h4.7M523.3 301.9v4.7M521.8 304.4h4.7M524.2 302.1v4.7M522.7 304.2h4.7M525.0 301.9v4.7M523.5 304.1h4.7M525.8 301.8v4.7M524.3 304.2h4.7M526.7 301.8v4.7M525.1 304.3h4.7M527.5 302.0v4.7M525.9 303.9h4.7M528.2 301.5v4.7M526.7 304.2h4.7M529.0 301.9v4.7M527.5 304.6h4.7M529.8 302.3v4.7M528.2 303.9h4.7M530.6 301.5v4.7M529.0 304.3h4.7M531.4 302.0v4.7M529.7 303.5h4.7M532.1 301.1v4.7M530.5 303.4h4.7M532.8 301.1v4.7M531.3 304.9h4.7M533.6 302.5v4.7M532.0 303.8h4.7M534.3 301.4v4.7M532.7 304.5h4.7M535.1 302.1v4.7M533.4 302.6h4.7M535.7 300.3v4.7M534.1 302.3h4.7M536.4 300.0v4.7M534.8 303.6h4.7M537.2 301.3v4.7M535.8 303.5h4.7M538.1 301.1v4.7M536.6 302.2h4.7M538.9 299.9v4.7M537.6 303.9h4.7M540.0 301.5v4.7M538.5 303.8h4.7M540.9 301.4v4.7M539.3 302.9h4.7M541.7 300.6v4.7M540.3 303.6h4.7M542.6 301.3v4.7M541.1 303.5h4.7M543.5 301.2v4.7M542.0 303.1h4.7M544.3 300.8v4.7M542.8 302.7h4.7M545.1 300.3v4.7M543.7 303.3h4.7M546.0 301.0v4.7M544.4 302.6h4.7M546.8 300.2v4.7M545.2 302.4h4.7M547.6 300.1v4.7M546.0 301.9h4.7M548.3 299.5v4.7M546.9 302.6h4.7M549.2 300.3v4.7M547.7 303.2h4.7M550.1 300.9v4.7M548.4 302.1h4.7M550.8 299.7v4.7M549.2 302.0h4.7M551.5 299.6v4.7M549.9 301.4h4.7M552.2 299.1v4.7M550.7 302.0h4.7M553.1 299.6v4.7M551.5 302.5h4.7M553.9 300.2v4.7M552.2 301.8h4.7M554.6 299.5v4.7M553.0 302.2h4.7M555.3 299.9v4.7M553.7 302.4h4.7M556.1 300.1v4.7M554.3 301.2h4.7M556.7 298.8v4.7M555.1 301.3h4.7M557.4 298.9v4.7M555.9 301.9h4.7M558.2 299.6v4.7M556.5 301.3h4.7M558.8 299.0v4.7M557.3 300.8h4.7M559.7 298.4v4.7M558.2 301.3h4.7M560.6 299.0v4.7M559.1 301.5h4.7M561.5 299.2v4.7M560.0 301.9h4.7M562.3 299.5v4.7M560.7 300.6h4.7M563.1 298.3v4.7M561.6 301.3h4.7M563.9 298.9v4.7M562.4 301.3h4.7M564.8 298.9v4.7M563.0 299.2h4.7M565.4 296.9v4.7M564.0 301.3h4.7M566.4 299.0v4.7M564.8 300.7h4.7M567.1 298.4v4.7M565.4 299.7h4.7M567.8 297.3v4.7M566.4 301.7h4.7M568.8 299.4v4.7M567.1 300.8h4.7M569.4 298.4v4.7M567.8 300.6h4.7M570.2 298.2v4.7M568.7 301.7h4.7M571.1 299.4v4.7M569.4 300.8h4.7M571.7 298.5v4.7M569.9 299.4h4.7M572.3 297.1v4.7M570.7 300.0h4.7M573.1 297.6v4.7M571.6 300.9h4.7M573.9 298.6v4.7M572.2 300.5h4.7M574.6 298.1v4.7M573.0 300.6h4.7M575.3 298.2v4.7M573.5 299.5h4.7M575.9 297.1v4.7M574.5 300.0h4.7M576.8 297.7v4.7M575.1 298.8h4.7M577.4 296.4v4.7M575.9 298.9h4.7M578.3 296.6v4.7M576.8 299.3h4.7M579.2 296.9v4.7M577.5 298.6h4.7M579.9 296.3v4.7M578.4 298.9h4.7M580.7 296.6v4.7M579.1 298.3h4.7M581.4 295.9v4.7M579.9 298.4h4.7M582.2 296.0v4.7M580.9 299.3h4.7M583.2 297.0v4.7M581.4 298.2h4.7M583.8 295.9v4.7M582.2 298.3h4.7M584.6 296.0v4.7M582.6 296.6h4.7M584.9 294.2v4.7M583.4 296.9h4.7M585.8 294.5v4.7M584.4 297.6h4.7M586.7 295.3v4.7M584.7 295.8h4.7M587.0 293.5v4.7M585.6 296.4h4.7M587.9 294.0v4.7M586.3 296.2h4.7M588.6 293.9v4.7M587.2 297.0h4.7M589.6 294.6v4.7M587.4 294.9h4.7M589.8 292.6v4.7M588.3 295.5h4.7M590.6 293.2v4.7M589.1 295.7h4.7M591.4 293.3v4.7M589.8 295.5h4.7M592.2 293.1v4.7M590.3 294.2h4.7M592.7 291.8v4.7M591.6 295.8h4.7M593.9 293.4v4.7M592.2 295.2h4.7M594.6 292.9v4.7M593.1 295.4h4.7M595.5 293.0v4.7M593.7 294.8h4.7M596.1 292.4v4.7M594.5 294.6h4.7M596.8 292.2v4.7M595.0 293.8h4.7M597.4 291.5v4.7M595.8 293.6h4.7M598.1 291.3v4.7M596.3 292.8h4.7M598.6 290.5v4.7M597.3 293.7h4.7M599.7 291.3v4.7M597.7 292.4h4.7M600.0 290.0v4.7M598.8 293.6h4.7M601.2 291.3v4.7M599.4 293.0h4.7M601.7 290.6v4.7M599.8 292.0h4.7M602.2 289.7v4.7M600.6 292.2h4.7M603.0 289.9v4.7M600.9 290.8h4.7M603.2 288.5v4.7M601.6 290.9h4.7M604.0 288.5v4.7M602.4 290.7h4.7M604.8 288.4v4.7M603.0 289.9h4.7M605.3 287.6v4.7M603.9 290.1h4.7M606.2 287.7v4.7M604.6 290.0h4.7M607.0 287.6v4.7M605.2 289.3h4.7M607.6 287.0v4.7M605.8 288.8h4.7M608.2 286.5v4.7M606.4 288.3h4.7M608.8 285.9v4.7M606.9 287.4h4.7M609.3 285.1v4.7M608.2 288.7h4.7M610.6 286.3v4.7M608.6 287.7h4.7M611.0 285.4v4.7M609.7 288.5h4.7M612.0 286.1v4.7M609.7 286.7h4.7M612.1 284.3v4.7M610.6 286.8h4.7M612.9 284.4v4.7M611.5 287.2h4.7M613.8 284.9v4.7M612.3 287.4h4.7M614.7 285.1v4.7M612.9 286.9h4.7M615.2 284.5v4.7M613.5 286.5h4.7M615.8 284.2v4.7M613.6 284.8h4.7M615.9 282.5v4.7M614.8 285.7h4.7M617.2 283.4v4.7M615.9 286.3h4.7M618.2 283.9v4.7M615.5 283.4h4.7M617.9 281.1v4.7M616.9 284.7h4.7M619.2 282.4v4.7M618.1 285.6h4.7M620.4 283.3v4.7M617.8 283.3h4.7M620.2 280.9v4.7M618.9 283.8h4.7M621.2 281.5v4.7M620.0 284.6h4.7M622.3 282.2v4.7M620.2 283.4h4.7M622.6 281.0v4.7M620.7 282.8h4.7M623.1 280.5v4.7M621.5 282.9h4.7M623.9 280.5v4.7M621.8 281.9h4.7M624.2 279.5v4.7M622.7 282.1h4.7M625.1 279.7v4.7M623.0 281.2h4.7M625.4 278.8v4.7M624.0 281.4h4.7M626.3 279.0v4.7M623.9 280.0h4.7M626.2 277.6v4.7M624.7 280.0h4.7M627.1 277.6v4.7M625.3 279.8h4.7M627.7 277.4v4.7M624.7 278.1h4.7M627.0 275.8v4.7M626.7 279.3h4.7M629.1 276.9v4.7M626.5 278.2h4.7M628.9 275.8v4.7M626.8 277.6h4.7M629.1 275.2v4.7M626.7 276.8h4.7M629.1 274.4v4.7M627.9 276.7h4.7M630.2 274.3v4.7M627.7 275.8h4.7M630.1 273.4v4.7M629.0 275.7h4.7M631.4 273.3v4.7M630.0 275.3h4.7M632.4 272.9v4.7M629.0 274.1h4.7M631.3 271.7v4.7M629.0 273.2h4.7M631.4 270.9v4.7M629.6 272.6h4.7M632.0 270.3v4.7M629.7 271.9h4.7M632.1 269.5v4.7M630.5 271.0h4.7M632.8 268.7v4.7"/></defs>
<use href="#mb2" stroke="#e06230" stroke-width="4.2" fill="none" opacity="0.3"/>
<use href="#mb2" stroke="#e06230" stroke-width="1.7" fill="none" opacity="0.62"/>
<path d="M286.3 287.8L287.8 288.0L289.3 288.2L290.8 288.4L292.3 288.6L293.8 288.8L295.3 289.0L296.8 289.2L298.4 289.4L299.9 289.7L301.4 290.0L302.9 290.2L304.4 290.5L306.0 290.8L307.5 291.1L309.1 291.5L310.6 291.9L312.2 292.3L313.7 292.8L315.3 293.2L316.8 293.8L318.3 294.3L319.8 294.9L321.3 295.5L322.8 296.0L324.3 296.6L325.7 297.1L327.2 297.6L328.7 298.1L330.1 298.5L331.6 298.8L333.0 299.2L334.5 299.5L336.0 299.8L337.5 300.2L339.0 300.5L340.5 300.8L342.0 301.1L343.5 301.5L345.0 301.8L346.5 302.1L348.0 302.5L349.5 302.8L351.1 303.1L352.6 303.5L354.1 303.9L355.7 304.3L357.2 304.8L358.7 305.3L360.1 305.8L361.6 306.2L363.0 306.5L364.3 306.7L365.7 306.8L367.2 306.8L368.6 306.9L370.1 307.0L371.6 307.0L373.1 307.1L374.6 307.1L376.0 307.2L377.5 307.2L379.0 307.2L380.5 307.2L382.0 307.2L383.4 307.1L384.9 307.1L386.4 307.1L387.9 307.1L389.4 307.0L390.9 307.0L392.4 307.0L393.9 307.0L395.4 306.9L396.9 306.9L398.4 306.8L399.9 306.8L401.4 306.7L402.9 306.6L404.4 306.5L405.9 306.4L407.4 306.4L408.9 306.3L410.4 306.2L411.9 306.2L413.4 306.2L414.9 306.1L416.4 306.1L417.9 306.0L419.4 305.9L420.9 305.8L422.4 305.8L423.9 305.7L425.4 305.7L426.9 305.6L428.4 305.6L429.9 305.5L431.4 305.4L432.9 305.4L434.4 305.3L435.9 305.2L437.4 305.1L438.9 305.0L440.4 304.9L441.9 304.8L443.4 304.7L444.9 304.6L446.4 304.6L447.9 304.6L449.4 304.5L450.9 304.5L452.4 304.5L453.9 304.4L455.4 304.4L456.9 304.3L458.4 304.3L459.9 304.2L461.4 304.2L462.9 304.1L464.4 304.1L465.9 304.0L467.4 304.0L468.9 303.9L470.4 303.9L471.9 303.8L473.4 303.7L474.9 303.6L476.4 303.5L477.9 303.5L479.4 303.4L480.9 303.4L482.4 303.4L483.9 303.3L485.4 303.3L486.9 303.3L488.4 303.2L489.9 303.2L491.4 303.1L492.9 303.0L494.4 302.9L495.9 302.9L497.4 302.8L498.9 302.7L500.4 302.6L501.9 302.5L503.4 302.4L504.9 302.3L506.4 302.3L507.9 302.2L509.4 302.1L510.9 302.0L512.4 301.9L513.9 301.8L515.4 301.7L516.9 301.6L518.4 301.6L519.9 301.5L521.4 301.4L522.9 301.3L524.4 301.2L525.9 301.2L527.4 301.0L528.9 300.9L530.3 300.8L531.8 300.7L533.3 300.6L534.8 300.5L536.3 300.4L537.8 300.3L539.3 300.1L540.8 300.0L542.2 299.9L543.7 299.7L545.2 299.6L546.7 299.4L548.2 299.2L549.6 299.1L551.1 298.9L552.6 298.7L554.1 298.5L555.6 298.3L557.1 298.1L558.6 297.9L560.1 297.7L561.6 297.5L563.1 297.4L564.6 297.2L566.1 297.1L567.6 296.9L569.1 296.7L570.5 296.6L572.0 296.4L573.4 296.2L574.9 295.9L576.3 295.7L577.7 295.4L579.2 295.1L580.6 294.7L582.0 294.4L583.5 294.0L584.9 293.6L586.4 293.2L587.8 292.8L589.3 292.3L590.7 291.8L592.2 291.3L593.7 290.8L595.1 290.4L596.6 289.9L598.0 289.4L599.5 289.0L599.9 288.8L600.4 288.6L600.9 288.5L601.4 288.3L601.8 288.1L602.3 288.0L602.8 287.8L603.3 287.6L603.8 287.4L604.3 287.2L604.8 287.0L605.3 286.8L605.7 286.6L606.2 286.4L606.7 286.2L607.2 286.0L607.7 285.8L608.2 285.6L608.7 285.4L609.2 285.2L609.7 284.9L610.1 284.7L610.6 284.5L611.1 284.3L611.5 284.0L612.0 283.8L612.5 283.6L613.0 283.3L613.4 283.1L613.9 282.9L614.4 282.6L614.9 282.4L615.4 282.1L615.9 281.9L616.4 281.7L616.9 281.4L617.4 281.2L617.8 281.0L618.3 280.8L618.8 280.6L619.2 280.4L619.6 280.1L620.1 279.9L620.5 279.7L620.9 279.5L621.3 279.2L621.7 279.0L622.1 278.7L622.6 278.4L623.0 278.1L623.4 277.8L623.7 277.6L624.0 277.3L624.4 277.0L624.7 276.7L624.9 276.4L625.2 276.1L625.5 275.8L625.7 275.5L625.9 275.2L626.2 274.8L626.5 274.2L626.8 273.5L627.1 272.9L627.4 271.8L627.8 269.7L636.8 271.6L636.3 274.0L635.7 276.0L635.1 277.4L634.5 278.5L634.0 279.5L633.4 280.5L632.8 281.3L632.2 282.0L631.6 282.7L631.0 283.2L630.5 283.8L629.9 284.3L629.3 284.7L628.8 285.1L628.2 285.5L627.7 285.9L627.1 286.3L626.6 286.6L626.1 286.9L625.6 287.2L625.0 287.5L624.5 287.8L624.0 288.1L623.4 288.3L622.9 288.6L622.4 288.8L621.8 289.1L621.3 289.3L620.8 289.5L620.3 289.8L619.8 290.0L619.3 290.2L618.9 290.4L618.4 290.7L617.9 290.9L617.4 291.1L616.9 291.4L616.4 291.6L615.9 291.9L615.4 292.1L614.9 292.3L614.4 292.6L613.9 292.8L613.4 293.0L612.9 293.3L612.4 293.5L611.9 293.7L611.4 293.9L610.9 294.1L610.4 294.3L609.9 294.5L609.4 294.7L608.9 294.9L608.4 295.1L607.9 295.3L607.4 295.5L606.9 295.7L606.4 295.9L605.9 296.1L605.4 296.3L604.8 296.4L604.3 296.6L603.8 296.8L603.3 297.0L602.8 297.1L602.2 297.3L600.7 297.8L599.1 298.3L597.6 298.7L596.1 299.1L594.6 299.6L593.1 300.0L591.5 300.5L590.0 300.9L588.5 301.3L587.0 301.7L585.4 302.1L583.9 302.4L582.3 302.7L580.8 303.0L579.2 303.3L577.6 303.6L576.1 303.8L574.5 304.0L573.0 304.2L571.4 304.3L569.9 304.5L568.4 304.6L566.8 304.7L565.3 304.8L563.8 304.9L562.3 305.0L560.8 305.2L559.3 305.3L557.8 305.4L556.4 305.6L554.9 305.7L553.4 305.9L551.8 306.0L550.3 306.2L548.8 306.3L547.3 306.4L545.8 306.5L544.3 306.6L542.8 306.7L541.2 306.8L539.7 306.9L538.2 307.0L536.7 307.1L535.2 307.1L533.7 307.2L532.2 307.3L530.7 307.3L529.2 307.4L527.6 307.5L526.1 307.5L524.6 307.6L523.1 307.6L521.6 307.7L520.1 307.7L518.6 307.7L517.1 307.7L515.6 307.8L514.1 307.8L512.6 307.8L511.1 307.9L509.6 307.9L508.1 308.0L506.6 308.0L505.1 308.1L503.6 308.1L502.1 308.2L500.6 308.2L499.1 308.3L497.6 308.4L496.1 308.4L494.6 308.5L493.1 308.6L491.6 308.7L490.1 308.7L488.6 308.8L487.1 308.8L485.6 308.9L484.1 308.9L482.6 308.9L481.1 308.9L479.6 309.0L478.1 309.0L476.6 309.1L475.1 309.1L473.6 309.2L472.1 309.3L470.6 309.4L469.1 309.4L467.6 309.5L466.1 309.5L464.6 309.6L463.1 309.6L461.6 309.6L460.1 309.7L458.6 309.7L457.1 309.8L455.6 309.8L454.1 309.9L452.6 309.9L451.1 309.9L449.6 310.0L448.1 310.0L446.6 310.0L445.1 310.1L443.6 310.1L442.1 310.2L440.6 310.3L439.1 310.4L437.6 310.5L436.1 310.6L434.6 310.7L433.1 310.8L431.6 310.8L430.1 310.9L428.6 310.9L427.1 311.0L425.6 311.0L424.1 311.1L422.6 311.1L421.1 311.2L419.6 311.3L418.1 311.3L416.6 311.4L415.1 311.5L413.6 311.5L412.1 311.5L410.6 311.6L409.1 311.6L407.6 311.7L406.1 311.8L404.6 311.8L403.1 311.9L401.6 312.0L400.1 312.1L398.6 312.2L397.1 312.2L395.6 312.3L394.1 312.3L392.6 312.3L391.1 312.3L389.6 312.4L388.1 312.4L386.6 312.4L385.1 312.4L383.6 312.4L382.1 312.5L380.5 312.5L379.0 312.5L377.5 312.5L376.0 312.5L374.4 312.4L372.9 312.4L371.4 312.3L369.9 312.3L368.3 312.2L366.8 312.1L365.3 312.0L363.6 311.9L361.9 311.6L360.3 311.3L358.7 310.8L357.1 310.3L355.6 309.9L354.2 309.4L352.8 309.0L351.4 308.6L349.9 308.3L348.4 307.9L346.9 307.6L345.4 307.3L343.9 306.9L342.4 306.6L340.9 306.3L339.4 305.9L337.9 305.6L336.4 305.3L334.9 304.9L333.3 304.6L331.8 304.3L330.3 303.9L328.7 303.5L327.1 303.1L325.6 302.6L324.0 302.1L322.5 301.5L321.0 300.9L319.5 300.4L318.0 299.8L316.5 299.2L315.1 298.6L313.6 298.0L312.2 297.5L310.7 297.0L309.3 296.6L307.8 296.1L306.4 295.8L305.0 295.4L303.5 295.1L302.0 294.8L300.5 294.4L299.1 294.1L297.6 293.8L296.1 293.5L294.6 293.3L293.1 293.0L291.6 292.8L290.2 292.5L288.7 292.2L287.2 292.0L285.7 291.7Z" fill="url(#g3)"/>
<defs><path id="mb3" d="M140.9 282.3h4.7M143.2 279.9v4.7M177.7 283.5h4.7M180.1 281.2v4.7M202.2 284.2h4.7M204.6 281.8v4.7M220.6 284.4h4.7M223.0 282.0v4.7M235.4 283.8h4.7M237.7 281.4v4.7M247.5 286.6h4.7M249.9 284.2v4.7M258.0 287.5h4.7M260.4 285.1v4.7M267.3 287.7h4.7M269.6 285.4v4.7M275.4 289.0h4.7M277.8 286.7v4.7M282.8 290.2h4.7M285.1 287.9v4.7M289.5 290.8h4.7M291.9 288.4v4.7M295.6 292.2h4.7M298.0 289.8v4.7M301.5 292.1h4.7M303.9 289.7v4.7M306.5 294.4h4.7M308.9 292.1v4.7M312.0 294.0h4.7M314.4 291.7v4.7M315.9 297.8h4.7M318.3 295.4v4.7M320.2 299.6h4.7M322.5 297.3v4.7M324.4 300.8h4.7M326.7 298.5v4.7M328.6 300.9h4.7M330.9 298.6v4.7M332.2 302.0h4.7M334.6 299.7v4.7M335.7 303.2h4.7M338.0 300.9v4.7M339.2 303.3h4.7M341.5 300.9v4.7M342.3 304.6h4.7M344.6 302.2v4.7M345.4 305.0h4.7M347.7 302.7v4.7M348.2 306.5h4.7M350.5 304.1v4.7M351.2 306.2h4.7M353.6 303.9v4.7M354.0 307.0h4.7M356.3 304.7v4.7M356.4 308.4h4.7M358.8 306.0v4.7M359.0 309.3h4.7M361.3 307.0v4.7M361.6 309.1h4.7M363.9 306.8v4.7M364.0 308.7h4.7M366.4 306.4v4.7M366.3 308.9h4.7M368.7 306.5v4.7M368.6 308.8h4.7M370.9 306.5v4.7M370.7 309.8h4.7M373.1 307.4v4.7M372.8 309.3h4.7M375.2 306.9v4.7M374.9 309.8h4.7M377.2 307.5v4.7M376.9 309.1h4.7M379.2 306.8v4.7M378.8 309.7h4.7M381.2 307.3v4.7M380.7 310.1h4.7M383.1 307.7v4.7M382.6 309.2h4.7M384.9 306.8v4.7M384.4 310.3h4.7M386.8 307.9v4.7M386.2 309.7h4.7M388.5 307.4v4.7M387.9 309.3h4.7M390.2 306.9v4.7M389.6 309.5h4.7M391.9 307.1v4.7M391.2 309.6h4.7M393.6 307.2v4.7M392.8 309.2h4.7M395.1 306.8v4.7M394.4 309.3h4.7M396.7 306.9v4.7M395.9 309.6h4.7M398.3 307.3v4.7M397.4 308.5h4.7M399.8 306.1v4.7M399.0 310.6h4.7M401.3 308.2v4.7M400.4 309.7h4.7M402.7 307.4v4.7M401.8 309.8h4.7M404.2 307.5v4.7M403.2 310.3h4.7M405.6 307.9v4.7M404.6 309.4h4.7M406.9 307.1v4.7M405.9 309.0h4.7M408.2 306.6v4.7M407.2 308.9h4.7M409.6 306.5v4.7M408.5 309.2h4.7M410.9 306.8v4.7M409.8 309.6h4.7M412.2 307.2v4.7M411.0 308.4h4.7M413.4 306.0v4.7M412.3 309.7h4.7M414.7 307.3v4.7M413.5 308.6h4.7M415.8 306.2v4.7M414.7 308.2h4.7M417.0 305.8v4.7M415.9 309.3h4.7M418.2 307.0v4.7M417.0 308.3h4.7M419.4 306.0v4.7M418.2 308.9h4.7M420.5 306.6v4.7M419.3 307.8h4.7M421.6 305.5v4.7M420.4 308.8h4.7M422.7 306.5v4.7M421.5 308.1h4.7M423.8 305.8v4.7M422.6 309.0h4.7M424.9 306.6v4.7M423.6 307.5h4.7M425.9 305.2v4.7M424.6 307.9h4.7M427.0 305.6v4.7M425.7 307.7h4.7M428.0 305.4v4.7M426.7 308.3h4.7M429.0 306.0v4.7M427.7 307.7h4.7M430.0 305.3v4.7M428.7 308.0h4.7M431.0 305.6v4.7M429.6 308.1h4.7M432.0 305.7v4.7M430.6 307.8h4.7M432.9 305.5v4.7M431.6 308.1h4.7M433.9 305.7v4.7M432.5 308.1h4.7M434.8 305.7v4.7M433.4 307.1h4.7M435.7 304.7v4.7M434.4 308.3h4.7M436.7 306.0v4.7M435.2 307.2h4.7M437.6 304.8v4.7M436.1 307.3h4.7M438.5 304.9v4.7M437.0 308.5h4.7M439.4 306.2v4.7M437.9 307.2h4.7M440.2 304.9v4.7M438.7 307.4h4.7M441.1 305.1v4.7M439.6 307.8h4.7M441.9 305.5v4.7M440.4 307.1h4.7M442.8 304.7v4.7M441.3 307.3h4.7M443.6 305.0v4.7M442.1 307.2h4.7M444.4 304.9v4.7M442.9 307.2h4.7M445.2 304.9v4.7M443.7 306.7h4.7M446.0 304.4v4.7M444.5 307.8h4.7M446.9 305.5v4.7M445.3 307.3h4.7M447.6 304.9v4.7M446.1 307.6h4.7M448.4 305.2v4.7M446.8 307.3h4.7M449.2 304.9v4.7M447.6 306.9h4.7M449.9 304.6v4.7M448.4 307.8h4.7M450.7 305.4v4.7M449.1 306.8h4.7M451.4 304.5v4.7M449.9 307.7h4.7M452.2 305.3v4.7M450.6 306.8h4.7M452.9 304.4v4.7M451.3 306.8h4.7M453.6 304.4v4.7M452.0 307.2h4.7M454.4 304.8v4.7M452.8 308.3h4.7M455.1 305.9v4.7M453.5 307.5h4.7M455.8 305.2v4.7M454.8 307.1h4.7M457.2 304.7v4.7M456.2 307.2h4.7M458.5 304.8v4.7M457.6 307.5h4.7M459.9 305.2v4.7M458.8 306.6h4.7M461.2 304.3v4.7M460.1 305.9h4.7M462.5 303.5v4.7M461.4 306.3h4.7M463.7 303.9v4.7M462.7 306.8h4.7M465.0 304.4v4.7M463.9 306.4h4.7M466.2 304.0v4.7M465.1 306.6h4.7M467.4 304.2v4.7M466.3 307.4h4.7M468.7 305.1v4.7M467.4 306.5h4.7M469.8 304.2v4.7M468.6 306.3h4.7M470.9 303.9v4.7M469.7 306.5h4.7M472.1 304.2v4.7M470.9 307.1h4.7M473.2 304.7v4.7M472.0 307.3h4.7M474.3 304.9v4.7M473.0 306.7h4.7M475.4 304.3v4.7M474.1 306.2h4.7M476.5 303.8v4.7M475.2 306.0h4.7M477.5 303.7v4.7M476.2 305.6h4.7M478.5 303.3v4.7M477.2 305.9h4.7M479.6 303.5v4.7M478.2 306.6h4.7M480.6 304.3v4.7M479.2 306.4h4.7M481.6 304.1v4.7M480.2 306.3h4.7M482.6 303.9v4.7M481.2 305.6h4.7M483.5 303.2v4.7M482.1 306.0h4.7M484.5 303.7v4.7M483.1 305.7h4.7M485.4 303.4v4.7M484.0 306.8h4.7M486.4 304.5v4.7M484.9 306.0h4.7M487.3 303.7v4.7M485.9 306.0h4.7M488.2 303.6v4.7M486.8 306.0h4.7M489.1 303.6v4.7M487.6 305.9h4.7M490.0 303.6v4.7M488.5 306.0h4.7M490.9 303.6v4.7M489.4 305.6h4.7M491.7 303.2v4.7M490.3 306.0h4.7M492.6 303.6v4.7M491.1 305.8h4.7M493.5 303.5v4.7M492.0 306.2h4.7M494.3 303.8v4.7M492.8 306.0h4.7M495.1 303.6v4.7M493.6 306.0h4.7M496.0 303.6v4.7M494.4 305.3h4.7M496.7 303.0v4.7M495.2 305.6h4.7M497.6 303.2v4.7M496.0 304.3h4.7M498.3 302.0v4.7M496.8 305.0h4.7M499.1 302.7v4.7M497.5 305.2h4.7M499.9 302.9v4.7M498.3 304.1h4.7M500.6 301.8v4.7M499.1 306.0h4.7M501.5 303.6v4.7M499.9 305.8h4.7M502.2 303.5v4.7M500.6 305.4h4.7M502.9 303.0v4.7M501.4 306.5h4.7M503.7 304.2v4.7M502.0 304.4h4.7M504.4 302.1v4.7M502.8 305.2h4.7M505.1 302.9v4.7M503.5 305.2h4.7M505.8 302.9v4.7M504.2 304.9h4.7M506.5 302.5v4.7M504.9 305.9h4.7M507.3 303.5v4.7M506.0 305.6h4.7M508.3 303.3v4.7M507.0 305.2h4.7M509.3 302.9v4.7M508.0 304.4h4.7M510.3 302.1v4.7M509.0 305.0h4.7M511.3 302.7v4.7M510.0 304.9h4.7M512.3 302.5v4.7M511.0 305.1h4.7M513.3 302.7v4.7M511.9 304.0h4.7M514.2 301.6v4.7M512.8 304.2h4.7M515.2 301.8v4.7M513.8 305.3h4.7M516.2 302.9v4.7M514.7 304.7h4.7M517.1 302.4v4.7M515.6 304.6h4.7M518.0 302.2v4.7M516.5 304.6h4.7M518.9 302.2v4.7M517.4 303.1h4.7M519.7 300.7v4.7M518.3 305.3h4.7M520.7 303.0v4.7M519.2 303.7h4.7M521.5 301.3v4.7M520.0 303.8h4.7M522.4 301.4v4.7M520.9 304.7h4.7M523.3 302.4v4.7M521.8 305.2h4.7M524.1 302.8v4.7M522.6 305.0h4.7M525.0 302.7v4.7M523.4 304.0h4.7M525.7 301.7v4.7M524.2 303.8h4.7M526.5 301.5v4.7M525.0 304.6h4.7M527.4 302.2v4.7M525.8 304.3h4.7M528.2 302.0v4.7M526.5 303.1h4.7M528.9 300.8v4.7M527.4 304.9h4.7M529.8 302.5v4.7M528.1 303.0h4.7M530.4 300.6v4.7M528.9 304.2h4.7M531.3 301.9v4.7M529.7 304.2h4.7M532.0 301.8v4.7M530.4 304.4h4.7M532.8 302.0v4.7M531.2 303.9h4.7M533.5 301.6v4.7M531.9 304.3h4.7M534.3 302.0v4.7M532.6 304.0h4.7M535.0 301.6v4.7M533.3 303.3h4.7M535.7 300.9v4.7M534.0 303.4h4.7M536.4 301.0v4.7M534.8 304.5h4.7M537.1 302.1v4.7M535.6 302.5h4.7M538.0 300.2v4.7M536.6 304.0h4.7M539.0 301.6v4.7M537.5 303.1h4.7M539.8 300.8v4.7M538.3 302.4h4.7M540.7 300.1v4.7M539.2 302.9h4.7M541.6 300.5v4.7M540.2 303.6h4.7M542.5 301.2v4.7M540.9 301.6h4.7M543.2 299.3v4.7M541.9 303.7h4.7M544.3 301.3v4.7M542.8 303.8h4.7M545.1 301.4v4.7M543.5 302.8h4.7M545.9 300.4v4.7M544.4 302.7h4.7M546.7 300.4v4.7M545.2 302.9h4.7M547.5 300.5v4.7M546.0 303.3h4.7M548.4 300.9v4.7M546.7 302.1h4.7M549.1 299.7v4.7M547.6 302.3h4.7M549.9 300.0v4.7M548.4 302.7h4.7M550.7 300.4v4.7M549.1 301.5h4.7M551.4 299.2v4.7M549.9 302.5h4.7M552.3 300.2v4.7M550.7 302.2h4.7M553.0 299.9v4.7M551.5 302.7h4.7M553.8 300.3v4.7M552.1 301.4h4.7M554.4 299.1v4.7M552.9 302.0h4.7M555.2 299.6v4.7M553.6 302.2h4.7M556.0 299.8v4.7M554.3 301.9h4.7M556.7 299.5v4.7M555.0 301.1h4.7M557.3 298.8v4.7M555.8 302.4h4.7M558.2 300.0v4.7M556.5 301.5h4.7M558.8 299.2v4.7M557.3 301.6h4.7M559.7 299.3v4.7M558.2 301.5h4.7M560.5 299.1v4.7M559.1 301.7h4.7M561.4 299.4v4.7M559.9 301.3h4.7M562.2 299.0v4.7M560.7 300.8h4.7M563.0 298.4v4.7M561.6 301.6h4.7M563.9 299.3v4.7M562.3 301.0h4.7M564.7 298.6v4.7M563.1 301.0h4.7M565.5 298.7v4.7M563.9 301.0h4.7M566.3 298.7v4.7M564.6 300.1h4.7M567.0 297.8v4.7M565.5 300.8h4.7M567.8 298.5v4.7M566.3 300.9h4.7M568.6 298.5v4.7M566.9 299.7h4.7M569.3 297.4v4.7M567.7 300.4h4.7M570.1 298.0v4.7M568.5 300.4h4.7M570.9 298.1v4.7M569.3 300.8h4.7M571.6 298.5v4.7M570.0 300.1h4.7M572.3 297.7v4.7M570.7 300.2h4.7M573.1 297.9v4.7M571.5 300.5h4.7M573.8 298.1v4.7M572.0 299.3h4.7M574.4 296.9v4.7M572.8 299.4h4.7M575.1 297.1v4.7M573.5 299.6h4.7M575.8 297.3v4.7M574.4 300.1h4.7M576.8 297.7v4.7M575.3 300.3h4.7M577.6 298.0v4.7M576.0 299.4h4.7M578.3 297.1v4.7M576.7 299.1h4.7M579.1 296.8v4.7M577.5 298.8h4.7M579.8 296.4v4.7M578.3 298.9h4.7M580.7 296.6v4.7M579.3 299.7h4.7M581.7 297.4v4.7M579.8 298.5h4.7M582.2 296.1v4.7M580.5 298.1h4.7M582.9 295.7v4.7M581.6 299.2h4.7M583.9 296.8v4.7M582.1 298.0h4.7M584.4 295.6v4.7M582.8 297.7h4.7M585.2 295.4v4.7M583.4 297.1h4.7M585.8 294.8v4.7M584.5 298.1h4.7M586.8 295.8v4.7M585.0 297.1h4.7M587.3 294.8v4.7M585.4 295.9h4.7M587.8 293.6v4.7M586.0 295.6h4.7M588.4 293.2v4.7M587.1 296.9h4.7M589.5 294.5v4.7M587.7 296.1h4.7M590.0 293.8v4.7M588.5 296.6h4.7M590.9 294.2v4.7M589.2 296.4h4.7M591.6 294.0v4.7M590.2 296.8h4.7M592.5 294.4v4.7M590.9 296.5h4.7M593.3 294.1v4.7M591.2 294.7h4.7M593.6 292.3v4.7M592.1 294.9h4.7M594.5 292.6v4.7M592.8 294.4h4.7M595.1 292.0v4.7M593.8 295.2h4.7M596.2 292.8v4.7M594.1 293.5h4.7M596.5 291.1v4.7M595.2 294.6h4.7M597.6 292.2v4.7M595.5 292.9h4.7M597.9 290.5v4.7M596.7 294.4h4.7M599.1 292.0v4.7M597.5 294.3h4.7M599.8 291.9v4.7M597.6 292.3h4.7M599.9 289.9v4.7M598.6 293.1h4.7M601.0 290.7v4.7M599.2 292.5h4.7M601.5 290.1v4.7M599.6 291.6h4.7M602.0 289.2v4.7M600.9 293.0h4.7M603.2 290.6v4.7M601.1 291.7h4.7M603.5 289.3v4.7M602.2 292.6h4.7M604.6 290.2v4.7M602.8 291.9h4.7M605.2 289.6v4.7M603.9 292.5h4.7M606.2 290.1v4.7M604.1 290.8h4.7M606.4 288.5v4.7M605.1 291.3h4.7M607.5 289.0v4.7M605.7 290.6h4.7M608.0 288.3v4.7M606.3 290.0h4.7M608.6 287.6v4.7M607.3 290.6h4.7M609.7 288.2v4.7M607.7 289.7h4.7M610.1 287.3v4.7M608.3 289.0h4.7M610.7 286.7v4.7M609.1 289.1h4.7M611.5 286.8v4.7M609.4 287.9h4.7M611.8 285.5v4.7M610.7 289.1h4.7M613.0 286.7v4.7M611.5 289.1h4.7M613.8 286.8v4.7M611.3 286.8h4.7M613.7 284.5v4.7M612.4 287.5h4.7M614.7 285.2v4.7M612.9 286.9h4.7M615.2 284.6v4.7M613.4 286.4h4.7M615.8 284.1v4.7M614.5 287.0h4.7M616.9 284.7v4.7M615.4 287.2h4.7M617.8 284.9v4.7M615.8 286.0h4.7M618.1 283.7v4.7M616.3 285.3h4.7M618.7 283.0v4.7M617.5 286.3h4.7M619.9 284.0v4.7M617.6 284.7h4.7M620.0 282.4v4.7M618.2 284.2h4.7M620.6 281.8v4.7M618.9 283.9h4.7M621.2 281.6v4.7M620.0 284.5h4.7M622.3 282.2v4.7M620.3 283.7h4.7M622.7 281.3v4.7M621.0 283.4h4.7M623.3 281.0v4.7M621.3 282.6h4.7M623.7 280.2v4.7M622.3 282.8h4.7M624.6 280.4v4.7M622.8 282.1h4.7M625.1 279.8v4.7M624.0 282.8h4.7M626.3 280.4v4.7M623.9 281.3h4.7M626.3 279.0v4.7M624.1 280.3h4.7M626.4 278.0v4.7M625.7 281.3h4.7M628.1 279.0v4.7M625.6 280.1h4.7M628.0 277.8v4.7M625.9 279.5h4.7M628.3 277.1v4.7M626.6 279.2h4.7M629.0 276.9v4.7M626.9 278.5h4.7M629.2 276.1v4.7M626.0 277.1h4.7M628.4 274.7v4.7M627.6 277.3h4.7M629.9 275.0v4.7M628.7 277.2h4.7M631.0 274.9v4.7M628.8 276.4h4.7M631.2 274.1v4.7M628.1 275.3h4.7M630.4 272.9v4.7M628.6 274.8h4.7M631.0 272.4v4.7M629.4 274.3h4.7M631.8 271.9v4.7M630.7 273.8h4.7M633.1 271.5v4.7M629.8 272.8h4.7M632.1 270.4v4.7M629.9 272.0h4.7M632.2 269.6v4.7M629.5 270.9h4.7M631.8 268.6v4.7"/></defs>
<use href="#mb3" stroke="#d63a50" stroke-width="4.2" fill="none" opacity="0.3"/>
<use href="#mb3" stroke="#d63a50" stroke-width="1.7" fill="none" opacity="0.62"/>
<path d="M632.6 266L637.3 266L637.3 280L629 280Z" fill="#b3448f"/>
<path d="M286.3 287.6L287.8 287.8L289.3 288.0L290.8 288.2L292.3 288.4L293.8 288.6L295.4 288.8L296.9 289.0L298.4 289.3L299.9 289.5L301.4 289.8L303.0 290.0L304.5 290.3L306.0 290.6L307.5 290.9L309.1 291.3L310.7 291.7L312.2 292.1L313.8 292.6L315.3 293.1L316.9 293.6L318.4 294.1L319.9 294.7L321.4 295.2L322.9 295.8L324.4 296.3L325.8 296.8L327.3 297.3L328.8 297.7L330.2 298.1L331.6 298.5L333.1 298.9L334.6 299.2L336.1 299.6L337.6 299.9L339.1 300.2L340.6 300.6L342.1 300.9L343.6 301.2L345.1 301.6L346.6 301.9L348.1 302.3L349.6 302.6L351.1 303.0L352.6 303.3L354.1 303.7L355.7 304.1L357.3 304.6L358.8 305.0L360.2 305.5L361.6 305.9L363.0 306.2L364.3 306.4L365.7 306.5L367.2 306.6L368.7 306.7L370.1 306.8L371.6 306.8L373.1 306.9L374.6 306.9L376.0 306.9L377.5 307.0L379.0 306.9L380.5 306.9L382.0 306.9L383.4 306.9L384.9 306.8L386.4 306.8L387.9 306.7L389.4 306.7L390.9 306.6L392.4 306.6L393.9 306.5L395.4 306.5L396.9 306.4L398.4 306.4L399.9 306.3L401.4 306.3L402.9 306.2L404.4 306.2L405.9 306.1L407.4 306.1L408.9 306.0L410.4 306.0L411.9 305.9L413.4 305.8L414.9 305.8L416.4 305.7L417.9 305.6L419.4 305.6L420.9 305.5L422.4 305.5L423.9 305.4L425.4 305.3L426.9 305.3L428.4 305.2L429.9 305.1L431.4 305.1L432.9 305.0L434.4 304.9L435.9 304.9L437.4 304.8L438.9 304.7L440.4 304.7L441.9 304.6L443.4 304.5L444.9 304.4L446.4 304.4L447.9 304.3L449.4 304.2L450.9 304.2L452.4 304.1L453.9 304.0L455.4 304.0L456.9 303.9L458.4 303.8L459.9 303.8L461.4 303.7L462.9 303.7L464.4 303.6L465.9 303.5L467.4 303.5L468.9 303.4L470.4 303.4L471.9 303.3L473.4 303.3L474.9 303.2L476.4 303.2L477.9 303.1L479.4 303.1L480.9 303.0L482.4 303.0L483.9 303.0L485.4 302.9L486.9 302.9L488.4 302.8L489.9 302.8L491.4 302.7L492.9 302.7L494.4 302.6L495.9 302.6L497.4 302.5L498.9 302.4L500.4 302.4L501.9 302.3L503.4 302.2L504.9 302.1L506.4 302.1L507.9 302.0L509.4 301.9L510.9 301.8L512.4 301.8L513.9 301.7L515.4 301.6L516.9 301.5L518.4 301.5L519.9 301.4L521.4 301.3L522.9 301.2L524.4 301.1L525.9 301.0L527.4 300.9L528.8 300.9L530.3 300.8L531.8 300.7L533.3 300.6L534.8 300.5L536.3 300.4L537.8 300.3L539.3 300.1L540.8 300.0L542.2 299.9L543.7 299.8L545.2 299.6L546.7 299.5L548.2 299.3L549.7 299.1L551.1 299.0L552.6 298.8L554.1 298.6L555.6 298.4L557.1 298.3L558.6 298.1L560.2 297.9L561.7 297.7L563.2 297.6L564.6 297.4L566.1 297.3L567.6 297.1L569.1 296.9L570.6 296.7L572.0 296.5L573.5 296.3L574.9 296.1L576.3 295.8L577.8 295.6L579.2 295.2L580.6 294.9L582.1 294.6L583.5 294.2L585.0 293.8L586.4 293.4L587.9 293.0L589.4 292.6L590.8 292.2L592.3 291.7L593.8 291.3L595.3 290.8L596.8 290.3L598.2 289.9L599.6 289.4L600.1 289.2L600.6 289.1L601.0 288.9L601.5 288.7L602.0 288.6L602.5 288.4L603.0 288.2L603.5 288.0L603.9 287.8L604.4 287.6L604.9 287.5L605.4 287.3L605.9 287.1L606.4 286.9L606.9 286.7L607.4 286.5L607.9 286.3L608.4 286.1L608.9 285.9L609.4 285.7L609.9 285.5L610.4 285.3L610.8 285.1L611.3 284.9L611.8 284.7L612.3 284.5L612.8 284.3L613.3 284.1L613.8 283.9L614.2 283.7L614.7 283.5L615.2 283.3L615.7 283.0L616.3 282.8L616.8 282.6L617.3 282.4L617.8 282.2L618.3 282.0L618.7 281.8L619.2 281.6L619.7 281.4L620.1 281.2L620.6 281.0L621.0 280.7L621.4 280.5L621.8 280.3L622.3 280.0L622.8 279.8L623.2 279.5L623.7 279.2L624.1 279.0L624.5 278.7L624.9 278.4L625.2 278.2L625.6 277.9L626.0 277.6L626.3 277.2L626.7 276.9L627.0 276.5L627.3 276.1L627.6 275.6L628.0 275.0L628.3 274.2L628.7 273.4L629.1 272.2L629.5 270.1L637.3 271.9L637.3 274.4L637.3 276.6L636.7 278.1L636.0 279.3L635.4 280.4L634.7 281.4L634.0 282.3L633.3 283.1L632.7 283.8L632.0 284.4L631.4 284.9L630.8 285.4L630.1 285.9L629.5 286.3L628.9 286.7L628.3 287.0L627.8 287.4L627.2 287.7L626.7 288.0L626.2 288.3L625.6 288.6L625.0 288.8L624.4 289.1L623.9 289.4L623.3 289.6L622.8 289.9L622.3 290.1L621.7 290.3L621.2 290.5L620.7 290.7L620.2 290.9L619.7 291.1L619.3 291.3L618.8 291.5L618.3 291.7L617.8 292.0L617.2 292.2L616.7 292.4L616.2 292.6L615.7 292.8L615.2 293.0L614.7 293.2L614.2 293.4L613.6 293.6L613.1 293.8L612.6 294.0L612.1 294.2L611.6 294.4L611.1 294.6L610.6 294.8L610.1 295.0L609.6 295.2L609.1 295.4L608.6 295.6L608.1 295.7L607.6 295.9L607.1 296.1L606.5 296.3L606.0 296.5L605.5 296.7L605.0 296.9L604.5 297.1L604.0 297.2L603.4 297.4L602.9 297.6L602.4 297.8L600.8 298.3L599.2 298.7L597.7 299.1L596.2 299.5L594.7 300.0L593.2 300.4L591.6 300.8L590.1 301.2L588.6 301.5L587.0 301.9L585.5 302.3L583.9 302.6L582.4 302.9L580.8 303.2L579.2 303.5L577.7 303.8L576.1 304.0L574.5 304.2L573.0 304.3L571.4 304.5L569.9 304.6L568.4 304.8L566.9 304.9L565.4 305.0L563.8 305.1L562.3 305.3L560.8 305.4L559.4 305.5L557.9 305.6L556.4 305.7L554.9 305.9L553.4 306.0L551.9 306.1L550.3 306.2L548.8 306.3L547.3 306.5L545.8 306.6L544.3 306.7L542.8 306.8L541.2 306.8L539.7 306.9L538.2 307.0L536.7 307.0L535.2 307.1L533.7 307.2L532.2 307.2L530.7 307.3L529.2 307.3L527.6 307.4L526.1 307.4L524.6 307.4L523.1 307.5L521.6 307.5L520.1 307.6L518.6 307.6L517.1 307.6L515.6 307.7L514.1 307.7L512.6 307.7L511.1 307.8L509.6 307.8L508.1 307.8L506.6 307.9L505.1 307.9L503.6 307.9L502.1 308.0L500.6 308.0L499.1 308.0L497.6 308.1L496.1 308.1L494.6 308.2L493.1 308.2L491.6 308.3L490.1 308.3L488.6 308.4L487.1 308.4L485.6 308.5L484.1 308.5L482.6 308.5L481.1 308.6L479.6 308.6L478.1 308.7L476.6 308.7L475.1 308.8L473.6 308.8L472.1 308.8L470.6 308.9L469.1 308.9L467.6 309.0L466.1 309.0L464.6 309.1L463.1 309.1L461.6 309.2L460.1 309.2L458.6 309.3L457.1 309.3L455.6 309.4L454.1 309.5L452.6 309.5L451.1 309.6L449.6 309.7L448.1 309.7L446.6 309.8L445.1 309.9L443.6 309.9L442.1 310.0L440.6 310.1L439.1 310.1L437.6 310.2L436.1 310.3L434.6 310.3L433.1 310.4L431.6 310.4L430.1 310.5L428.6 310.6L427.1 310.6L425.6 310.7L424.1 310.8L422.6 310.8L421.1 310.9L419.6 310.9L418.1 311.0L416.6 311.1L415.1 311.1L413.6 311.2L412.1 311.2L410.6 311.3L409.1 311.4L407.6 311.4L406.1 311.5L404.6 311.5L403.1 311.6L401.6 311.6L400.1 311.7L398.6 311.7L397.1 311.8L395.6 311.8L394.1 311.9L392.6 311.9L391.1 312.0L389.6 312.0L388.1 312.1L386.6 312.1L385.1 312.1L383.6 312.2L382.0 312.2L380.5 312.2L379.0 312.2L377.5 312.2L376.0 312.2L374.4 312.2L372.9 312.2L371.4 312.1L369.9 312.0L368.3 312.0L366.8 311.9L365.3 311.8L363.7 311.6L362.0 311.3L360.4 311.0L358.8 310.5L357.2 310.1L355.7 309.6L354.3 309.2L352.9 308.8L351.4 308.4L349.9 308.1L348.4 307.7L346.9 307.4L345.4 307.0L343.9 306.7L342.4 306.4L340.9 306.0L339.4 305.7L337.9 305.4L336.4 305.0L334.9 304.7L333.4 304.3L331.9 304.0L330.4 303.6L328.8 303.2L327.2 302.7L325.7 302.2L324.2 301.7L322.6 301.2L321.1 300.7L319.6 300.1L318.1 299.5L316.6 299.0L315.1 298.4L313.7 297.9L312.2 297.3L310.8 296.8L309.3 296.4L307.9 296.0L306.5 295.6L305.0 295.2L303.5 294.9L302.0 294.6L300.6 294.2L299.1 293.9L297.6 293.6L296.1 293.4L294.6 293.1L293.2 292.8L291.7 292.5L290.2 292.3L288.7 292.0L287.2 291.8L285.7 291.5Z" fill="url(#g4)"/>
<defs><path id="mb4" d="M147.3 282.9h4.7M149.7 280.5v4.7M181.9 283.1h4.7M184.2 280.8v4.7M205.4 284.3h4.7M207.7 282.0v4.7M223.2 284.0h4.7M225.5 281.6v4.7M237.5 284.8h4.7M239.8 282.4v4.7M249.5 284.7h4.7M251.9 282.3v4.7M259.7 287.5h4.7M262.1 285.1v4.7M268.8 288.0h4.7M271.2 285.7v4.7M277.0 288.5h4.7M279.3 286.1v4.7M284.2 289.5h4.7M286.6 287.1v4.7M290.8 291.2h4.7M293.1 288.8v4.7M296.9 291.8h4.7M299.3 289.4v4.7M302.6 292.5h4.7M305.0 290.1v4.7M308.2 292.5h4.7M310.6 290.1v4.7M313.0 294.6h4.7M315.4 292.3v4.7M317.1 297.7h4.7M319.5 295.3v4.7M321.6 298.8h4.7M323.9 296.4v4.7M325.7 299.8h4.7M328.1 297.5v4.7M329.7 300.4h4.7M332.0 298.0v4.7M333.1 302.4h4.7M335.4 300.1v4.7M336.8 302.3h4.7M339.1 300.0v4.7M340.0 303.7h4.7M342.3 301.4v4.7M343.2 304.3h4.7M345.5 302.0v4.7M346.3 304.8h4.7M348.7 302.5v4.7M349.3 305.2h4.7M351.7 302.8v4.7M352.0 306.6h4.7M354.3 304.2v4.7M354.9 306.6h4.7M357.3 304.2v4.7M357.4 307.8h4.7M359.8 305.4v4.7M359.9 308.6h4.7M362.3 306.3v4.7M362.3 309.6h4.7M364.7 307.3v4.7M364.7 309.0h4.7M367.1 306.7v4.7M367.0 309.4h4.7M369.4 307.1v4.7M369.2 309.8h4.7M371.6 307.4v4.7M371.5 308.3h4.7M373.8 306.0v4.7M373.5 309.1h4.7M375.9 306.8v4.7M375.6 309.4h4.7M377.9 307.1v4.7M377.6 309.2h4.7M379.9 306.9v4.7M379.5 310.0h4.7M381.9 307.6v4.7M381.4 309.2h4.7M383.7 306.9v4.7M383.2 309.8h4.7M385.6 307.4v4.7M385.1 309.9h4.7M387.4 307.5v4.7M386.8 309.2h4.7M389.1 306.9v4.7M388.5 309.5h4.7M390.9 307.1v4.7M390.2 310.0h4.7M392.6 307.6v4.7M391.8 309.7h4.7M394.2 307.3v4.7M393.4 309.2h4.7M395.8 306.8v4.7M395.0 308.2h4.7M397.3 305.9v4.7M396.5 308.7h4.7M398.9 306.3v4.7M398.0 308.9h4.7M400.4 306.6v4.7M399.5 309.1h4.7M401.9 306.7v4.7M401.0 309.0h4.7M403.3 306.6v4.7M402.4 308.8h4.7M404.7 306.5v4.7M403.8 308.3h4.7M406.1 305.9v4.7M405.2 309.0h4.7M407.5 306.7v4.7M406.5 309.2h4.7M408.8 306.8v4.7M407.8 308.6h4.7M410.1 306.3v4.7M409.1 308.6h4.7M411.4 306.3v4.7M410.4 309.0h4.7M412.7 306.6v4.7M411.6 308.3h4.7M414.0 305.9v4.7M412.9 308.6h4.7M415.2 306.3v4.7M414.1 308.9h4.7M416.4 306.5v4.7M415.2 308.0h4.7M417.6 305.6v4.7M416.4 308.3h4.7M418.8 305.9v4.7M417.6 307.8h4.7M419.9 305.5v4.7M418.7 307.6h4.7M421.0 305.3v4.7M419.8 307.2h4.7M422.1 304.8v4.7M420.9 308.3h4.7M423.3 305.9v4.7M422.1 309.3h4.7M424.4 306.9v4.7M423.1 307.8h4.7M425.4 305.5v4.7M424.2 308.7h4.7M426.5 306.4v4.7M425.2 308.4h4.7M427.6 306.1v4.7M426.2 307.7h4.7M428.6 305.3v4.7M427.2 308.3h4.7M429.6 305.9v4.7M428.2 307.6h4.7M430.6 305.2v4.7M429.2 306.7h4.7M431.5 304.3v4.7M430.2 308.1h4.7M432.5 305.8v4.7M431.1 307.5h4.7M433.5 305.2v4.7M432.1 307.5h4.7M434.4 305.2v4.7M433.0 307.9h4.7M435.4 305.6v4.7M434.0 308.0h4.7M436.3 305.7v4.7M434.9 307.4h4.7M437.2 305.1v4.7M435.8 307.6h4.7M438.1 305.3v4.7M436.7 307.6h4.7M439.0 305.3v4.7M437.5 307.0h4.7M439.9 304.6v4.7M438.4 307.7h4.7M440.8 305.4v4.7M439.2 307.0h4.7M441.6 304.7v4.7M440.1 307.5h4.7M442.5 305.1v4.7M441.0 307.7h4.7M443.3 305.4v4.7M441.8 307.7h4.7M444.1 305.3v4.7M442.6 306.2h4.7M444.9 303.8v4.7M443.4 306.8h4.7M445.7 304.4v4.7M444.2 306.9h4.7M446.6 304.6v4.7M445.0 306.7h4.7M447.3 304.3v4.7M445.8 306.9h4.7M448.1 304.6v4.7M446.6 306.9h4.7M448.9 304.6v4.7M447.3 307.0h4.7M449.7 304.6v4.7M448.2 308.1h4.7M450.5 305.7v4.7M448.9 307.0h4.7M451.2 304.7v4.7M449.6 306.9h4.7M452.0 304.5v4.7M450.3 306.4h4.7M452.7 304.1v4.7M451.1 306.7h4.7M453.4 304.3v4.7M451.8 306.6h4.7M454.1 304.3v4.7M452.5 307.0h4.7M454.9 304.7v4.7M453.2 306.1h4.7M455.6 303.7v4.7M453.9 306.5h4.7M456.3 304.2v4.7M455.3 306.1h4.7M457.6 303.7v4.7M456.6 305.7h4.7M459.0 303.3v4.7M458.0 306.9h4.7M460.4 304.5v4.7M459.3 306.4h4.7M461.7 304.0v4.7M460.6 306.6h4.7M463.0 304.2v4.7M461.9 307.2h4.7M464.3 304.8v4.7M463.2 307.0h4.7M465.5 304.7v4.7M464.4 306.2h4.7M466.7 303.9v4.7M465.6 306.4h4.7M467.9 304.0v4.7M466.8 305.9h4.7M469.1 303.6v4.7M467.9 306.0h4.7M470.3 303.7v4.7M469.1 305.3h4.7M471.4 303.0v4.7M470.2 306.5h4.7M472.6 304.1v4.7M471.3 306.1h4.7M473.7 303.7v4.7M472.4 306.5h4.7M474.8 304.2v4.7M473.5 306.9h4.7M475.9 304.5v4.7M474.6 305.5h4.7M476.9 303.2v4.7M475.6 306.0h4.7M478.0 303.6v4.7M476.7 305.8h4.7M479.0 303.4v4.7M477.7 306.5h4.7M480.1 304.1v4.7M478.7 305.7h4.7M481.1 303.4v4.7M479.7 306.6h4.7M482.1 304.3v4.7M480.7 306.9h4.7M483.1 304.6v4.7M481.7 306.8h4.7M484.0 304.4v4.7M482.6 306.7h4.7M485.0 304.4v4.7M483.6 305.9h4.7M485.9 303.5v4.7M484.5 305.7h4.7M486.8 303.3v4.7M485.4 304.9h4.7M487.7 302.6v4.7M486.3 305.7h4.7M488.7 303.3v4.7M487.2 304.7h4.7M489.5 302.4v4.7M488.1 305.0h4.7M490.4 302.7v4.7M489.0 306.1h4.7M491.4 303.8v4.7M489.9 306.0h4.7M492.2 303.6v4.7M490.7 304.9h4.7M493.0 302.5v4.7M491.6 306.6h4.7M494.0 304.2v4.7M492.4 304.8h4.7M494.7 302.5v4.7M493.2 304.8h4.7M495.6 302.4v4.7M494.1 306.1h4.7M496.4 303.8v4.7M494.9 306.2h4.7M497.2 303.8v4.7M495.7 305.2h4.7M498.0 302.8v4.7M496.5 305.6h4.7M498.8 303.2v4.7M497.2 304.4h4.7M499.6 302.1v4.7M498.0 305.6h4.7M500.4 303.3v4.7M498.8 304.9h4.7M501.1 302.5v4.7M499.6 305.7h4.7M501.9 303.3v4.7M500.3 304.8h4.7M502.6 302.4v4.7M501.0 304.8h4.7M503.4 302.5v4.7M501.8 305.4h4.7M504.1 303.1v4.7M502.5 305.4h4.7M504.9 303.0v4.7M503.2 304.8h4.7M505.6 302.5v4.7M503.9 304.2h4.7M506.3 301.8v4.7M504.7 305.1h4.7M507.0 302.8v4.7M505.4 305.7h4.7M507.7 303.3v4.7M506.4 305.3h4.7M508.8 303.0v4.7M507.4 304.1h4.7M509.8 301.8v4.7M508.5 304.9h4.7M510.8 302.5v4.7M509.5 304.9h4.7M511.8 302.6v4.7M510.5 305.6h4.7M512.8 303.2v4.7M511.4 304.6h4.7M513.8 302.3v4.7M512.4 304.5h4.7M514.7 302.2v4.7M513.4 305.5h4.7M515.7 303.2v4.7M514.2 303.9h4.7M516.6 301.6v4.7M515.2 304.2h4.7M517.5 301.8v4.7M516.1 304.0h4.7M518.4 301.7v4.7M517.0 305.1h4.7M519.4 302.8v4.7M517.9 304.1h4.7M520.2 301.7v4.7M518.8 304.8h4.7M521.1 302.4v4.7M519.6 304.0h4.7M522.0 301.6v4.7M520.5 305.2h4.7M522.9 302.8v4.7M521.4 304.6h4.7M523.7 302.3v4.7M522.2 303.9h4.7M524.5 301.6v4.7M523.0 304.6h4.7M525.4 302.3v4.7M523.9 304.4h4.7M526.2 302.1v4.7M524.7 304.2h4.7M527.0 301.8v4.7M525.4 303.6h4.7M527.8 301.3v4.7M526.3 305.2h4.7M528.7 302.8v4.7M527.0 304.1h4.7M529.4 301.8v4.7M527.8 303.8h4.7M530.2 301.5v4.7M528.6 304.1h4.7M530.9 301.7v4.7M529.4 303.9h4.7M531.7 301.6v4.7M530.1 303.2h4.7M532.4 300.9v4.7M530.9 304.5h4.7M533.2 302.1v4.7M531.6 303.0h4.7M533.9 300.6v4.7M532.4 304.3h4.7M534.7 302.0v4.7M533.0 302.7h4.7M535.4 300.4v4.7M533.7 303.0h4.7M536.1 300.6v4.7M534.5 304.4h4.7M536.9 302.0v4.7M535.1 302.8h4.7M537.5 300.5v4.7M536.1 303.6h4.7M538.5 301.3v4.7M537.1 303.7h4.7M539.4 301.4v4.7M538.0 304.3h4.7M540.3 301.9v4.7M538.9 304.4h4.7M541.3 302.1v4.7M539.8 303.9h4.7M542.1 301.5v4.7M540.6 303.6h4.7M543.0 301.3v4.7M541.5 303.9h4.7M543.9 301.6v4.7M542.4 303.8h4.7M544.7 301.4v4.7M543.1 302.2h4.7M545.4 299.8v4.7M544.0 303.4h4.7M546.4 301.0v4.7M544.8 302.5h4.7M547.1 300.1v4.7M545.8 304.4h4.7M548.1 302.0v4.7M546.5 303.5h4.7M548.9 301.2v4.7M547.2 302.3h4.7M549.6 300.0v4.7M548.1 303.7h4.7M550.5 301.4v4.7M548.8 302.0h4.7M551.1 299.7v4.7M549.6 302.8h4.7M552.0 300.5v4.7M550.3 301.7h4.7M552.6 299.3v4.7M551.1 302.1h4.7M553.5 299.8v4.7M551.9 302.4h4.7M554.2 300.1v4.7M552.5 301.4h4.7M554.9 299.1v4.7M553.4 302.5h4.7M555.7 300.1v4.7M554.1 302.7h4.7M556.5 300.3v4.7M554.9 302.9h4.7M557.2 300.6v4.7M555.6 302.5h4.7M557.9 300.2v4.7M556.2 302.1h4.7M558.6 299.7v4.7M557.0 302.3h4.7M559.3 299.9v4.7M557.7 301.2h4.7M560.1 298.9v4.7M558.6 301.3h4.7M561.0 298.9v4.7M559.6 302.4h4.7M561.9 300.0v4.7M560.3 300.8h4.7M562.6 298.4v4.7M561.1 301.0h4.7M563.5 298.7v4.7M562.0 301.8h4.7M564.4 299.5v4.7M562.8 301.2h4.7M565.1 298.8v4.7M563.5 300.4h4.7M565.9 298.1v4.7M564.3 300.7h4.7M566.7 298.3v4.7M565.1 300.6h4.7M567.5 298.2v4.7M565.9 300.2h4.7M568.2 297.8v4.7M566.7 300.5h4.7M569.0 298.1v4.7M567.5 301.2h4.7M569.9 298.9v4.7M568.2 300.3h4.7M570.5 298.0v4.7M569.0 300.7h4.7M571.3 298.4v4.7M569.7 300.1h4.7M572.0 297.7v4.7M570.4 300.3h4.7M572.8 297.9v4.7M571.2 300.7h4.7M573.6 298.4v4.7M571.9 300.5h4.7M574.3 298.1v4.7M572.6 300.0h4.7M574.9 297.6v4.7M573.3 299.8h4.7M575.6 297.5v4.7M574.1 300.6h4.7M576.4 298.2v4.7M574.8 299.5h4.7M577.1 297.2v4.7M575.5 298.7h4.7M577.8 296.4v4.7M576.5 299.9h4.7M578.9 297.6v4.7M577.3 299.7h4.7M579.7 297.4v4.7M578.0 299.1h4.7M580.4 296.7v4.7M578.7 298.7h4.7M581.1 296.3v4.7M579.8 299.7h4.7M582.1 297.3v4.7M580.5 299.5h4.7M582.9 297.1v4.7M581.2 298.7h4.7M583.5 296.4v4.7M581.9 298.3h4.7M584.2 296.0v4.7M582.7 298.6h4.7M585.1 296.2v4.7M583.6 299.0h4.7M586.0 296.7v4.7M584.0 297.4h4.7M586.3 295.0v4.7M584.9 298.1h4.7M587.3 295.8v4.7M585.2 296.1h4.7M587.5 293.8v4.7M586.1 296.9h4.7M588.5 294.5v4.7M587.0 297.4h4.7M589.4 295.1v4.7M587.6 296.9h4.7M590.0 294.6v4.7M588.1 295.9h4.7M590.4 293.6v4.7M589.1 297.0h4.7M591.5 294.6v4.7M589.8 296.7h4.7M592.1 294.4v4.7M590.6 296.5h4.7M592.9 294.2v4.7M591.1 295.6h4.7M593.5 293.3v4.7M591.9 295.5h4.7M594.3 293.2v4.7M592.7 295.3h4.7M595.0 292.9v4.7M593.5 295.4h4.7M595.9 293.0v4.7M594.2 295.0h4.7M596.6 292.7v4.7M594.9 294.7h4.7M597.3 292.3v4.7M595.8 295.0h4.7M598.2 292.6v4.7M596.6 295.0h4.7M599.0 292.7v4.7M597.1 294.2h4.7M599.5 291.8v4.7M598.1 294.7h4.7M600.4 292.3v4.7M598.2 292.6h4.7M600.5 290.2v4.7M599.7 295.0h4.7M602.1 292.6v4.7M599.7 292.6h4.7M602.1 290.3v4.7M600.5 292.7h4.7M602.8 290.3v4.7M601.4 293.0h4.7M603.7 290.6v4.7M602.1 293.1h4.7M604.5 290.7v4.7M602.6 292.3h4.7M605.0 290.0v4.7M602.9 291.0h4.7M605.2 288.6v4.7M603.9 291.5h4.7M606.2 289.1v4.7M604.4 290.7h4.7M606.8 288.3v4.7M605.7 291.7h4.7M608.0 289.3v4.7M606.1 290.6h4.7M608.4 288.2v4.7M606.3 289.1h4.7M608.6 286.7v4.7M607.4 289.8h4.7M609.8 287.5v4.7M608.3 290.2h4.7M610.7 287.8v4.7M608.7 289.0h4.7M611.1 286.7v4.7M609.8 289.8h4.7M612.1 287.4v4.7M609.9 288.2h4.7M612.3 285.8v4.7M610.9 288.8h4.7M613.3 286.4v4.7M611.9 289.3h4.7M614.3 286.9v4.7M612.4 288.4h4.7M614.7 286.1v4.7M612.8 287.5h4.7M615.1 285.2v4.7M613.5 287.4h4.7M615.8 285.0v4.7M614.6 288.2h4.7M616.9 285.8v4.7M615.2 287.7h4.7M617.6 285.3v4.7M615.8 287.2h4.7M618.2 284.8v4.7M616.6 287.1h4.7M619.0 284.8v4.7M617.1 286.3h4.7M619.5 284.0v4.7M617.8 286.1h4.7M620.2 283.7v4.7M618.5 285.7h4.7M620.8 283.4v4.7M619.1 285.2h4.7M621.4 282.9v4.7M620.2 285.9h4.7M622.5 283.5v4.7M620.3 284.3h4.7M622.6 281.9v4.7M621.9 285.9h4.7M624.2 283.5v4.7M622.1 284.7h4.7M624.5 282.3v4.7M622.4 283.7h4.7M624.8 281.3v4.7M623.7 284.3h4.7M626.0 281.9v4.7M624.4 284.1h4.7M626.7 281.7v4.7M624.5 282.8h4.7M626.9 280.5v4.7M624.6 281.6h4.7M626.9 279.2v4.7M625.7 281.8h4.7M628.1 279.5v4.7M626.2 281.4h4.7M628.6 279.0v4.7M626.5 280.6h4.7M628.9 278.2v4.7M626.6 279.7h4.7M629.0 277.3v4.7M627.4 279.4h4.7M629.7 277.0v4.7M628.4 279.3h4.7M630.8 277.0v4.7M628.7 278.5h4.7M631.0 276.2v4.7M629.7 278.3h4.7M632.1 276.0v4.7M628.8 276.9h4.7M631.2 274.6v4.7M630.3 276.9h4.7M632.7 274.6v4.7M629.7 275.8h4.7M632.1 273.4v4.7M630.8 275.4h4.7M633.2 273.0v4.7M630.9 274.6h4.7M633.3 272.3v4.7M632.0 274.0h4.7M634.4 271.6v4.7M631.6 273.0h4.7M634.0 270.7v4.7M631.3 272.1h4.7M633.6 269.7v4.7M631.8 271.2h4.7M634.1 268.8v4.7"/></defs>
<use href="#mb4" stroke="#b0408c" stroke-width="4.2" fill="none" opacity="0.3"/>
<use href="#mb4" stroke="#b0408c" stroke-width="1.7" fill="none" opacity="0.62"/>
<rect x="68.5" y="198.4" width="614.1" height="158.1" fill="none" stroke="#000" stroke-width="1.35"/>
<line x1="61.1" y1="356.5" x2="68.5" y2="356.5" stroke="#000" stroke-width="1.35"/>
<text x="57.9" y="363.9" text-anchor="end" font-size="22.5">1.0</text>
<line x1="61.1" y1="324.9" x2="68.5" y2="324.9" stroke="#000" stroke-width="1.35"/>
<text x="57.9" y="332.3" text-anchor="end" font-size="22.5">1.5</text>
<line x1="61.1" y1="293.3" x2="68.5" y2="293.3" stroke="#000" stroke-width="1.35"/>
<text x="57.9" y="300.7" text-anchor="end" font-size="22.5">2.0</text>
<line x1="61.1" y1="261.6" x2="68.5" y2="261.6" stroke="#000" stroke-width="1.35"/>
<text x="57.9" y="269.0" text-anchor="end" font-size="22.5">2.5</text>
<line x1="61.1" y1="230.0" x2="68.5" y2="230.0" stroke="#000" stroke-width="1.35"/>
<text x="57.9" y="237.4" text-anchor="end" font-size="22.5">3.0</text>
<line x1="61.1" y1="198.4" x2="68.5" y2="198.4" stroke="#000" stroke-width="1.35"/>
<text x="57.9" y="205.8" text-anchor="end" font-size="22.5">3.5</text>
<line x1="68.7" y1="356.5" x2="68.7" y2="363.7" stroke="#000" stroke-width="1.35"/>
<line x1="98.7" y1="356.5" x2="98.7" y2="361.6" stroke="#000" stroke-width="1.35"/>
<line x1="120.0" y1="356.5" x2="120.0" y2="361.6" stroke="#000" stroke-width="1.35"/>
<line x1="136.5" y1="356.5" x2="136.5" y2="363.7" stroke="#000" stroke-width="1.35"/>
<line x1="150.0" y1="356.5" x2="150.0" y2="361.6" stroke="#000" stroke-width="1.35"/>
<line x1="161.5" y1="356.5" x2="161.5" y2="361.6" stroke="#000" stroke-width="1.35"/>
<line x1="171.4" y1="356.5" x2="171.4" y2="361.6" stroke="#000" stroke-width="1.35"/>
<line x1="180.1" y1="356.5" x2="180.1" y2="361.6" stroke="#000" stroke-width="1.35"/>
<line x1="187.9" y1="356.5" x2="187.9" y2="363.7" stroke="#000" stroke-width="1.35"/>
<line x1="239.2" y1="356.5" x2="239.2" y2="361.6" stroke="#000" stroke-width="1.35"/>
<line x1="269.2" y1="356.5" x2="269.2" y2="361.6" stroke="#000" stroke-width="1.35"/>
<line x1="290.5" y1="356.5" x2="290.5" y2="361.6" stroke="#000" stroke-width="1.35"/>
<line x1="307.0" y1="356.5" x2="307.0" y2="361.6" stroke="#000" stroke-width="1.35"/>
<line x1="320.5" y1="356.5" x2="320.5" y2="361.6" stroke="#000" stroke-width="1.35"/>
<line x1="332.0" y1="356.5" x2="332.0" y2="361.6" stroke="#000" stroke-width="1.35"/>
<line x1="341.9" y1="356.5" x2="341.9" y2="361.6" stroke="#000" stroke-width="1.35"/>
<line x1="350.6" y1="356.5" x2="350.6" y2="361.6" stroke="#000" stroke-width="1.35"/>
<line x1="358.4" y1="356.5" x2="358.4" y2="363.7" stroke="#000" stroke-width="1.35"/>
<line x1="409.7" y1="356.5" x2="409.7" y2="361.6" stroke="#000" stroke-width="1.35"/>
<line x1="439.7" y1="356.5" x2="439.7" y2="361.6" stroke="#000" stroke-width="1.35"/>
<line x1="461.0" y1="356.5" x2="461.0" y2="361.6" stroke="#000" stroke-width="1.35"/>
<line x1="477.5" y1="356.5" x2="477.5" y2="361.6" stroke="#000" stroke-width="1.35"/>
<line x1="491.0" y1="356.5" x2="491.0" y2="361.6" stroke="#000" stroke-width="1.35"/>
<line x1="502.5" y1="356.5" x2="502.5" y2="361.6" stroke="#000" stroke-width="1.35"/>
<line x1="512.4" y1="356.5" x2="512.4" y2="361.6" stroke="#000" stroke-width="1.35"/>
<line x1="521.1" y1="356.5" x2="521.1" y2="361.6" stroke="#000" stroke-width="1.35"/>
<line x1="528.9" y1="356.5" x2="528.9" y2="363.7" stroke="#000" stroke-width="1.35"/>
<line x1="580.2" y1="356.5" x2="580.2" y2="361.6" stroke="#000" stroke-width="1.35"/>
<line x1="610.2" y1="356.5" x2="610.2" y2="361.6" stroke="#000" stroke-width="1.35"/>
<line x1="631.5" y1="356.5" x2="631.5" y2="361.6" stroke="#000" stroke-width="1.35"/>
<line x1="648.0" y1="356.5" x2="648.0" y2="363.7" stroke="#000" stroke-width="1.35"/>
<line x1="661.5" y1="356.5" x2="661.5" y2="361.6" stroke="#000" stroke-width="1.35"/>
<line x1="673.0" y1="356.5" x2="673.0" y2="361.6" stroke="#000" stroke-width="1.35"/>
<line x1="682.9" y1="356.5" x2="682.9" y2="361.6" stroke="#000" stroke-width="1.35"/>
<rect x="86.1" y="204.2" width="100.8" height="34.2" fill="#fff" stroke="#000" stroke-width="2.7"/><text x="94.7" y="227.3" font-size="22.4" textLength="84.2" lengthAdjust="spacing">1.8 [mm]</text>
<line x1="136.4" y1="245.5" x2="136.4" y2="288.5" stroke="#000" stroke-width="2.7"/><path d="M130.9 285.9L141.9 285.9L136.4 296.5Z" fill="#000" stroke="#000" stroke-width="1.1" stroke-linejoin="round"/>
<rect x="402.5" y="212.5" width="101.2" height="34.5" fill="#fff" stroke="#000" stroke-width="2.7"/><text x="410.8" y="235.8" font-size="22.4" textLength="85.2" lengthAdjust="spacing">5.3 [mm]</text>
<line x1="396" y1="229.5" x2="369.5" y2="229.5" stroke="#000" stroke-width="2.7"/><path d="M372.1 224.0L372.1 235.0L361.5 229.5Z" fill="#000" stroke="#000" stroke-width="1.1" stroke-linejoin="round"/>
<text x="69.0" y="385.2" text-anchor="middle" font-size="22.9">2</text>
<text x="136.8" y="385.2" text-anchor="middle" font-size="22.9">5</text>
<text x="188.2" y="385.2" text-anchor="middle" font-size="22.9">10</text>
<text x="358.7" y="385.2" text-anchor="middle" font-size="22.9">100</text>
<text x="529.2" y="385.2" text-anchor="middle" font-size="22.9">1000</text>
<text x="648.3" y="385.2" text-anchor="middle" font-size="22.9">5000</text>
<g transform="translate(34.5,135) rotate(-90)" font-size="21.8"><text x="0" y="0" font-style="italic">r</text><text x="9.2" y="5.6" font-style="italic" font-size="18.6">NN</text><text x="43.5" y="0">[mm]</text><rect x="-0.8" y="-14.6" width="10.6" height="1.25"/></g>
<g transform="translate(18.6,362.4) rotate(-90)" font-size="21.8"><text x="0" y="0" textLength="30.6" lengthAdjust="spacingAndGlyphs">Std</text><text x="36.5" y="0" textLength="33.8" lengthAdjust="spacingAndGlyphs">Dev</text><text x="76.9" y="0" font-style="italic">r</text><text x="86.10000000000001" y="5.6" font-style="italic" font-size="18.6">NN</text><text x="120.4" y="0">[mm]</text></g>
<text x="313.4" y="410.9" font-size="24.8" font-style="italic" textLength="14.2" lengthAdjust="spacingAndGlyphs">y</text>
<text x="326.0" y="401.7" font-size="19">+</text>
<path d="M340.6 401.9H355.4M340.6 406.8H355.4" stroke="#000" stroke-width="1.35"/>
<text x="358.2" y="410.9" font-size="24.8" font-style="italic" textLength="13.6" lengthAdjust="spacingAndGlyphs">y</text>
<text x="370.6" y="410.9" font-size="24.8" font-style="italic" textLength="15.6" lengthAdjust="spacingAndGlyphs">u</text>
<text x="384.6" y="415.6" font-size="17" font-style="italic" textLength="9.2" lengthAdjust="spacingAndGlyphs">τ</text>
<line x1="399.4" y1="414.6" x2="406.5" y2="391.6" stroke="#000" stroke-width="1.3"/>
<text x="411.6" y="410.9" font-size="24.8" font-style="italic" textLength="10.2" lengthAdjust="spacingAndGlyphs">ν</text>
<text x="423.6" y="416.8" font-size="22" textLength="16.0" lengthAdjust="spacingAndGlyphs">∞</text>
</svg>
</body></html>
